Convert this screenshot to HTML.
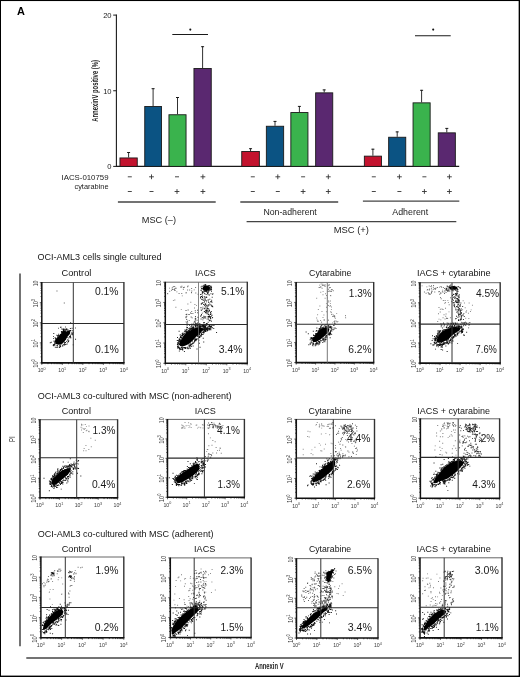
<!DOCTYPE html>
<html><head><meta charset="utf-8"><style>
html,body{margin:0;padding:0;background:#fff;}
#fig{position:relative;width:520px;height:677px;overflow:hidden;background:#fff;will-change:transform;}
#fig svg{position:absolute;left:0;top:0;}
text{font-family:"Liberation Sans", sans-serif;}
</style></head><body>
<div id="fig">
<svg width="520" height="677" viewBox="0 0 520 677" font-family='"Liberation Sans", sans-serif'>
<rect x="0" y="0" width="520" height="677" fill="#fff"/>
<text x="17.1" y="15.4" font-size="10.6" textLength="7.9" lengthAdjust="spacingAndGlyphs" font-weight="bold" fill="#000">A</text>
<line x1="116.4" y1="14.6" x2="116.4" y2="166.9" stroke="#1a1a1a" stroke-width="1.1"/>
<line x1="113.2" y1="15.1" x2="116.4" y2="15.1" stroke="#1a1a1a" stroke-width="1"/>
<text x="111.6" y="17.9" font-size="7.6" text-anchor="end" fill="#222">20</text>
<line x1="113.2" y1="90.75" x2="116.4" y2="90.75" stroke="#1a1a1a" stroke-width="1"/>
<text x="111.6" y="93.55" font-size="7.6" text-anchor="end" fill="#222">10</text>
<line x1="113.2" y1="166.4" x2="116.4" y2="166.4" stroke="#1a1a1a" stroke-width="1"/>
<text x="111.6" y="169.2" font-size="7.6" text-anchor="end" fill="#222">0</text>
<line x1="116.4" y1="166.4" x2="459.2" y2="166.4" stroke="#1a1a1a" stroke-width="1.1"/>
<text transform="translate(98.1,90.9) rotate(-90)" font-size="9.4" font-weight="bold" text-anchor="middle" textLength="61.6" lengthAdjust="spacingAndGlyphs" fill="#1a1a1a">AnnexinV positive (%)</text>
<line x1="128.6" y1="152.1" x2="128.6" y2="157.5" stroke="#1a1a1a" stroke-width="0.9"/>
<line x1="127.1" y1="152.5" x2="130.1" y2="152.5" stroke="#1a1a1a" stroke-width="1"/>
<rect x="119.95" y="157.95" width="17.3" height="8.45" fill="#c3132e" stroke="#1a1a1a" stroke-width="0.9"/>
<line x1="153.1" y1="88.3" x2="153.1" y2="106" stroke="#1a1a1a" stroke-width="0.9"/>
<line x1="151.6" y1="88.7" x2="154.6" y2="88.7" stroke="#1a1a1a" stroke-width="1"/>
<rect x="144.75" y="106.45" width="16.7" height="59.95" fill="#0b5383" stroke="#1a1a1a" stroke-width="0.9"/>
<line x1="177.5" y1="97.1" x2="177.5" y2="114.3" stroke="#1a1a1a" stroke-width="0.9"/>
<line x1="176" y1="97.5" x2="179" y2="97.5" stroke="#1a1a1a" stroke-width="1"/>
<rect x="168.95" y="114.75" width="17.1" height="51.65" fill="#3ab34d" stroke="#1a1a1a" stroke-width="0.9"/>
<line x1="202.6" y1="46.3" x2="202.6" y2="68" stroke="#1a1a1a" stroke-width="0.9"/>
<line x1="201.1" y1="46.7" x2="204.1" y2="46.7" stroke="#1a1a1a" stroke-width="1"/>
<rect x="193.95" y="68.45" width="17.3" height="97.95" fill="#5a2870" stroke="#1a1a1a" stroke-width="0.9"/>
<line x1="250.55" y1="148.3" x2="250.55" y2="151" stroke="#1a1a1a" stroke-width="0.9"/>
<line x1="249.05" y1="148.7" x2="252.05" y2="148.7" stroke="#1a1a1a" stroke-width="1"/>
<rect x="241.75" y="151.45" width="17.6" height="14.95" fill="#c3132e" stroke="#1a1a1a" stroke-width="0.9"/>
<line x1="275" y1="121" x2="275" y2="125.8" stroke="#1a1a1a" stroke-width="0.9"/>
<line x1="273.5" y1="121.4" x2="276.5" y2="121.4" stroke="#1a1a1a" stroke-width="1"/>
<rect x="266.35" y="126.25" width="17.3" height="40.15" fill="#0b5383" stroke="#1a1a1a" stroke-width="0.9"/>
<line x1="299.4" y1="106" x2="299.4" y2="112.1" stroke="#1a1a1a" stroke-width="0.9"/>
<line x1="297.9" y1="106.4" x2="300.9" y2="106.4" stroke="#1a1a1a" stroke-width="1"/>
<rect x="290.85" y="112.55" width="17.1" height="53.85" fill="#3ab34d" stroke="#1a1a1a" stroke-width="0.9"/>
<line x1="324.2" y1="89.5" x2="324.2" y2="92.4" stroke="#1a1a1a" stroke-width="0.9"/>
<line x1="322.7" y1="89.9" x2="325.7" y2="89.9" stroke="#1a1a1a" stroke-width="1"/>
<rect x="315.65" y="92.85" width="17.1" height="73.55" fill="#5a2870" stroke="#1a1a1a" stroke-width="0.9"/>
<line x1="372.9" y1="148.8" x2="372.9" y2="155.7" stroke="#1a1a1a" stroke-width="0.9"/>
<line x1="371.4" y1="149.2" x2="374.4" y2="149.2" stroke="#1a1a1a" stroke-width="1"/>
<rect x="364.35" y="156.15" width="17.1" height="10.25" fill="#c3132e" stroke="#1a1a1a" stroke-width="0.9"/>
<line x1="397.2" y1="131.5" x2="397.2" y2="136.8" stroke="#1a1a1a" stroke-width="0.9"/>
<line x1="395.7" y1="131.9" x2="398.7" y2="131.9" stroke="#1a1a1a" stroke-width="1"/>
<rect x="388.65" y="137.25" width="17.1" height="29.15" fill="#0b5383" stroke="#1a1a1a" stroke-width="0.9"/>
<line x1="421.6" y1="89.9" x2="421.6" y2="102.4" stroke="#1a1a1a" stroke-width="0.9"/>
<line x1="420.1" y1="90.3" x2="423.1" y2="90.3" stroke="#1a1a1a" stroke-width="1"/>
<rect x="413.05" y="102.85" width="17.1" height="63.55" fill="#3ab34d" stroke="#1a1a1a" stroke-width="0.9"/>
<line x1="446.8" y1="128" x2="446.8" y2="132.4" stroke="#1a1a1a" stroke-width="0.9"/>
<line x1="445.3" y1="128.4" x2="448.3" y2="128.4" stroke="#1a1a1a" stroke-width="1"/>
<rect x="438.25" y="132.85" width="17.1" height="33.55" fill="#5a2870" stroke="#1a1a1a" stroke-width="0.9"/>
<line x1="172.3" y1="34.45" x2="208" y2="34.45" stroke="#1a1a1a" stroke-width="1.1"/>
<circle cx="190.3" cy="29.6" r="1.05" fill="#111"/>
<line x1="415" y1="35.75" x2="450.7" y2="35.75" stroke="#1a1a1a" stroke-width="1.1"/>
<circle cx="433.2" cy="29.6" r="1.05" fill="#111"/>
<line x1="127.8" y1="176.8" x2="131.8" y2="176.8" stroke="#333" stroke-width="0.9"/>
<line x1="127.8" y1="191.5" x2="131.8" y2="191.5" stroke="#333" stroke-width="0.9"/>
<line x1="149.1" y1="176.8" x2="153.9" y2="176.8" stroke="#333" stroke-width="0.9"/>
<line x1="151.5" y1="174.4" x2="151.5" y2="179.2" stroke="#333" stroke-width="0.9"/>
<line x1="149.5" y1="191.5" x2="153.5" y2="191.5" stroke="#333" stroke-width="0.9"/>
<line x1="175" y1="176.8" x2="179" y2="176.8" stroke="#333" stroke-width="0.9"/>
<line x1="174.6" y1="191.5" x2="179.4" y2="191.5" stroke="#333" stroke-width="0.9"/>
<line x1="177" y1="189.1" x2="177" y2="193.9" stroke="#333" stroke-width="0.9"/>
<line x1="200.5" y1="176.8" x2="205.3" y2="176.8" stroke="#333" stroke-width="0.9"/>
<line x1="202.9" y1="174.4" x2="202.9" y2="179.2" stroke="#333" stroke-width="0.9"/>
<line x1="200.5" y1="191.5" x2="205.3" y2="191.5" stroke="#333" stroke-width="0.9"/>
<line x1="202.9" y1="189.1" x2="202.9" y2="193.9" stroke="#333" stroke-width="0.9"/>
<line x1="250.8" y1="176.8" x2="254.8" y2="176.8" stroke="#333" stroke-width="0.9"/>
<line x1="250.8" y1="191.5" x2="254.8" y2="191.5" stroke="#333" stroke-width="0.9"/>
<line x1="275.4" y1="176.8" x2="280.2" y2="176.8" stroke="#333" stroke-width="0.9"/>
<line x1="277.8" y1="174.4" x2="277.8" y2="179.2" stroke="#333" stroke-width="0.9"/>
<line x1="275.8" y1="191.5" x2="279.8" y2="191.5" stroke="#333" stroke-width="0.9"/>
<line x1="301.1" y1="176.8" x2="305.1" y2="176.8" stroke="#333" stroke-width="0.9"/>
<line x1="300.7" y1="191.5" x2="305.5" y2="191.5" stroke="#333" stroke-width="0.9"/>
<line x1="303.1" y1="189.1" x2="303.1" y2="193.9" stroke="#333" stroke-width="0.9"/>
<line x1="325.9" y1="176.8" x2="330.7" y2="176.8" stroke="#333" stroke-width="0.9"/>
<line x1="328.3" y1="174.4" x2="328.3" y2="179.2" stroke="#333" stroke-width="0.9"/>
<line x1="325.9" y1="191.5" x2="330.7" y2="191.5" stroke="#333" stroke-width="0.9"/>
<line x1="328.3" y1="189.1" x2="328.3" y2="193.9" stroke="#333" stroke-width="0.9"/>
<line x1="371.8" y1="176.8" x2="375.8" y2="176.8" stroke="#333" stroke-width="0.9"/>
<line x1="371.8" y1="191.5" x2="375.8" y2="191.5" stroke="#333" stroke-width="0.9"/>
<line x1="397" y1="176.8" x2="401.8" y2="176.8" stroke="#333" stroke-width="0.9"/>
<line x1="399.4" y1="174.4" x2="399.4" y2="179.2" stroke="#333" stroke-width="0.9"/>
<line x1="397.4" y1="191.5" x2="401.4" y2="191.5" stroke="#333" stroke-width="0.9"/>
<line x1="422.4" y1="176.8" x2="426.4" y2="176.8" stroke="#333" stroke-width="0.9"/>
<line x1="422" y1="191.5" x2="426.8" y2="191.5" stroke="#333" stroke-width="0.9"/>
<line x1="424.4" y1="189.1" x2="424.4" y2="193.9" stroke="#333" stroke-width="0.9"/>
<line x1="447" y1="176.8" x2="451.8" y2="176.8" stroke="#333" stroke-width="0.9"/>
<line x1="449.4" y1="174.4" x2="449.4" y2="179.2" stroke="#333" stroke-width="0.9"/>
<line x1="447" y1="191.5" x2="451.8" y2="191.5" stroke="#333" stroke-width="0.9"/>
<line x1="449.4" y1="189.1" x2="449.4" y2="193.9" stroke="#333" stroke-width="0.9"/>
<text x="108.5" y="179.6" font-size="8" text-anchor="end" textLength="47" lengthAdjust="spacingAndGlyphs" fill="#222">IACS-010759</text>
<text x="108.5" y="189.3" font-size="8" text-anchor="end" textLength="34" lengthAdjust="spacingAndGlyphs" fill="#222">cytarabine</text>
<line x1="117.9" y1="202" x2="215.7" y2="202" stroke="#444" stroke-width="1.3"/>
<line x1="240.3" y1="202" x2="338.2" y2="202" stroke="#444" stroke-width="1.3"/>
<line x1="362.9" y1="201.2" x2="459.3" y2="201.2" stroke="#444" stroke-width="1.3"/>
<line x1="246.6" y1="221.6" x2="456.3" y2="221.6" stroke="#444" stroke-width="1.3"/>
<text x="141.8" y="222.6" font-size="8.5" textLength="34.2" lengthAdjust="spacingAndGlyphs" fill="#222">MSC (–)</text>
<text x="263.4" y="215" font-size="8.5" textLength="53.4" lengthAdjust="spacingAndGlyphs" fill="#222">Non-adherent</text>
<text x="392.3" y="214.6" font-size="8.5" textLength="35.9" lengthAdjust="spacingAndGlyphs" fill="#222">Adherent</text>
<text x="333.7" y="233.4" font-size="8.5" textLength="35.3" lengthAdjust="spacingAndGlyphs" fill="#222">MSC (+)</text>
<line x1="20" y1="273.5" x2="20" y2="646.2" stroke="#444" stroke-width="1.5"/>
<line x1="26.3" y1="658" x2="511.9" y2="658" stroke="#444" stroke-width="1.5"/>
<text transform="translate(14.8,439.1) rotate(-90)" font-size="9" text-anchor="middle" fill="#333" textLength="5.8" lengthAdjust="spacingAndGlyphs">PI</text>
<text x="255" y="668.9" font-size="8.6" textLength="28.6" lengthAdjust="spacingAndGlyphs" font-weight="bold" fill="#222">Annexin V</text>
<text x="37.4" y="259.6" font-size="9" textLength="124.2" lengthAdjust="spacingAndGlyphs" fill="#151515">OCI-AML3 cells single cultured</text>
<text x="37.7" y="398.7" font-size="9" textLength="193.8" lengthAdjust="spacingAndGlyphs" fill="#151515">OCI-AML3 co-cultured with MSC (non-adherent)</text>
<text x="37.7" y="536.5" font-size="9" textLength="175.8" lengthAdjust="spacingAndGlyphs" fill="#151515">OCI-AML3 co-cultured with MSC (adherent)</text>
<path d="M56.5,290.5h0.95v0.95h-0.95zM63.8,302.5h0.95v0.95h-0.95zM65,326.5h0.95v0.95h-0.95zM75,327.5h0.95v0.95h-0.95zM58,327.8h0.95v0.95h-0.95zM61,328.5h0.95v0.95h-0.95z" fill="#555"/>
<path d="M68.31,340.26h0.95v0.95h-0.95zM54.08,344.58h0.95v0.95h-0.95zM54.14,342.14h0.95v0.95h-0.95zM57.31,336.72h0.95v0.95h-0.95zM62.68,329.06h0.95v0.95h-0.95zM60.9,331.29h0.95v0.95h-0.95zM56.37,334.86h0.95v0.95h-0.95zM68.07,341.06h0.95v0.95h-0.95zM53.16,344.28h0.95v0.95h-0.95zM58.58,335.43h0.95v0.95h-0.95zM60.43,333.84h0.95v0.95h-0.95zM67.35,341.85h0.95v0.95h-0.95zM57.23,334.92h0.95v0.95h-0.95zM69.4,336.48h0.95v0.95h-0.95zM61.18,332.3h0.95v0.95h-0.95zM63.95,342.62h0.95v0.95h-0.95zM63.41,329.07h0.95v0.95h-0.95zM63.31,343.96h0.95v0.95h-0.95zM65.28,328.86h0.95v0.95h-0.95zM67.44,339.42h0.95v0.95h-0.95zM53.31,332.93h0.95v0.95h-0.95zM64.26,342.77h0.95v0.95h-0.95zM64.75,328.88h0.95v0.95h-0.95zM66.16,341.16h0.95v0.95h-0.95zM71.88,334.21h0.95v0.95h-0.95zM59.4,346.37h0.95v0.95h-0.95zM66.38,329.04h0.95v0.95h-0.95zM53.6,340.49h0.95v0.95h-0.95zM71.65,333.12h0.95v0.95h-0.95zM53.07,344.71h0.95v0.95h-0.95zM64.1,344.15h0.95v0.95h-0.95zM55.45,337.79h0.95v0.95h-0.95zM72.73,344.4h0.95v0.95h-0.95zM70.1,330.04h0.95v0.95h-0.95zM52.99,337.88h0.95v0.95h-0.95zM64.33,344.34h0.95v0.95h-0.95zM70.48,337.4h0.95v0.95h-0.95zM60.03,334h0.95v0.95h-0.95zM57.25,346.49h0.95v0.95h-0.95zM53.7,340.98h0.95v0.95h-0.95zM61.14,331h0.95v0.95h-0.95zM66.21,329.04h0.95v0.95h-0.95zM60.71,326.65h0.95v0.95h-0.95zM53.16,343.92h0.95v0.95h-0.95zM54.61,337.37h0.95v0.95h-0.95zM62.37,328.46h0.95v0.95h-0.95zM50.84,341.77h0.95v0.95h-0.95zM57.35,335.98h0.95v0.95h-0.95zM58.18,333.87h0.95v0.95h-0.95zM58.93,347.01h0.95v0.95h-0.95zM70.64,333.8h0.95v0.95h-0.95zM64.22,342.28h0.95v0.95h-0.95zM63.3,328.59h0.95v0.95h-0.95zM59.98,345.39h0.95v0.95h-0.95zM69.46,329.97h0.95v0.95h-0.95zM67.6,329.51h0.95v0.95h-0.95zM65.35,343.96h0.95v0.95h-0.95zM71.72,330.33h0.95v0.95h-0.95zM66.3,328.2h0.95v0.95h-0.95zM62.79,329.2h0.95v0.95h-0.95zM72.74,331.91h0.95v0.95h-0.95zM60.1,334.01h0.95v0.95h-0.95zM67.66,339.38h0.95v0.95h-0.95zM57.21,336.77h0.95v0.95h-0.95zM69.3,335.94h0.95v0.95h-0.95zM70.21,322.13h0.95v0.95h-0.95zM52.73,344.85h0.95v0.95h-0.95zM62.53,345.24h0.95v0.95h-0.95zM69.71,335.73h0.95v0.95h-0.95zM62.97,329.96h0.95v0.95h-0.95zM71.4,332.24h0.95v0.95h-0.95zM54.78,343.17h0.95v0.95h-0.95zM60.08,346.31h0.95v0.95h-0.95zM68.36,337.5h0.95v0.95h-0.95zM65,342h0.95v0.95h-0.95zM58.34,335.33h0.95v0.95h-0.95zM71.62,327.77h0.95v0.95h-0.95zM64.1,344.51h0.95v0.95h-0.95zM60.05,326.69h0.95v0.95h-0.95zM53.29,345.23h0.95v0.95h-0.95zM69.87,328.1h0.95v0.95h-0.95zM63.54,343.94h0.95v0.95h-0.95zM54.97,338.44h0.95v0.95h-0.95zM59.75,334.45h0.95v0.95h-0.95zM67.02,329.64h0.95v0.95h-0.95zM70.02,337.2h0.95v0.95h-0.95zM72.47,333.57h0.95v0.95h-0.95zM56.36,347.03h0.95v0.95h-0.95zM54.32,343.39h0.95v0.95h-0.95zM49.79,342.28h0.95v0.95h-0.95zM54.46,342.98h0.95v0.95h-0.95zM58.82,335.27h0.95v0.95h-0.95zM54.45,344.57h0.95v0.95h-0.95zM64.45,328.73h0.95v0.95h-0.95zM63.04,329.25h0.95v0.95h-0.95zM66.62,343.53h0.95v0.95h-0.95zM66.97,339.51h0.95v0.95h-0.95zM61.81,345.63h0.95v0.95h-0.95zM62.53,329.05h0.95v0.95h-0.95zM53.06,336.14h0.95v0.95h-0.95zM57.73,334.95h0.95v0.95h-0.95zM70.02,336.17h0.95v0.95h-0.95zM75.1,338.85h0.95v0.95h-0.95zM70,335.18h0.95v0.95h-0.95zM54.22,343.64h0.95v0.95h-0.95zM59.36,345.18h0.95v0.95h-0.95zM66.83,339.63h0.95v0.95h-0.95zM62.09,345.25h0.95v0.95h-0.95zM56.26,345.39h0.95v0.95h-0.95zM66.41,329.65h0.95v0.95h-0.95zM69.04,336.21h0.95v0.95h-0.95zM54.83,346.83h0.95v0.95h-0.95z" fill="#111"/>
<path d="M62.21,336.47h0.95v0.95h-0.95zM67.53,332.83h0.95v0.95h-0.95zM56.87,344.94h0.95v0.95h-0.95zM56.14,342.57h0.95v0.95h-0.95zM69.42,330.58h0.95v0.95h-0.95zM56.42,338.42h0.95v0.95h-0.95zM54.94,340.78h0.95v0.95h-0.95zM63.23,336.29h0.95v0.95h-0.95zM67.21,330.81h0.95v0.95h-0.95zM59.38,344.49h0.95v0.95h-0.95zM68.49,333.13h0.95v0.95h-0.95zM63.19,338.06h0.95v0.95h-0.95zM65.28,330.1h0.95v0.95h-0.95zM57.58,343.53h0.95v0.95h-0.95zM65.24,330.51h0.95v0.95h-0.95zM60.56,337.19h0.95v0.95h-0.95zM60.42,335.62h0.95v0.95h-0.95zM68.58,330.29h0.95v0.95h-0.95zM62.68,332.45h0.95v0.95h-0.95zM67.24,332.34h0.95v0.95h-0.95zM62.16,333.49h0.95v0.95h-0.95zM69.33,330.97h0.95v0.95h-0.95zM64.84,339.08h0.95v0.95h-0.95zM64.37,335.93h0.95v0.95h-0.95zM66.3,332.18h0.95v0.95h-0.95zM61.9,340.73h0.95v0.95h-0.95zM57.52,339.77h0.95v0.95h-0.95zM63.17,336.78h0.95v0.95h-0.95zM59.57,340.95h0.95v0.95h-0.95zM61.4,343.54h0.95v0.95h-0.95zM63.78,341.49h0.95v0.95h-0.95zM60.72,341.65h0.95v0.95h-0.95zM59.52,342.22h0.95v0.95h-0.95zM55.78,340.63h0.95v0.95h-0.95zM57.61,337.97h0.95v0.95h-0.95zM61.84,334.44h0.95v0.95h-0.95zM66.76,336.89h0.95v0.95h-0.95zM64.98,333.22h0.95v0.95h-0.95zM64.87,335.76h0.95v0.95h-0.95zM60.65,336.72h0.95v0.95h-0.95zM64.53,335.08h0.95v0.95h-0.95zM59.96,344.65h0.95v0.95h-0.95zM55.04,341.29h0.95v0.95h-0.95zM59.33,340.89h0.95v0.95h-0.95zM68.26,330.94h0.95v0.95h-0.95z" fill="#111"/>
<polygon points="55.11,340.09 56.83,338.03 58.89,335.96 60.96,333.88 62.41,331.09 64.11,330.01 66.18,331.46 68.61,330.74 70.33,331.81 69.69,334.16 67.62,336.58 66.18,339.01 64.83,341.08 62.77,343.16 60.7,344.59 57.91,344.59 55.84,343.88 55.11,342.16" fill="#000"/>
<path d="M47.98,362.9v1.3M51.59,362.9v1.3M54.16,362.9v1.3M56.15,362.9v1.3M57.77,362.9v1.3M59.15,362.9v1.3M60.34,362.9v1.3M61.39,362.9v1.3M41.8,356.85h-1.3M41.8,353.31h-1.3M41.8,350.8h-1.3M41.8,348.85h-1.3M41.8,347.26h-1.3M41.8,345.91h-1.3M41.8,344.75h-1.3M41.8,343.72h-1.3M68.5,362.9v1.3M72.12,362.9v1.3M74.68,362.9v1.3M76.67,362.9v1.3M78.3,362.9v1.3M79.67,362.9v1.3M80.86,362.9v1.3M81.91,362.9v1.3M41.8,336.75h-1.3M41.8,333.21h-1.3M41.8,330.7h-1.3M41.8,328.75h-1.3M41.8,327.16h-1.3M41.8,325.81h-1.3M41.8,324.65h-1.3M41.8,323.62h-1.3M89.03,362.9v1.3M92.64,362.9v1.3M95.21,362.9v1.3M97.2,362.9v1.3M98.82,362.9v1.3M100.2,362.9v1.3M101.39,362.9v1.3M102.44,362.9v1.3M41.8,316.65h-1.3M41.8,313.11h-1.3M41.8,310.6h-1.3M41.8,308.65h-1.3M41.8,307.06h-1.3M41.8,305.71h-1.3M41.8,304.55h-1.3M41.8,303.52h-1.3M109.55,362.9v1.3M113.17,362.9v1.3M115.73,362.9v1.3M117.72,362.9v1.3M119.35,362.9v1.3M120.72,362.9v1.3M121.91,362.9v1.3M122.96,362.9v1.3M41.8,296.55h-1.3M41.8,293.01h-1.3M41.8,290.5h-1.3M41.8,288.55h-1.3M41.8,286.96h-1.3M41.8,285.61h-1.3M41.8,284.45h-1.3M41.8,283.42h-1.3M41.8,362.9v2M41.8,362.9h-2M62.33,362.9v2M41.8,342.8h-2M82.85,362.9v2M41.8,322.7h-2M103.38,362.9v2M41.8,302.6h-2M123.9,362.9v2M41.8,282.5h-2" stroke="#222" stroke-width="0.7" fill="none"/>
<line x1="41.8" y1="282.5" x2="123.9" y2="282.5" stroke="#555" stroke-width="0.9"/>
<line x1="123.9" y1="282.05" x2="123.9" y2="362.9" stroke="#333" stroke-width="1.4"/>
<line x1="41.8" y1="282.1" x2="41.8" y2="363.5" stroke="#111" stroke-width="1.5"/>
<line x1="41.4" y1="362.9" x2="124.5" y2="362.9" stroke="#111" stroke-width="1.6"/>
<line x1="73.3" y1="282.5" x2="73.3" y2="362.9" stroke="#333" stroke-width="1"/>
<line x1="41.8" y1="323.5" x2="123.9" y2="323.5" stroke="#2a2a2a" stroke-width="1.1"/>
<text x="37.7" y="372.2" font-size="6.2" fill="#3a3a3a" textLength="7.9" lengthAdjust="spacingAndGlyphs">10<tspan dy="-2.4" font-size="4.4">0</tspan></text>
<text x="58.23" y="372.2" font-size="6.2" fill="#3a3a3a" textLength="7.9" lengthAdjust="spacingAndGlyphs">10<tspan dy="-2.4" font-size="4.4">1</tspan></text>
<text x="78.75" y="372.2" font-size="6.2" fill="#3a3a3a" textLength="7.9" lengthAdjust="spacingAndGlyphs">10<tspan dy="-2.4" font-size="4.4">2</tspan></text>
<text x="99.28" y="372.2" font-size="6.2" fill="#3a3a3a" textLength="7.9" lengthAdjust="spacingAndGlyphs">10<tspan dy="-2.4" font-size="4.4">3</tspan></text>
<text x="119.8" y="372.2" font-size="6.2" fill="#3a3a3a" textLength="7.9" lengthAdjust="spacingAndGlyphs">10<tspan dy="-2.4" font-size="4.4">4</tspan></text>
<text transform="translate(37.9,367.8) rotate(-90)" font-size="6.8" fill="#3a3a3a" textLength="8.6" lengthAdjust="spacingAndGlyphs">10<tspan dy="-2.6" font-size="4.8">0</tspan></text>
<text transform="translate(37.9,347.7) rotate(-90)" font-size="6.8" fill="#3a3a3a" textLength="8.6" lengthAdjust="spacingAndGlyphs">10<tspan dy="-2.6" font-size="4.8">1</tspan></text>
<text transform="translate(37.9,327.6) rotate(-90)" font-size="6.8" fill="#3a3a3a" textLength="8.6" lengthAdjust="spacingAndGlyphs">10<tspan dy="-2.6" font-size="4.8">2</tspan></text>
<text transform="translate(37.9,307.5) rotate(-90)" font-size="6.8" fill="#3a3a3a" textLength="8.6" lengthAdjust="spacingAndGlyphs">10<tspan dy="-2.6" font-size="4.8">3</tspan></text>
<text transform="translate(37.9,286.3) rotate(-90)" font-size="6.8" fill="#3a3a3a" textLength="5.8" lengthAdjust="spacingAndGlyphs">10</text>
<text x="61.5" y="276" font-size="9" textLength="29.9" lengthAdjust="spacingAndGlyphs" fill="#151515">Control</text>
<text x="94.9" y="295.2" font-size="10.4" textLength="23.6" lengthAdjust="spacingAndGlyphs" fill="#1a1a1a">0.1%</text>
<text x="95" y="353.3" font-size="10.4" textLength="23.9" lengthAdjust="spacingAndGlyphs" fill="#1a1a1a">0.1%</text>
<path d="M189.18,289.46h0.95v0.95h-0.95zM191.07,292.21h0.95v0.95h-0.95zM195.32,292.43h0.95v0.95h-0.95zM171.11,289.72h0.95v0.95h-0.95zM167.27,293.41h0.95v0.95h-0.95zM176.4,291.38h0.95v0.95h-0.95zM171.69,287.51h0.95v0.95h-0.95zM193.7,289.42h0.95v0.95h-0.95zM191.3,290.56h0.95v0.95h-0.95zM182.87,288.83h0.95v0.95h-0.95zM171.96,288.97h0.95v0.95h-0.95zM187.14,289.59h0.95v0.95h-0.95zM183.88,286.87h0.95v0.95h-0.95zM180.22,286.39h0.95v0.95h-0.95zM169.24,290.81h0.95v0.95h-0.95zM173.46,289.08h0.95v0.95h-0.95zM197.64,293.76h0.95v0.95h-0.95zM172.37,286.63h0.95v0.95h-0.95zM181.29,293.08h0.95v0.95h-0.95zM174.28,290.08h0.95v0.95h-0.95zM190.99,291.96h0.95v0.95h-0.95zM191.17,288h0.95v0.95h-0.95zM175.66,287.78h0.95v0.95h-0.95zM174.88,287.71h0.95v0.95h-0.95zM180.62,287.08h0.95v0.95h-0.95zM174.3,287.89h0.95v0.95h-0.95zM195.13,287.1h0.95v0.95h-0.95zM169.01,287.64h0.95v0.95h-0.95zM174.62,289.97h0.95v0.95h-0.95zM187.14,286.35h0.95v0.95h-0.95zM181.38,285.81h0.95v0.95h-0.95zM167.14,293h0.95v0.95h-0.95zM174.16,289.31h0.95v0.95h-0.95zM178.59,292.95h0.95v0.95h-0.95zM174.22,285.93h0.95v0.95h-0.95zM185.62,292.54h0.95v0.95h-0.95zM173.02,286.14h0.95v0.95h-0.95zM182.89,287.01h0.95v0.95h-0.95zM185.69,292.09h0.95v0.95h-0.95zM187.61,285.55h0.95v0.95h-0.95z" fill="#666"/>
<path d="M207.97,314h0.95v0.95h-0.95zM204.37,293.16h0.95v0.95h-0.95zM204.25,293.37h0.95v0.95h-0.95zM212.5,293.19h0.95v0.95h-0.95zM209.15,320.33h0.95v0.95h-0.95zM210.18,317.38h0.95v0.95h-0.95zM205.11,303.53h0.95v0.95h-0.95zM207.76,294.42h0.95v0.95h-0.95zM200.39,307.36h0.95v0.95h-0.95zM206.04,304.65h0.95v0.95h-0.95zM209.95,312.58h0.95v0.95h-0.95zM201.93,308.55h0.95v0.95h-0.95zM208.16,304.33h0.95v0.95h-0.95zM203.39,322.64h0.95v0.95h-0.95zM208.35,304.95h0.95v0.95h-0.95zM200.64,315.11h0.95v0.95h-0.95zM211.05,304.84h0.95v0.95h-0.95zM200.23,315.77h0.95v0.95h-0.95zM210.03,311.98h0.95v0.95h-0.95zM204.88,304.55h0.95v0.95h-0.95zM211.77,305.46h0.95v0.95h-0.95zM201.96,295.52h0.95v0.95h-0.95zM201.13,309.91h0.95v0.95h-0.95zM204.56,315.96h0.95v0.95h-0.95zM201.62,293.6h0.95v0.95h-0.95zM201.78,317h0.95v0.95h-0.95zM204.96,309.76h0.95v0.95h-0.95zM211.59,314.85h0.95v0.95h-0.95zM202.15,302.79h0.95v0.95h-0.95zM202.02,297.33h0.95v0.95h-0.95zM200.84,303.9h0.95v0.95h-0.95zM209.42,316.56h0.95v0.95h-0.95zM210.06,301.35h0.95v0.95h-0.95zM210.47,293.35h0.95v0.95h-0.95zM211.41,301.75h0.95v0.95h-0.95zM207.6,311.73h0.95v0.95h-0.95zM201.08,314.08h0.95v0.95h-0.95zM208.6,319.63h0.95v0.95h-0.95zM208,318.55h0.95v0.95h-0.95zM207.76,311.06h0.95v0.95h-0.95zM202.45,306.66h0.95v0.95h-0.95zM207.07,293.29h0.95v0.95h-0.95zM211.73,296.85h0.95v0.95h-0.95zM204.49,296.63h0.95v0.95h-0.95zM212.13,317.29h0.95v0.95h-0.95zM202.41,319.4h0.95v0.95h-0.95zM210.53,312.84h0.95v0.95h-0.95zM208.35,302.05h0.95v0.95h-0.95zM204.87,306.13h0.95v0.95h-0.95zM210.61,316.12h0.95v0.95h-0.95zM208.11,301.55h0.95v0.95h-0.95zM203.12,304.07h0.95v0.95h-0.95zM204.59,307.61h0.95v0.95h-0.95zM202.23,292.11h0.95v0.95h-0.95zM212.33,306.42h0.95v0.95h-0.95zM205.59,311.18h0.95v0.95h-0.95zM210.24,317.93h0.95v0.95h-0.95zM210.13,304.41h0.95v0.95h-0.95zM200.84,303.12h0.95v0.95h-0.95zM204.57,316.87h0.95v0.95h-0.95zM206.3,312.37h0.95v0.95h-0.95zM200.51,296.04h0.95v0.95h-0.95zM211.53,301.73h0.95v0.95h-0.95zM209,294.48h0.95v0.95h-0.95zM209.4,319.74h0.95v0.95h-0.95zM208.16,316.31h0.95v0.95h-0.95zM200.32,294.06h0.95v0.95h-0.95zM207.68,313.47h0.95v0.95h-0.95zM201.37,296.08h0.95v0.95h-0.95zM211.07,300.92h0.95v0.95h-0.95zM210.14,316.64h0.95v0.95h-0.95zM208.58,314.35h0.95v0.95h-0.95zM202.76,317.82h0.95v0.95h-0.95zM207.63,299.82h0.95v0.95h-0.95zM204.05,311.02h0.95v0.95h-0.95zM211.31,306.15h0.95v0.95h-0.95zM203.18,321.89h0.95v0.95h-0.95zM206,310.35h0.95v0.95h-0.95zM207.7,299.36h0.95v0.95h-0.95zM204.65,298.17h0.95v0.95h-0.95zM205.04,311.73h0.95v0.95h-0.95zM203.48,302.16h0.95v0.95h-0.95zM204.71,316.56h0.95v0.95h-0.95zM203.3,315.82h0.95v0.95h-0.95zM200.61,318.61h0.95v0.95h-0.95zM212.08,306.04h0.95v0.95h-0.95zM206.52,313.35h0.95v0.95h-0.95zM211.2,299.81h0.95v0.95h-0.95zM206.7,318.55h0.95v0.95h-0.95zM209.22,303.52h0.95v0.95h-0.95zM204.7,303.44h0.95v0.95h-0.95zM201.83,302.26h0.95v0.95h-0.95zM201.02,299.13h0.95v0.95h-0.95zM207.69,321.7h0.95v0.95h-0.95zM203.7,308h0.95v0.95h-0.95zM203.88,321.94h0.95v0.95h-0.95zM210.88,320.78h0.95v0.95h-0.95zM211.2,314.72h0.95v0.95h-0.95zM209.34,298.87h0.95v0.95h-0.95zM203.64,311.39h0.95v0.95h-0.95zM205.22,303.29h0.95v0.95h-0.95zM200.6,307.14h0.95v0.95h-0.95zM207.66,293.41h0.95v0.95h-0.95zM200.68,309.58h0.95v0.95h-0.95zM203.8,308.22h0.95v0.95h-0.95zM206.68,304.81h0.95v0.95h-0.95zM203.76,296.15h0.95v0.95h-0.95zM204.58,317.68h0.95v0.95h-0.95zM201.98,292.44h0.95v0.95h-0.95zM210.02,313.93h0.95v0.95h-0.95zM205.64,293.97h0.95v0.95h-0.95zM201.81,312.63h0.95v0.95h-0.95zM203.37,317.16h0.95v0.95h-0.95zM212.09,293.74h0.95v0.95h-0.95zM210.26,319.67h0.95v0.95h-0.95zM207.43,309.93h0.95v0.95h-0.95zM207.52,308.05h0.95v0.95h-0.95zM206.16,297.12h0.95v0.95h-0.95zM200,293.91h0.95v0.95h-0.95zM200.32,297.76h0.95v0.95h-0.95zM197.82,327.52h0.95v0.95h-0.95zM196.41,325.12h0.95v0.95h-0.95zM197.99,326.81h0.95v0.95h-0.95zM190.79,329.88h0.95v0.95h-0.95zM203.66,329.61h0.95v0.95h-0.95zM189.55,327.16h0.95v0.95h-0.95zM205.3,327.24h0.95v0.95h-0.95zM186.95,327.07h0.95v0.95h-0.95zM200.61,329.08h0.95v0.95h-0.95zM198.61,326.88h0.95v0.95h-0.95zM195.05,326.24h0.95v0.95h-0.95zM205.29,324.8h0.95v0.95h-0.95zM192.47,325.34h0.95v0.95h-0.95zM204,327.88h0.95v0.95h-0.95zM200.22,324.87h0.95v0.95h-0.95zM207.13,328.79h0.95v0.95h-0.95zM203.29,328.06h0.95v0.95h-0.95zM213.29,328.06h0.95v0.95h-0.95zM202.88,325.44h0.95v0.95h-0.95zM192.61,329.69h0.95v0.95h-0.95zM193.24,329.68h0.95v0.95h-0.95zM213.86,324.15h0.95v0.95h-0.95zM204.42,324.37h0.95v0.95h-0.95zM190.23,324.04h0.95v0.95h-0.95zM194.46,325.08h0.95v0.95h-0.95zM193.67,323.76h0.95v0.95h-0.95zM211.52,324.97h0.95v0.95h-0.95zM210.79,326.25h0.95v0.95h-0.95zM186.35,328.98h0.95v0.95h-0.95zM198.22,324.56h0.95v0.95h-0.95zM213.46,325.07h0.95v0.95h-0.95zM186.62,324.8h0.95v0.95h-0.95zM206.67,323.04h0.95v0.95h-0.95zM192.78,328.97h0.95v0.95h-0.95zM205.63,327.11h0.95v0.95h-0.95zM204.12,328.92h0.95v0.95h-0.95zM204.7,327.57h0.95v0.95h-0.95zM210.57,327.49h0.95v0.95h-0.95zM202.35,324.6h0.95v0.95h-0.95zM191.08,323.87h0.95v0.95h-0.95zM198.11,324.82h0.95v0.95h-0.95zM205.62,329.26h0.95v0.95h-0.95zM192.79,325.8h0.95v0.95h-0.95zM205.95,324.1h0.95v0.95h-0.95zM209.78,326.38h0.95v0.95h-0.95zM186.55,329.01h0.95v0.95h-0.95zM200.51,327.63h0.95v0.95h-0.95zM210.44,329.26h0.95v0.95h-0.95zM195.19,323.07h0.95v0.95h-0.95zM209.29,329.36h0.95v0.95h-0.95zM188.98,324.76h0.95v0.95h-0.95zM192.1,328.01h0.95v0.95h-0.95zM212.64,324.4h0.95v0.95h-0.95zM195.75,328.93h0.95v0.95h-0.95zM198.79,324.43h0.95v0.95h-0.95zM199.32,323.11h0.95v0.95h-0.95zM208.19,325.59h0.95v0.95h-0.95zM195.6,328.19h0.95v0.95h-0.95zM198.79,329.93h0.95v0.95h-0.95zM191.15,326.6h0.95v0.95h-0.95zM209.09,285.23h0.95v0.95h-0.95zM202.56,287.72h0.95v0.95h-0.95zM207.91,287.04h0.95v0.95h-0.95zM209.34,289h0.95v0.95h-0.95zM210.95,286.51h0.95v0.95h-0.95zM204.1,286.21h0.95v0.95h-0.95zM200.63,286.56h0.95v0.95h-0.95zM204.26,288.44h0.95v0.95h-0.95zM210.48,287.07h0.95v0.95h-0.95zM202.44,288.43h0.95v0.95h-0.95zM201.42,285.67h0.95v0.95h-0.95zM208.56,285.07h0.95v0.95h-0.95zM206.65,287.64h0.95v0.95h-0.95zM206.89,287.57h0.95v0.95h-0.95zM209.86,288.27h0.95v0.95h-0.95zM206.01,288.9h0.95v0.95h-0.95zM204.51,285.25h0.95v0.95h-0.95zM208.08,290.24h0.95v0.95h-0.95zM200.47,289.73h0.95v0.95h-0.95zM207.5,285.5h0.95v0.95h-0.95zM207.96,291.9h0.95v0.95h-0.95zM205.06,284.83h0.95v0.95h-0.95zM203.71,290.43h0.95v0.95h-0.95zM210.35,285.6h0.95v0.95h-0.95zM206.8,289.22h0.95v0.95h-0.95zM210.97,288.48h0.95v0.95h-0.95zM206.27,291.49h0.95v0.95h-0.95zM209.29,287.77h0.95v0.95h-0.95zM208.35,287.62h0.95v0.95h-0.95zM200.81,290.16h0.95v0.95h-0.95zM207.91,285.33h0.95v0.95h-0.95zM209.24,288.95h0.95v0.95h-0.95zM201,288.24h0.95v0.95h-0.95zM210.75,289.67h0.95v0.95h-0.95zM205.12,283.99h0.95v0.95h-0.95zM210.3,285.91h0.95v0.95h-0.95zM201.46,288.25h0.95v0.95h-0.95zM203.31,289.13h0.95v0.95h-0.95zM205.41,290.75h0.95v0.95h-0.95zM211.07,287.27h0.95v0.95h-0.95zM208.97,290.29h0.95v0.95h-0.95zM201.74,290.89h0.95v0.95h-0.95zM203.52,289.03h0.95v0.95h-0.95zM205.98,290.06h0.95v0.95h-0.95zM208.24,289.59h0.95v0.95h-0.95zM204.67,286.77h0.95v0.95h-0.95zM207.2,292.71h0.95v0.95h-0.95zM210.02,289.5h0.95v0.95h-0.95zM203.8,292.63h0.95v0.95h-0.95zM208.73,288.22h0.95v0.95h-0.95zM201.97,291.28h0.95v0.95h-0.95zM205.72,291.06h0.95v0.95h-0.95zM205.43,286.4h0.95v0.95h-0.95zM209.06,286.97h0.95v0.95h-0.95zM203.36,289.62h0.95v0.95h-0.95zM207.81,291.28h0.95v0.95h-0.95zM207.2,291.9h0.95v0.95h-0.95zM201.81,291.56h0.95v0.95h-0.95zM207.02,292.88h0.95v0.95h-0.95zM202.95,287.46h0.95v0.95h-0.95zM204.51,291h0.95v0.95h-0.95zM202.81,288.05h0.95v0.95h-0.95zM208.26,286.86h0.95v0.95h-0.95zM203.22,285.35h0.95v0.95h-0.95zM211.05,290.92h0.95v0.95h-0.95zM209.4,286.55h0.95v0.95h-0.95zM206.57,291.05h0.95v0.95h-0.95zM206,288.82h0.95v0.95h-0.95zM206.48,288.36h0.95v0.95h-0.95zM204.58,291.15h0.95v0.95h-0.95zM203.71,284.43h0.95v0.95h-0.95zM204.75,290.42h0.95v0.95h-0.95zM211.11,289.29h0.95v0.95h-0.95zM206.49,288.83h0.95v0.95h-0.95zM204.26,284.48h0.95v0.95h-0.95zM204.78,288.69h0.95v0.95h-0.95zM203.11,291.57h0.95v0.95h-0.95zM203.85,288.56h0.95v0.95h-0.95zM202.42,285.86h0.95v0.95h-0.95zM203.48,289.22h0.95v0.95h-0.95zM204.31,291.07h0.95v0.95h-0.95zM210.28,286.17h0.95v0.95h-0.95zM211.07,288.44h0.95v0.95h-0.95zM210.4,287.32h0.95v0.95h-0.95zM205.56,284.65h0.95v0.95h-0.95zM203.37,289.49h0.95v0.95h-0.95zM210.45,289.1h0.95v0.95h-0.95zM207.04,285.86h0.95v0.95h-0.95zM211.11,286.47h0.95v0.95h-0.95zM201.17,288.01h0.95v0.95h-0.95z" fill="#222"/>
<path d="M204.75,299.3h0.95v0.95h-0.95zM208.09,316.47h0.95v0.95h-0.95zM206.59,310.77h0.95v0.95h-0.95zM205.61,299.95h0.95v0.95h-0.95zM206.75,310.38h0.95v0.95h-0.95zM208.95,309.8h0.95v0.95h-0.95zM205.73,307.45h0.95v0.95h-0.95zM206.13,296.55h0.95v0.95h-0.95zM210.78,311.07h0.95v0.95h-0.95zM207.47,306.16h0.95v0.95h-0.95zM206.33,305.52h0.95v0.95h-0.95zM207.86,316.55h0.95v0.95h-0.95zM203.39,300.13h0.95v0.95h-0.95zM210.1,317.89h0.95v0.95h-0.95zM202.16,299.26h0.95v0.95h-0.95zM206.7,316.42h0.95v0.95h-0.95zM206.13,301.38h0.95v0.95h-0.95zM204.55,296.78h0.95v0.95h-0.95zM209.15,310.66h0.95v0.95h-0.95zM208.44,316.49h0.95v0.95h-0.95zM209.68,316.37h0.95v0.95h-0.95zM208.04,316.06h0.95v0.95h-0.95zM203.46,299.97h0.95v0.95h-0.95zM208.9,316.04h0.95v0.95h-0.95zM204.79,299.29h0.95v0.95h-0.95zM208.98,316.26h0.95v0.95h-0.95zM206.1,309.58h0.95v0.95h-0.95zM204.05,304.86h0.95v0.95h-0.95zM212.03,316.91h0.95v0.95h-0.95zM210.2,314.1h0.95v0.95h-0.95zM207.02,307.58h0.95v0.95h-0.95zM200.11,297.07h0.95v0.95h-0.95zM204.14,301.3h0.95v0.95h-0.95zM208.9,315.56h0.95v0.95h-0.95zM208.25,308.51h0.95v0.95h-0.95zM206.81,308.48h0.95v0.95h-0.95zM203.51,298.55h0.95v0.95h-0.95zM205.63,310.23h0.95v0.95h-0.95zM205.12,312.3h0.95v0.95h-0.95zM202.11,297.03h0.95v0.95h-0.95zM208.64,328.36h0.95v0.95h-0.95zM205.02,326.85h0.95v0.95h-0.95zM203.12,325.04h0.95v0.95h-0.95zM209.25,328.02h0.95v0.95h-0.95zM203.59,326.39h0.95v0.95h-0.95zM206.5,330.23h0.95v0.95h-0.95zM212.11,327.33h0.95v0.95h-0.95zM204.15,330.08h0.95v0.95h-0.95zM203.19,329.31h0.95v0.95h-0.95zM204.43,328.39h0.95v0.95h-0.95zM203.96,328.53h0.95v0.95h-0.95zM206.63,330.48h0.95v0.95h-0.95zM210.1,328.43h0.95v0.95h-0.95zM210.3,327.37h0.95v0.95h-0.95zM210.34,325.96h0.95v0.95h-0.95zM209.54,328.66h0.95v0.95h-0.95zM207.32,329.35h0.95v0.95h-0.95zM210.49,326.71h0.95v0.95h-0.95zM209.04,326.49h0.95v0.95h-0.95zM207.35,328.28h0.95v0.95h-0.95zM203.35,329.89h0.95v0.95h-0.95zM204.03,326.39h0.95v0.95h-0.95zM206.35,325.1h0.95v0.95h-0.95zM208.15,326.52h0.95v0.95h-0.95zM205.95,328.04h0.95v0.95h-0.95zM209.07,325.84h0.95v0.95h-0.95zM203.22,326.33h0.95v0.95h-0.95zM208.58,328.01h0.95v0.95h-0.95zM211.04,325.7h0.95v0.95h-0.95zM207.02,329.23h0.95v0.95h-0.95zM204.59,326.97h0.95v0.95h-0.95zM207.85,328.2h0.95v0.95h-0.95zM203.4,329.92h0.95v0.95h-0.95zM207.99,328.36h0.95v0.95h-0.95zM205.47,327.52h0.95v0.95h-0.95zM204.63,325.06h0.95v0.95h-0.95zM203.67,325.3h0.95v0.95h-0.95zM206.69,329.48h0.95v0.95h-0.95zM207.23,327.89h0.95v0.95h-0.95zM207.34,329.94h0.95v0.95h-0.95zM209.5,326.05h0.95v0.95h-0.95zM204.15,328.14h0.95v0.95h-0.95zM209.85,325.55h0.95v0.95h-0.95zM205.71,328.71h0.95v0.95h-0.95zM207.48,326.35h0.95v0.95h-0.95zM207.16,327.11h0.95v0.95h-0.95zM204.31,326.73h0.95v0.95h-0.95zM208.97,324.72h0.95v0.95h-0.95zM202.96,328.95h0.95v0.95h-0.95zM203.44,327.46h0.95v0.95h-0.95zM195.03,324.84h0.95v0.95h-0.95zM188.15,329.63h0.95v0.95h-0.95zM199.46,326.43h0.95v0.95h-0.95zM199.58,346.81h0.95v0.95h-0.95zM178.22,341.35h0.95v0.95h-0.95zM182.84,333.93h0.95v0.95h-0.95zM204.96,331.16h0.95v0.95h-0.95zM192.92,328.08h0.95v0.95h-0.95zM184.73,346.97h0.95v0.95h-0.95zM202.87,332.6h0.95v0.95h-0.95zM198.24,337.12h0.95v0.95h-0.95zM185.17,331.4h0.95v0.95h-0.95zM177.46,344.09h0.95v0.95h-0.95zM204.36,326.1h0.95v0.95h-0.95zM191.68,328.46h0.95v0.95h-0.95zM202.75,337.78h0.95v0.95h-0.95zM187.38,330.39h0.95v0.95h-0.95zM194.88,339.58h0.95v0.95h-0.95zM195.29,340.2h0.95v0.95h-0.95zM188.86,330h0.95v0.95h-0.95zM180.09,334.59h0.95v0.95h-0.95zM179.33,349.25h0.95v0.95h-0.95zM194.32,339.54h0.95v0.95h-0.95zM182.32,349.33h0.95v0.95h-0.95zM197.42,326.41h0.95v0.95h-0.95zM177.27,346.65h0.95v0.95h-0.95zM183.56,333.85h0.95v0.95h-0.95zM177.09,345.95h0.95v0.95h-0.95zM199.27,335.76h0.95v0.95h-0.95zM180.83,337.74h0.95v0.95h-0.95zM184.36,333.01h0.95v0.95h-0.95zM198.28,335.46h0.95v0.95h-0.95zM177.89,340.04h0.95v0.95h-0.95zM182.6,334.82h0.95v0.95h-0.95zM189.36,344.67h0.95v0.95h-0.95zM182.98,347.3h0.95v0.95h-0.95zM206.19,329.16h0.95v0.95h-0.95zM189.91,347.84h0.95v0.95h-0.95zM195.69,339.43h0.95v0.95h-0.95zM177.29,343.35h0.95v0.95h-0.95zM186.37,332.18h0.95v0.95h-0.95zM177.07,337.06h0.95v0.95h-0.95zM199.21,324.36h0.95v0.95h-0.95zM181.7,333.29h0.95v0.95h-0.95zM184.68,347.72h0.95v0.95h-0.95zM196.6,325.08h0.95v0.95h-0.95zM200.75,332.43h0.95v0.95h-0.95zM202.38,324.87h0.95v0.95h-0.95zM177.27,346.8h0.95v0.95h-0.95zM176.98,343.75h0.95v0.95h-0.95zM205.69,328.12h0.95v0.95h-0.95zM191.42,329.32h0.95v0.95h-0.95zM198.98,335.71h0.95v0.95h-0.95zM182.46,332.62h0.95v0.95h-0.95zM180.42,349h0.95v0.95h-0.95zM198.87,342.75h0.95v0.95h-0.95zM182.22,347.65h0.95v0.95h-0.95zM192.35,342.99h0.95v0.95h-0.95zM185.64,347.22h0.95v0.95h-0.95zM205.73,328.34h0.95v0.95h-0.95zM197.35,338.15h0.95v0.95h-0.95zM202.57,334.07h0.95v0.95h-0.95zM195.21,325.35h0.95v0.95h-0.95zM176.93,344.32h0.95v0.95h-0.95zM183.96,346.99h0.95v0.95h-0.95zM203.3,330.97h0.95v0.95h-0.95zM193.52,328.08h0.95v0.95h-0.95zM190.67,344.61h0.95v0.95h-0.95zM190.77,345.94h0.95v0.95h-0.95zM203.87,326.74h0.95v0.95h-0.95zM205.9,322.98h0.95v0.95h-0.95zM202.49,326.27h0.95v0.95h-0.95zM179.79,339.41h0.95v0.95h-0.95zM178.74,338.13h0.95v0.95h-0.95zM202.8,331.62h0.95v0.95h-0.95zM196.42,339.07h0.95v0.95h-0.95zM191.98,329.28h0.95v0.95h-0.95zM181.77,334.49h0.95v0.95h-0.95zM178.71,339.02h0.95v0.95h-0.95zM197.58,326.5h0.95v0.95h-0.95zM190.31,343.7h0.95v0.95h-0.95zM179.56,340.84h0.95v0.95h-0.95zM186.96,327.29h0.95v0.95h-0.95zM196.04,339.26h0.95v0.95h-0.95zM190.03,344.66h0.95v0.95h-0.95zM188.16,330.11h0.95v0.95h-0.95zM203.65,331.37h0.95v0.95h-0.95zM182.53,333.2h0.95v0.95h-0.95zM205.53,328.14h0.95v0.95h-0.95zM185.69,332.26h0.95v0.95h-0.95zM197.65,335.67h0.95v0.95h-0.95zM203.69,332.19h0.95v0.95h-0.95zM190.96,328.06h0.95v0.95h-0.95zM188.41,347.56h0.95v0.95h-0.95zM186.15,330.16h0.95v0.95h-0.95zM204.96,330.32h0.95v0.95h-0.95zM178.04,347.11h0.95v0.95h-0.95zM192.64,345.45h0.95v0.95h-0.95zM179.79,336.93h0.95v0.95h-0.95zM202.77,332.48h0.95v0.95h-0.95zM185.92,328.81h0.95v0.95h-0.95zM179.75,348.28h0.95v0.95h-0.95zM184.46,347.21h0.95v0.95h-0.95zM205.37,331.15h0.95v0.95h-0.95zM203.28,332.19h0.95v0.95h-0.95zM195.56,338.4h0.95v0.95h-0.95zM204.05,329.97h0.95v0.95h-0.95zM189.32,345.85h0.95v0.95h-0.95zM204.57,324.5h0.95v0.95h-0.95zM202.06,331.81h0.95v0.95h-0.95zM202.2,333.94h0.95v0.95h-0.95zM195.42,339.03h0.95v0.95h-0.95zM186.62,331.74h0.95v0.95h-0.95zM193.21,342.59h0.95v0.95h-0.95zM179.4,341.44h0.95v0.95h-0.95zM183.92,331.18h0.95v0.95h-0.95zM193.91,341.47h0.95v0.95h-0.95zM189.58,345.25h0.95v0.95h-0.95zM188.43,327.93h0.95v0.95h-0.95zM178.23,346.86h0.95v0.95h-0.95zM198.14,325.85h0.95v0.95h-0.95zM189.94,344.99h0.95v0.95h-0.95zM203.28,341.58h0.95v0.95h-0.95zM195.08,338.71h0.95v0.95h-0.95zM202,324.51h0.95v0.95h-0.95zM186.12,331.01h0.95v0.95h-0.95zM208.72,329.34h0.95v0.95h-0.95zM202.6,325.78h0.95v0.95h-0.95zM191.34,343.77h0.95v0.95h-0.95zM181.79,348.8h0.95v0.95h-0.95zM200.9,333.17h0.95v0.95h-0.95zM180.56,337.1h0.95v0.95h-0.95zM199.83,336.23h0.95v0.95h-0.95zM185.18,348.09h0.95v0.95h-0.95zM194.28,340.55h0.95v0.95h-0.95zM190.32,329.12h0.95v0.95h-0.95zM191.41,328.42h0.95v0.95h-0.95zM196.49,348.49h0.95v0.95h-0.95zM179.31,338.94h0.95v0.95h-0.95zM179.31,348.4h0.95v0.95h-0.95zM178.18,342.51h0.95v0.95h-0.95zM191.89,343.19h0.95v0.95h-0.95zM204.15,330.62h0.95v0.95h-0.95zM198.29,325.38h0.95v0.95h-0.95zM195,326.49h0.95v0.95h-0.95zM179.6,334.6h0.95v0.95h-0.95zM193.87,341.08h0.95v0.95h-0.95zM182.56,333.58h0.95v0.95h-0.95zM195.73,338.16h0.95v0.95h-0.95zM192.67,327.01h0.95v0.95h-0.95zM184.8,330.89h0.95v0.95h-0.95zM205.48,328.3h0.95v0.95h-0.95zM196.72,324.37h0.95v0.95h-0.95zM196.94,336.17h0.95v0.95h-0.95zM182.13,335.59h0.95v0.95h-0.95zM178.61,342.7h0.95v0.95h-0.95zM186.26,326.7h0.95v0.95h-0.95zM188.57,346.17h0.95v0.95h-0.95zM200.5,334.73h0.95v0.95h-0.95zM176.85,340h0.95v0.95h-0.95zM189.04,329.61h0.95v0.95h-0.95zM195.88,339.23h0.95v0.95h-0.95zM189.48,328.37h0.95v0.95h-0.95zM202.92,326.4h0.95v0.95h-0.95zM199.12,337.1h0.95v0.95h-0.95zM204.14,329.41h0.95v0.95h-0.95zM178.51,346.77h0.95v0.95h-0.95zM201.1,334.11h0.95v0.95h-0.95zM186.06,331.14h0.95v0.95h-0.95zM205.17,329.48h0.95v0.95h-0.95zM198.42,339.86h0.95v0.95h-0.95zM189.92,328.03h0.95v0.95h-0.95zM202.91,326.7h0.95v0.95h-0.95zM198.63,325.96h0.95v0.95h-0.95zM181.16,336.86h0.95v0.95h-0.95zM177.66,346.37h0.95v0.95h-0.95zM198.95,326.42h0.95v0.95h-0.95zM179.02,340.13h0.95v0.95h-0.95zM184.19,347.58h0.95v0.95h-0.95zM189.62,344.5h0.95v0.95h-0.95zM177.81,343.22h0.95v0.95h-0.95zM183.9,351.02h0.95v0.95h-0.95zM176.74,339.9h0.95v0.95h-0.95zM198.56,336.14h0.95v0.95h-0.95zM177.26,346.14h0.95v0.95h-0.95zM185.53,331.48h0.95v0.95h-0.95zM179.39,347.99h0.95v0.95h-0.95zM199.34,324.99h0.95v0.95h-0.95zM182.17,349.02h0.95v0.95h-0.95zM196.88,325.21h0.95v0.95h-0.95zM183.37,347.37h0.95v0.95h-0.95zM179.92,339.89h0.95v0.95h-0.95zM187.07,346.76h0.95v0.95h-0.95zM176.95,343.55h0.95v0.95h-0.95zM205.07,330.09h0.95v0.95h-0.95zM177.58,344.3h0.95v0.95h-0.95zM207.4,328.93h0.95v0.95h-0.95zM193.39,327.24h0.95v0.95h-0.95zM206.63,329.73h0.95v0.95h-0.95zM193.34,326.61h0.95v0.95h-0.95zM186.86,331.06h0.95v0.95h-0.95zM179.63,348.37h0.95v0.95h-0.95zM206.33,328h0.95v0.95h-0.95zM201.91,326.52h0.95v0.95h-0.95zM200.1,326.53h0.95v0.95h-0.95zM180.1,336.07h0.95v0.95h-0.95zM179.48,339.68h0.95v0.95h-0.95zM185.99,332.57h0.95v0.95h-0.95zM203.82,326.27h0.95v0.95h-0.95zM194.11,339.91h0.95v0.95h-0.95zM178.64,330.68h0.95v0.95h-0.95zM195.4,326.04h0.95v0.95h-0.95zM181.23,335h0.95v0.95h-0.95zM204.81,325.38h0.95v0.95h-0.95zM177.86,346.77h0.95v0.95h-0.95zM185.72,331.88h0.95v0.95h-0.95zM186.95,348.17h0.95v0.95h-0.95zM190.89,325.36h0.95v0.95h-0.95zM177.9,347.18h0.95v0.95h-0.95zM204.41,325.39h0.95v0.95h-0.95zM190.27,343.15h0.95v0.95h-0.95zM204.02,330.6h0.95v0.95h-0.95zM180.6,336.29h0.95v0.95h-0.95zM196.69,323.03h0.95v0.95h-0.95zM190.28,344.51h0.95v0.95h-0.95zM205.23,327.85h0.95v0.95h-0.95zM182.15,349.57h0.95v0.95h-0.95zM204.82,329.51h0.95v0.95h-0.95zM182.29,334.12h0.95v0.95h-0.95zM197.2,324.34h0.95v0.95h-0.95zM189.25,329.28h0.95v0.95h-0.95zM205.21,328.84h0.95v0.95h-0.95zM196.74,326.57h0.95v0.95h-0.95zM203.91,325.69h0.95v0.95h-0.95zM184.77,330.58h0.95v0.95h-0.95zM199.02,334.02h0.95v0.95h-0.95zM200.85,333.86h0.95v0.95h-0.95zM187.65,348.25h0.95v0.95h-0.95zM205.19,325.89h0.95v0.95h-0.95zM182.03,348.57h0.95v0.95h-0.95zM198.57,336.17h0.95v0.95h-0.95zM184.89,330.22h0.95v0.95h-0.95zM179.58,338.65h0.95v0.95h-0.95zM200.99,335.46h0.95v0.95h-0.95zM191.87,327.98h0.95v0.95h-0.95zM194.84,338.61h0.95v0.95h-0.95zM179.65,339h0.95v0.95h-0.95zM177.52,343.85h0.95v0.95h-0.95zM201.46,325.61h0.95v0.95h-0.95zM200.77,325.21h0.95v0.95h-0.95zM191.52,328.28h0.95v0.95h-0.95zM190.04,344.52h0.95v0.95h-0.95zM180.86,348.48h0.95v0.95h-0.95zM197.3,326.56h0.95v0.95h-0.95zM188.44,344.7h0.95v0.95h-0.95zM184.49,347.23h0.95v0.95h-0.95zM198.39,337.35h0.95v0.95h-0.95zM178.84,350.64h0.95v0.95h-0.95zM177.5,347.79h0.95v0.95h-0.95zM179.01,347.96h0.95v0.95h-0.95zM177.36,347.56h0.95v0.95h-0.95zM189.33,347.39h0.95v0.95h-0.95zM190.72,343.65h0.95v0.95h-0.95zM203.81,329.6h0.95v0.95h-0.95zM191.3,327.64h0.95v0.95h-0.95zM216.1,332.03h0.95v0.95h-0.95zM200.64,326.36h0.95v0.95h-0.95zM199.1,326.09h0.95v0.95h-0.95zM184.55,329.55h0.95v0.95h-0.95zM199.86,325.87h0.95v0.95h-0.95zM178.5,341.05h0.95v0.95h-0.95zM205.97,328.4h0.95v0.95h-0.95zM184.29,333.37h0.95v0.95h-0.95zM190.34,343.58h0.95v0.95h-0.95zM205.25,329.29h0.95v0.95h-0.95zM177.35,341.93h0.95v0.95h-0.95zM193.61,327.45h0.95v0.95h-0.95zM199.78,335.17h0.95v0.95h-0.95zM192.54,342.36h0.95v0.95h-0.95zM194.8,339.65h0.95v0.95h-0.95zM191.82,326.77h0.95v0.95h-0.95zM199.54,325.94h0.95v0.95h-0.95zM179.42,347.34h0.95v0.95h-0.95zM177.77,345.53h0.95v0.95h-0.95zM190.49,325.89h0.95v0.95h-0.95z" fill="#111"/>
<path d="M185.55,309.98h0.95v0.95h-0.95zM185.61,321.42h0.95v0.95h-0.95zM194.9,311.89h0.95v0.95h-0.95zM197.41,316.74h0.95v0.95h-0.95zM193.63,321.76h0.95v0.95h-0.95zM194.83,319.31h0.95v0.95h-0.95zM189.99,312.58h0.95v0.95h-0.95zM187.64,309.49h0.95v0.95h-0.95zM197.34,322.21h0.95v0.95h-0.95zM194.8,310.27h0.95v0.95h-0.95zM194.77,318.17h0.95v0.95h-0.95zM191.2,310.92h0.95v0.95h-0.95zM195.3,318.37h0.95v0.95h-0.95zM188.83,313.88h0.95v0.95h-0.95zM188.4,314.09h0.95v0.95h-0.95zM197.09,309.7h0.95v0.95h-0.95zM194.88,322.2h0.95v0.95h-0.95zM195,317.73h0.95v0.95h-0.95zM191.19,313.17h0.95v0.95h-0.95zM194.69,320.44h0.95v0.95h-0.95zM185.41,316.52h0.95v0.95h-0.95zM186.28,315.8h0.95v0.95h-0.95zM185.63,317.21h0.95v0.95h-0.95zM194.29,321h0.95v0.95h-0.95zM192.47,313.16h0.95v0.95h-0.95zM190.67,316.59h0.95v0.95h-0.95zM188.75,319.88h0.95v0.95h-0.95zM185.7,314.04h0.95v0.95h-0.95zM186.24,319.08h0.95v0.95h-0.95zM195.73,323.02h0.95v0.95h-0.95zM192.7,322.88h0.95v0.95h-0.95zM191.7,317.38h0.95v0.95h-0.95zM187.07,320.82h0.95v0.95h-0.95zM197.2,312.36h0.95v0.95h-0.95zM187.16,322.61h0.95v0.95h-0.95zM194.97,316.11h0.95v0.95h-0.95zM197.88,317.14h0.95v0.95h-0.95zM186.36,313.74h0.95v0.95h-0.95zM186.24,322.46h0.95v0.95h-0.95zM196.59,319.81h0.95v0.95h-0.95z" fill="#444"/>
<path d="M187.42,303.52h0.95v0.95h-0.95zM175.4,306.81h0.95v0.95h-0.95zM180.81,308.92h0.95v0.95h-0.95zM181.83,295.39h0.95v0.95h-0.95zM172.91,300.17h0.95v0.95h-0.95zM190.34,301.82h0.95v0.95h-0.95zM193.99,307.53h0.95v0.95h-0.95zM194.44,303.96h0.95v0.95h-0.95zM195.98,304.89h0.95v0.95h-0.95zM174.34,299.46h0.95v0.95h-0.95z" fill="#777"/>
<path d="M189.02,335.07h0.95v0.95h-0.95zM195.15,330.67h0.95v0.95h-0.95zM199.25,328.42h0.95v0.95h-0.95zM197.36,333.85h0.95v0.95h-0.95zM182.2,346.89h0.95v0.95h-0.95zM181.45,343.99h0.95v0.95h-0.95zM180.93,346.95h0.95v0.95h-0.95zM199.27,331.79h0.95v0.95h-0.95zM200.66,331.37h0.95v0.95h-0.95zM183.18,336.15h0.95v0.95h-0.95zM184.23,336.88h0.95v0.95h-0.95zM197.17,334.75h0.95v0.95h-0.95zM180.15,340.26h0.95v0.95h-0.95zM199.42,326.56h0.95v0.95h-0.95zM180.79,343.65h0.95v0.95h-0.95zM189.2,339.25h0.95v0.95h-0.95zM190.26,333.56h0.95v0.95h-0.95zM185.17,341.29h0.95v0.95h-0.95zM189.84,340.44h0.95v0.95h-0.95zM199.81,329.02h0.95v0.95h-0.95zM196.42,327.34h0.95v0.95h-0.95zM200.24,330.36h0.95v0.95h-0.95zM187.66,331.2h0.95v0.95h-0.95zM182.94,344.03h0.95v0.95h-0.95zM182.2,337.61h0.95v0.95h-0.95zM199.87,331.77h0.95v0.95h-0.95zM191.8,334.43h0.95v0.95h-0.95zM195.96,328.07h0.95v0.95h-0.95zM194.81,335.86h0.95v0.95h-0.95zM188.03,337.51h0.95v0.95h-0.95zM191.37,334.16h0.95v0.95h-0.95zM204.43,327.67h0.95v0.95h-0.95zM192.99,335.93h0.95v0.95h-0.95zM181.51,346.62h0.95v0.95h-0.95zM202.11,329.52h0.95v0.95h-0.95zM193.81,338.66h0.95v0.95h-0.95zM185.44,342.59h0.95v0.95h-0.95zM185.72,337.98h0.95v0.95h-0.95zM196.24,334.51h0.95v0.95h-0.95zM196.63,332.33h0.95v0.95h-0.95zM182.19,338.63h0.95v0.95h-0.95zM182.2,342.08h0.95v0.95h-0.95zM184.87,334.8h0.95v0.95h-0.95zM199.03,333.12h0.95v0.95h-0.95zM181.92,342.48h0.95v0.95h-0.95zM190.61,338.28h0.95v0.95h-0.95zM185.29,334.13h0.95v0.95h-0.95zM185.64,339.79h0.95v0.95h-0.95zM184.86,342.78h0.95v0.95h-0.95zM178.9,343.95h0.95v0.95h-0.95zM193.24,333.94h0.95v0.95h-0.95zM196.29,335.19h0.95v0.95h-0.95zM199.83,328.82h0.95v0.95h-0.95zM186.15,340.1h0.95v0.95h-0.95zM198.04,333.69h0.95v0.95h-0.95zM188.49,343.51h0.95v0.95h-0.95zM192,340.62h0.95v0.95h-0.95zM202.39,329.29h0.95v0.95h-0.95zM189.05,337.08h0.95v0.95h-0.95zM193.55,335h0.95v0.95h-0.95zM193.44,332.25h0.95v0.95h-0.95zM200.66,329.66h0.95v0.95h-0.95zM201.76,329.24h0.95v0.95h-0.95zM194.49,332.28h0.95v0.95h-0.95zM200.28,332.24h0.95v0.95h-0.95zM180.33,340.76h0.95v0.95h-0.95zM187.59,341.26h0.95v0.95h-0.95zM179.74,344.2h0.95v0.95h-0.95zM194.95,329.4h0.95v0.95h-0.95zM189.94,338.2h0.95v0.95h-0.95zM199.82,327.3h0.95v0.95h-0.95zM200.36,328.8h0.95v0.95h-0.95zM183.9,339.78h0.95v0.95h-0.95zM187.06,333.46h0.95v0.95h-0.95zM193.29,331.07h0.95v0.95h-0.95zM199.44,330.88h0.95v0.95h-0.95zM199.02,327.06h0.95v0.95h-0.95zM191.55,335.43h0.95v0.95h-0.95zM188.7,337.29h0.95v0.95h-0.95zM193.85,331.25h0.95v0.95h-0.95z" fill="#111"/>
<polygon points="179.1,344.05 180.14,341.28 181.87,338.51 183.6,335.74 185.68,333.32 187.75,331.59 190.52,330.2 193.29,328.82 196.06,327.78 198.83,327.43 201.6,327.78 203.68,328.47 202.98,330.2 200.91,331.93 198.83,334.01 196.75,336.09 194.68,338.51 192.6,340.59 190.52,342.66 187.75,344.39 184.98,345.78 182.21,346.47 180.14,346.12" fill="#000"/>
<ellipse cx="206.2" cy="288.2" rx="3.4" ry="2.7" fill="#000"/>
<path d="M171.47,363.3v1.3M175.08,363.3v1.3M177.64,363.3v1.3M179.63,363.3v1.3M181.25,363.3v1.3M182.62,363.3v1.3M183.81,363.3v1.3M184.86,363.3v1.3M165.3,357.2h-1.3M165.3,353.63h-1.3M165.3,351.09h-1.3M165.3,349.13h-1.3M165.3,347.52h-1.3M165.3,346.17h-1.3M165.3,344.99h-1.3M165.3,343.95h-1.3M191.97,363.3v1.3M195.58,363.3v1.3M198.14,363.3v1.3M200.13,363.3v1.3M201.75,363.3v1.3M203.12,363.3v1.3M204.31,363.3v1.3M205.36,363.3v1.3M165.3,336.92h-1.3M165.3,333.35h-1.3M165.3,330.82h-1.3M165.3,328.85h-1.3M165.3,327.25h-1.3M165.3,325.89h-1.3M165.3,324.71h-1.3M165.3,323.68h-1.3M212.47,363.3v1.3M216.08,363.3v1.3M218.64,363.3v1.3M220.63,363.3v1.3M222.25,363.3v1.3M223.62,363.3v1.3M224.81,363.3v1.3M225.86,363.3v1.3M165.3,316.65h-1.3M165.3,313.08h-1.3M165.3,310.54h-1.3M165.3,308.58h-1.3M165.3,306.97h-1.3M165.3,305.62h-1.3M165.3,304.44h-1.3M165.3,303.4h-1.3M232.97,363.3v1.3M236.58,363.3v1.3M239.14,363.3v1.3M241.13,363.3v1.3M242.75,363.3v1.3M244.12,363.3v1.3M245.31,363.3v1.3M246.36,363.3v1.3M165.3,296.37h-1.3M165.3,292.8h-1.3M165.3,290.27h-1.3M165.3,288.3h-1.3M165.3,286.7h-1.3M165.3,285.34h-1.3M165.3,284.16h-1.3M165.3,283.13h-1.3M165.3,363.3v2M165.3,363.3h-2M185.8,363.3v2M165.3,343.02h-2M206.3,363.3v2M165.3,322.75h-2M226.8,363.3v2M165.3,302.48h-2M247.3,363.3v2M165.3,282.2h-2" stroke="#222" stroke-width="0.7" fill="none"/>
<line x1="165.3" y1="282.2" x2="247.3" y2="282.2" stroke="#555" stroke-width="0.9"/>
<line x1="247.3" y1="281.75" x2="247.3" y2="363.3" stroke="#333" stroke-width="1.4"/>
<line x1="165.3" y1="281.8" x2="165.3" y2="363.9" stroke="#111" stroke-width="1.5"/>
<line x1="164.9" y1="363.3" x2="247.9" y2="363.3" stroke="#111" stroke-width="1.6"/>
<line x1="198.5" y1="282.2" x2="198.5" y2="363.3" stroke="#666" stroke-width="0.8"/>
<line x1="165.3" y1="324.5" x2="247.3" y2="324.5" stroke="#2a2a2a" stroke-width="1.1"/>
<text x="161.2" y="372.6" font-size="6.2" fill="#3a3a3a" textLength="7.9" lengthAdjust="spacingAndGlyphs">10<tspan dy="-2.4" font-size="4.4">0</tspan></text>
<text x="181.7" y="372.6" font-size="6.2" fill="#3a3a3a" textLength="7.9" lengthAdjust="spacingAndGlyphs">10<tspan dy="-2.4" font-size="4.4">1</tspan></text>
<text x="202.2" y="372.6" font-size="6.2" fill="#3a3a3a" textLength="7.9" lengthAdjust="spacingAndGlyphs">10<tspan dy="-2.4" font-size="4.4">2</tspan></text>
<text x="222.7" y="372.6" font-size="6.2" fill="#3a3a3a" textLength="7.9" lengthAdjust="spacingAndGlyphs">10<tspan dy="-2.4" font-size="4.4">3</tspan></text>
<text x="243.2" y="372.6" font-size="6.2" fill="#3a3a3a" textLength="7.9" lengthAdjust="spacingAndGlyphs">10<tspan dy="-2.4" font-size="4.4">4</tspan></text>
<text transform="translate(161.4,368.2) rotate(-90)" font-size="6.8" fill="#3a3a3a" textLength="8.6" lengthAdjust="spacingAndGlyphs">10<tspan dy="-2.6" font-size="4.8">0</tspan></text>
<text transform="translate(161.4,347.92) rotate(-90)" font-size="6.8" fill="#3a3a3a" textLength="8.6" lengthAdjust="spacingAndGlyphs">10<tspan dy="-2.6" font-size="4.8">1</tspan></text>
<text transform="translate(161.4,327.65) rotate(-90)" font-size="6.8" fill="#3a3a3a" textLength="8.6" lengthAdjust="spacingAndGlyphs">10<tspan dy="-2.6" font-size="4.8">2</tspan></text>
<text transform="translate(161.4,307.38) rotate(-90)" font-size="6.8" fill="#3a3a3a" textLength="8.6" lengthAdjust="spacingAndGlyphs">10<tspan dy="-2.6" font-size="4.8">3</tspan></text>
<text transform="translate(161.4,286) rotate(-90)" font-size="6.8" fill="#3a3a3a" textLength="5.8" lengthAdjust="spacingAndGlyphs">10</text>
<text x="195.1" y="276" font-size="9" textLength="20.6" lengthAdjust="spacingAndGlyphs" fill="#151515">IACS</text>
<text x="221" y="295.2" font-size="10.4" textLength="23.4" lengthAdjust="spacingAndGlyphs" fill="#1a1a1a">5.1%</text>
<text x="218.8" y="353.2" font-size="10.4" textLength="23.7" lengthAdjust="spacingAndGlyphs" fill="#1a1a1a">3.4%</text>
<path d="M330.95,290.97h0.95v0.95h-0.95zM329.96,290.71h0.95v0.95h-0.95zM322.61,290.9h0.95v0.95h-0.95zM318.61,287.08h0.95v0.95h-0.95zM319.57,286.9h0.95v0.95h-0.95zM328.08,288.81h0.95v0.95h-0.95zM324.55,286.06h0.95v0.95h-0.95zM320.44,286.52h0.95v0.95h-0.95zM321.88,284.96h0.95v0.95h-0.95zM328.91,287.37h0.95v0.95h-0.95zM324.3,284.98h0.95v0.95h-0.95zM328.41,284.98h0.95v0.95h-0.95zM321.62,287.7h0.95v0.95h-0.95zM328.37,290.8h0.95v0.95h-0.95zM329.09,290.61h0.95v0.95h-0.95zM331.76,288.92h0.95v0.95h-0.95zM328.65,283.97h0.95v0.95h-0.95zM320.69,283.6h0.95v0.95h-0.95zM330.89,288.91h0.95v0.95h-0.95zM327.27,285.48h0.95v0.95h-0.95zM323.01,284.73h0.95v0.95h-0.95zM327.3,290.94h0.95v0.95h-0.95zM322.24,283.83h0.95v0.95h-0.95zM320.22,286.16h0.95v0.95h-0.95zM331.43,289.53h0.95v0.95h-0.95zM324.55,284.27h0.95v0.95h-0.95zM319.15,284.65h0.95v0.95h-0.95zM329.55,287.03h0.95v0.95h-0.95zM332.85,290.34h0.95v0.95h-0.95zM329.82,287.07h0.95v0.95h-0.95zM329.86,300.62h0.95v0.95h-0.95zM333.8,314.91h0.95v0.95h-0.95zM334.29,315.75h0.95v0.95h-0.95zM332.22,316.05h0.95v0.95h-0.95zM330.33,311.16h0.95v0.95h-0.95zM331.03,314.15h0.95v0.95h-0.95zM328.27,301.5h0.95v0.95h-0.95zM325.98,306.7h0.95v0.95h-0.95zM330.92,308.88h0.95v0.95h-0.95zM336.22,312.92h0.95v0.95h-0.95zM334.08,316.56h0.95v0.95h-0.95zM336.64,321.54h0.95v0.95h-0.95zM334.8,317.83h0.95v0.95h-0.95zM330.06,305.33h0.95v0.95h-0.95zM335.98,320.64h0.95v0.95h-0.95zM334.34,321.3h0.95v0.95h-0.95zM332.8,314.44h0.95v0.95h-0.95zM329.91,303.16h0.95v0.95h-0.95zM328.13,300.41h0.95v0.95h-0.95zM337.41,321.14h0.95v0.95h-0.95zM333.42,316.02h0.95v0.95h-0.95zM327.14,304.53h0.95v0.95h-0.95zM330.69,312.05h0.95v0.95h-0.95zM334.5,320.19h0.95v0.95h-0.95zM333.54,321.27h0.95v0.95h-0.95z" fill="#777"/>
<path d="M329.97,295.11h0.95v0.95h-0.95zM317.85,309.03h0.95v0.95h-0.95zM324.63,297.7h0.95v0.95h-0.95zM320.28,291.68h0.95v0.95h-0.95zM331.45,313.73h0.95v0.95h-0.95zM332.07,322.38h0.95v0.95h-0.95zM323.42,314.44h0.95v0.95h-0.95zM322.53,316.98h0.95v0.95h-0.95zM330.3,295.28h0.95v0.95h-0.95zM316.22,297.85h0.95v0.95h-0.95zM325.95,303.13h0.95v0.95h-0.95zM316.16,317.57h0.95v0.95h-0.95zM329.36,305.84h0.95v0.95h-0.95zM316.74,319.45h0.95v0.95h-0.95zM325.08,293.27h0.95v0.95h-0.95zM321.5,310.99h0.95v0.95h-0.95zM331.05,306.5h0.95v0.95h-0.95zM326.87,297.58h0.95v0.95h-0.95zM320.14,319.99h0.95v0.95h-0.95zM322.5,294.33h0.95v0.95h-0.95zM326.05,295.04h0.95v0.95h-0.95zM319.4,305.61h0.95v0.95h-0.95zM325.95,311.36h0.95v0.95h-0.95zM328.02,305.07h0.95v0.95h-0.95zM317.15,314.18h0.95v0.95h-0.95zM345,315h0.95v0.95h-0.95zM345.21,317.39h0.95v0.95h-0.95zM345,315.35h0.95v0.95h-0.95zM344.96,317.2h0.95v0.95h-0.95zM344.98,314.91h0.95v0.95h-0.95z" fill="#888"/>
<path d="M325.36,324.57h0.95v0.95h-0.95zM321.11,327.7h0.95v0.95h-0.95zM321.36,328.47h0.95v0.95h-0.95zM333.17,325.12h0.95v0.95h-0.95zM322.83,326.85h0.95v0.95h-0.95zM324.11,324.86h0.95v0.95h-0.95zM322.66,329.79h0.95v0.95h-0.95zM329.19,324.17h0.95v0.95h-0.95zM322.41,327.57h0.95v0.95h-0.95zM333.75,328.63h0.95v0.95h-0.95zM322.52,324.31h0.95v0.95h-0.95zM325.54,327.86h0.95v0.95h-0.95zM323.22,326.46h0.95v0.95h-0.95zM335.68,327.92h0.95v0.95h-0.95zM321.1,321.67h0.95v0.95h-0.95zM322.71,327.23h0.95v0.95h-0.95zM329.98,325.68h0.95v0.95h-0.95zM327.83,324.67h0.95v0.95h-0.95zM330.17,326.84h0.95v0.95h-0.95zM334.75,327.59h0.95v0.95h-0.95zM332.95,329.22h0.95v0.95h-0.95zM333.56,327.45h0.95v0.95h-0.95zM321.46,327.13h0.95v0.95h-0.95zM333.75,324.88h0.95v0.95h-0.95zM334.17,322.62h0.95v0.95h-0.95z" fill="#444"/>
<path d="M330.52,330.22h0.95v0.95h-0.95zM330.32,333.19h0.95v0.95h-0.95zM329.65,332.92h0.95v0.95h-0.95zM327.78,326.75h0.95v0.95h-0.95zM328.78,334.27h0.95v0.95h-0.95zM329.05,332.68h0.95v0.95h-0.95zM313.69,336.72h0.95v0.95h-0.95zM313.2,343.12h0.95v0.95h-0.95zM310.74,337.94h0.95v0.95h-0.95zM321.01,325.31h0.95v0.95h-0.95zM309.68,339.33h0.95v0.95h-0.95zM318.82,328.45h0.95v0.95h-0.95zM315.38,333.52h0.95v0.95h-0.95zM313.17,343.12h0.95v0.95h-0.95zM316.29,333.26h0.95v0.95h-0.95zM319.59,340.68h0.95v0.95h-0.95zM325.59,326.26h0.95v0.95h-0.95zM313.12,334.61h0.95v0.95h-0.95zM318.95,329.75h0.95v0.95h-0.95zM326.68,326.79h0.95v0.95h-0.95zM326.71,334.55h0.95v0.95h-0.95zM329.69,337.2h0.95v0.95h-0.95zM323.29,338.92h0.95v0.95h-0.95zM328.43,324.63h0.95v0.95h-0.95zM323.94,338.75h0.95v0.95h-0.95zM317.88,342.42h0.95v0.95h-0.95zM327.79,326.19h0.95v0.95h-0.95zM328.62,333.5h0.95v0.95h-0.95zM325.8,337.25h0.95v0.95h-0.95zM329.97,331.72h0.95v0.95h-0.95zM315.73,333.76h0.95v0.95h-0.95zM313.92,335.09h0.95v0.95h-0.95zM312.61,345.42h0.95v0.95h-0.95zM315.95,342.82h0.95v0.95h-0.95zM328.7,333.78h0.95v0.95h-0.95zM326.28,326.5h0.95v0.95h-0.95zM319.48,328.79h0.95v0.95h-0.95zM315.19,334.99h0.95v0.95h-0.95zM317.77,344.3h0.95v0.95h-0.95zM324.37,326.38h0.95v0.95h-0.95zM331.19,333.91h0.95v0.95h-0.95zM325.59,335.73h0.95v0.95h-0.95zM316.07,342.47h0.95v0.95h-0.95zM322.31,338.73h0.95v0.95h-0.95zM311.55,337.01h0.95v0.95h-0.95zM328.4,326.54h0.95v0.95h-0.95zM307.83,333.21h0.95v0.95h-0.95zM322.38,327.19h0.95v0.95h-0.95zM313.43,343.9h0.95v0.95h-0.95zM312.98,343.92h0.95v0.95h-0.95zM325.02,336.89h0.95v0.95h-0.95zM314.73,345.24h0.95v0.95h-0.95zM325.08,326.84h0.95v0.95h-0.95zM320.35,326.18h0.95v0.95h-0.95zM308.35,344.31h0.95v0.95h-0.95zM326.86,336.71h0.95v0.95h-0.95zM325.58,324.14h0.95v0.95h-0.95zM316.6,343.52h0.95v0.95h-0.95zM323.83,340.25h0.95v0.95h-0.95zM325.72,338.88h0.95v0.95h-0.95zM327.87,326.41h0.95v0.95h-0.95zM329.31,326.66h0.95v0.95h-0.95zM311.28,336.9h0.95v0.95h-0.95zM311.76,338.84h0.95v0.95h-0.95zM317.49,320.74h0.95v0.95h-0.95zM315.86,333.02h0.95v0.95h-0.95zM315.95,343.39h0.95v0.95h-0.95zM330.61,325.92h0.95v0.95h-0.95zM330.13,332.9h0.95v0.95h-0.95zM319.91,329.11h0.95v0.95h-0.95zM329.79,330.86h0.95v0.95h-0.95zM319.19,341.92h0.95v0.95h-0.95zM322.59,338.54h0.95v0.95h-0.95zM329.99,327.36h0.95v0.95h-0.95zM328.69,326.28h0.95v0.95h-0.95zM320.27,327.09h0.95v0.95h-0.95zM320.57,327.76h0.95v0.95h-0.95zM331.38,330.54h0.95v0.95h-0.95zM329.83,332.74h0.95v0.95h-0.95zM320.93,340.35h0.95v0.95h-0.95zM325.94,335.06h0.95v0.95h-0.95zM322.29,339.8h0.95v0.95h-0.95zM328.3,333.91h0.95v0.95h-0.95zM329.35,334h0.95v0.95h-0.95zM311.72,342.42h0.95v0.95h-0.95zM315.03,333.36h0.95v0.95h-0.95zM317.86,331.26h0.95v0.95h-0.95zM315.03,343.47h0.95v0.95h-0.95zM320.33,325.66h0.95v0.95h-0.95zM319.07,343.43h0.95v0.95h-0.95zM325.13,338.48h0.95v0.95h-0.95zM326.2,326.26h0.95v0.95h-0.95zM328.09,334.22h0.95v0.95h-0.95zM319.78,327.74h0.95v0.95h-0.95zM325.3,325.75h0.95v0.95h-0.95zM334.47,323.33h0.95v0.95h-0.95zM331.4,326.87h0.95v0.95h-0.95zM331.04,328.62h0.95v0.95h-0.95zM327.97,326.89h0.95v0.95h-0.95zM319.52,328.64h0.95v0.95h-0.95zM331.76,328.8h0.95v0.95h-0.95zM329.26,334.59h0.95v0.95h-0.95zM310.48,341.65h0.95v0.95h-0.95zM318.92,341.48h0.95v0.95h-0.95zM312.81,330.74h0.95v0.95h-0.95zM315.33,334.39h0.95v0.95h-0.95zM330.05,330.64h0.95v0.95h-0.95zM317.01,342.39h0.95v0.95h-0.95zM315.56,344.67h0.95v0.95h-0.95zM327.88,324.81h0.95v0.95h-0.95zM312.95,337.08h0.95v0.95h-0.95zM313.09,335.05h0.95v0.95h-0.95zM305.62,331.5h0.95v0.95h-0.95zM315.58,333.66h0.95v0.95h-0.95zM322.17,327.78h0.95v0.95h-0.95zM322.65,338.53h0.95v0.95h-0.95zM317.41,330.6h0.95v0.95h-0.95zM309.93,337.38h0.95v0.95h-0.95zM319.09,342.32h0.95v0.95h-0.95zM330.62,327.51h0.95v0.95h-0.95zM312.18,337.66h0.95v0.95h-0.95zM329.35,327.19h0.95v0.95h-0.95zM316.14,329.94h0.95v0.95h-0.95zM315.43,343.95h0.95v0.95h-0.95zM310.93,341.6h0.95v0.95h-0.95zM311.5,342.5h0.95v0.95h-0.95zM322.63,339.04h0.95v0.95h-0.95zM328.97,332.25h0.95v0.95h-0.95zM317.01,342.87h0.95v0.95h-0.95zM327.8,319.67h0.95v0.95h-0.95zM324.4,341.31h0.95v0.95h-0.95zM309.82,343.75h0.95v0.95h-0.95zM323.38,337.92h0.95v0.95h-0.95zM310.55,338.36h0.95v0.95h-0.95zM329.19,333.35h0.95v0.95h-0.95zM325.07,338.77h0.95v0.95h-0.95zM316.74,342.25h0.95v0.95h-0.95zM309.7,342.75h0.95v0.95h-0.95zM323.64,337.3h0.95v0.95h-0.95zM311.61,342.31h0.95v0.95h-0.95zM325.51,336.07h0.95v0.95h-0.95zM318.53,330.42h0.95v0.95h-0.95zM317.74,330.6h0.95v0.95h-0.95zM318.47,329.81h0.95v0.95h-0.95zM322.27,328h0.95v0.95h-0.95zM311.26,339.71h0.95v0.95h-0.95zM323.69,319.6h0.95v0.95h-0.95zM323.09,340.59h0.95v0.95h-0.95zM312.03,338.46h0.95v0.95h-0.95zM326.14,335.49h0.95v0.95h-0.95zM319.08,340.89h0.95v0.95h-0.95zM328.31,333.29h0.95v0.95h-0.95zM317.97,342.9h0.95v0.95h-0.95zM312.42,343.4h0.95v0.95h-0.95zM324.98,339.67h0.95v0.95h-0.95zM328.21,334.05h0.95v0.95h-0.95zM311.63,337.91h0.95v0.95h-0.95zM330.08,333.51h0.95v0.95h-0.95zM314.99,334.83h0.95v0.95h-0.95zM322.35,342h0.95v0.95h-0.95zM315.65,330.81h0.95v0.95h-0.95zM329.54,326.48h0.95v0.95h-0.95zM330.38,329.77h0.95v0.95h-0.95zM312.08,344.48h0.95v0.95h-0.95zM329.25,333.73h0.95v0.95h-0.95zM318.69,327.91h0.95v0.95h-0.95zM316.39,327.48h0.95v0.95h-0.95zM319.53,342.19h0.95v0.95h-0.95zM315.33,343.35h0.95v0.95h-0.95zM321.72,324.41h0.95v0.95h-0.95zM330,326.71h0.95v0.95h-0.95zM311.07,337.26h0.95v0.95h-0.95z" fill="#111"/>
<path d="M323.28,335.15h0.95v0.95h-0.95zM313.04,341.3h0.95v0.95h-0.95zM325.48,330.29h0.95v0.95h-0.95zM320.06,339.83h0.95v0.95h-0.95zM314.24,337.59h0.95v0.95h-0.95zM321.81,333.08h0.95v0.95h-0.95zM320.2,334.5h0.95v0.95h-0.95zM322.49,329.16h0.95v0.95h-0.95zM328.19,332.48h0.95v0.95h-0.95zM321.68,331.61h0.95v0.95h-0.95zM323.26,335.63h0.95v0.95h-0.95zM323.35,335.31h0.95v0.95h-0.95zM318.08,336.31h0.95v0.95h-0.95zM315.85,342.25h0.95v0.95h-0.95zM321.79,329.86h0.95v0.95h-0.95zM314.6,339.98h0.95v0.95h-0.95zM313.11,341.6h0.95v0.95h-0.95zM316.3,340.76h0.95v0.95h-0.95zM321.07,331.76h0.95v0.95h-0.95zM324.57,327.63h0.95v0.95h-0.95zM313.28,338.59h0.95v0.95h-0.95zM318.16,337.23h0.95v0.95h-0.95zM323.72,329.14h0.95v0.95h-0.95zM325.12,335.44h0.95v0.95h-0.95zM318.06,341.08h0.95v0.95h-0.95zM322.2,335.59h0.95v0.95h-0.95zM319.09,335.32h0.95v0.95h-0.95zM319.28,330.36h0.95v0.95h-0.95zM325.71,330.45h0.95v0.95h-0.95zM327,330.44h0.95v0.95h-0.95zM318.61,331.96h0.95v0.95h-0.95zM325.87,330.13h0.95v0.95h-0.95zM319.86,334.67h0.95v0.95h-0.95zM319.3,331.52h0.95v0.95h-0.95zM314.17,336.64h0.95v0.95h-0.95zM320.97,329.25h0.95v0.95h-0.95zM324.03,333.54h0.95v0.95h-0.95zM323.87,328.02h0.95v0.95h-0.95zM324.05,330.13h0.95v0.95h-0.95zM318.86,337.66h0.95v0.95h-0.95zM320.55,329.67h0.95v0.95h-0.95zM324.04,334.54h0.95v0.95h-0.95zM326.71,331.25h0.95v0.95h-0.95zM326.56,328.36h0.95v0.95h-0.95zM322.37,338.22h0.95v0.95h-0.95zM317.85,337.77h0.95v0.95h-0.95z" fill="#111"/>
<polygon points="312.1,340.16 313.14,338.08 314.87,336 316.6,333.58 318.34,331.16 320.41,329.43 323.18,328.04 325.95,327.35 328.03,327.7 329.41,329.08 328.72,331.85 326.64,333.93 324.57,335.66 322.49,337.74 320.41,339.47 318.34,340.85 315.57,341.89 313.14,341.89" fill="#000"/>
<path d="M302.03,362.6v1.3M305.44,362.6v1.3M307.86,362.6v1.3M309.74,362.6v1.3M311.28,362.6v1.3M312.57,362.6v1.3M313.7,362.6v1.3M314.69,362.6v1.3M296.2,356.56h-1.3M296.2,353.03h-1.3M296.2,350.53h-1.3M296.2,348.59h-1.3M296.2,347h-1.3M296.2,345.66h-1.3M296.2,344.49h-1.3M296.2,343.47h-1.3M321.41,362.6v1.3M324.82,362.6v1.3M327.24,362.6v1.3M329.12,362.6v1.3M330.65,362.6v1.3M331.95,362.6v1.3M333.07,362.6v1.3M334.06,362.6v1.3M296.2,336.51h-1.3M296.2,332.98h-1.3M296.2,330.48h-1.3M296.2,328.54h-1.3M296.2,326.95h-1.3M296.2,325.61h-1.3M296.2,324.44h-1.3M296.2,323.42h-1.3M340.78,362.6v1.3M344.19,362.6v1.3M346.61,362.6v1.3M348.49,362.6v1.3M350.03,362.6v1.3M351.32,362.6v1.3M352.45,362.6v1.3M353.44,362.6v1.3M296.2,316.46h-1.3M296.2,312.93h-1.3M296.2,310.43h-1.3M296.2,308.49h-1.3M296.2,306.9h-1.3M296.2,305.56h-1.3M296.2,304.39h-1.3M296.2,303.37h-1.3M360.16,362.6v1.3M363.57,362.6v1.3M365.99,362.6v1.3M367.87,362.6v1.3M369.4,362.6v1.3M370.7,362.6v1.3M371.82,362.6v1.3M372.81,362.6v1.3M296.2,296.41h-1.3M296.2,292.88h-1.3M296.2,290.38h-1.3M296.2,288.44h-1.3M296.2,286.85h-1.3M296.2,285.51h-1.3M296.2,284.34h-1.3M296.2,283.32h-1.3M296.2,362.6v2M296.2,362.6h-2M315.57,362.6v2M296.2,342.55h-2M334.95,362.6v2M296.2,322.5h-2M354.32,362.6v2M296.2,302.45h-2M373.7,362.6v2M296.2,282.4h-2" stroke="#222" stroke-width="0.7" fill="none"/>
<line x1="296.2" y1="282.4" x2="373.7" y2="282.4" stroke="#555" stroke-width="0.9"/>
<line x1="373.7" y1="281.95" x2="373.7" y2="362.6" stroke="#333" stroke-width="1.4"/>
<line x1="296.2" y1="282" x2="296.2" y2="363.2" stroke="#111" stroke-width="1.5"/>
<line x1="295.8" y1="362.6" x2="374.3" y2="362.6" stroke="#111" stroke-width="1.6"/>
<line x1="327.3" y1="282.4" x2="327.3" y2="362.6" stroke="#777" stroke-width="1"/>
<line x1="296.2" y1="324.3" x2="373.7" y2="324.3" stroke="#2a2a2a" stroke-width="1.1"/>
<text x="292.1" y="371.9" font-size="6.2" fill="#3a3a3a" textLength="7.9" lengthAdjust="spacingAndGlyphs">10<tspan dy="-2.4" font-size="4.4">0</tspan></text>
<text x="311.47" y="371.9" font-size="6.2" fill="#3a3a3a" textLength="7.9" lengthAdjust="spacingAndGlyphs">10<tspan dy="-2.4" font-size="4.4">1</tspan></text>
<text x="330.85" y="371.9" font-size="6.2" fill="#3a3a3a" textLength="7.9" lengthAdjust="spacingAndGlyphs">10<tspan dy="-2.4" font-size="4.4">2</tspan></text>
<text x="350.22" y="371.9" font-size="6.2" fill="#3a3a3a" textLength="7.9" lengthAdjust="spacingAndGlyphs">10<tspan dy="-2.4" font-size="4.4">3</tspan></text>
<text x="369.6" y="371.9" font-size="6.2" fill="#3a3a3a" textLength="7.9" lengthAdjust="spacingAndGlyphs">10<tspan dy="-2.4" font-size="4.4">4</tspan></text>
<text transform="translate(292.3,367.5) rotate(-90)" font-size="6.8" fill="#3a3a3a" textLength="8.6" lengthAdjust="spacingAndGlyphs">10<tspan dy="-2.6" font-size="4.8">0</tspan></text>
<text transform="translate(292.3,347.45) rotate(-90)" font-size="6.8" fill="#3a3a3a" textLength="8.6" lengthAdjust="spacingAndGlyphs">10<tspan dy="-2.6" font-size="4.8">1</tspan></text>
<text transform="translate(292.3,327.4) rotate(-90)" font-size="6.8" fill="#3a3a3a" textLength="8.6" lengthAdjust="spacingAndGlyphs">10<tspan dy="-2.6" font-size="4.8">2</tspan></text>
<text transform="translate(292.3,307.35) rotate(-90)" font-size="6.8" fill="#3a3a3a" textLength="8.6" lengthAdjust="spacingAndGlyphs">10<tspan dy="-2.6" font-size="4.8">3</tspan></text>
<text transform="translate(292.3,286.2) rotate(-90)" font-size="6.8" fill="#3a3a3a" textLength="5.8" lengthAdjust="spacingAndGlyphs">10</text>
<text x="309.1" y="276" font-size="9" textLength="42.4" lengthAdjust="spacingAndGlyphs" fill="#151515">Cytarabine</text>
<text x="348.8" y="296.7" font-size="10.4" textLength="22.9" lengthAdjust="spacingAndGlyphs" fill="#1a1a1a">1.3%</text>
<text x="348.3" y="353.1" font-size="10.4" textLength="23.4" lengthAdjust="spacingAndGlyphs" fill="#1a1a1a">6.2%</text>
<path d="M431.22,291.41h0.95v0.95h-0.95zM428.84,293.8h0.95v0.95h-0.95zM433.11,285.03h0.95v0.95h-0.95zM423.92,291.53h0.95v0.95h-0.95zM444.42,290.73h0.95v0.95h-0.95zM425.62,292.85h0.95v0.95h-0.95zM440.5,286.04h0.95v0.95h-0.95zM431.59,291.04h0.95v0.95h-0.95zM421.6,285.38h0.95v0.95h-0.95zM430.87,292.87h0.95v0.95h-0.95zM447.9,287.86h0.95v0.95h-0.95zM445.59,292.07h0.95v0.95h-0.95zM444.43,290.29h0.95v0.95h-0.95zM447.19,290.8h0.95v0.95h-0.95zM446.62,290.09h0.95v0.95h-0.95zM426.71,289.67h0.95v0.95h-0.95zM434.3,288.04h0.95v0.95h-0.95zM431.4,289.59h0.95v0.95h-0.95zM437.08,287h0.95v0.95h-0.95zM428.85,289.53h0.95v0.95h-0.95zM434.85,288.77h0.95v0.95h-0.95zM439.1,286.67h0.95v0.95h-0.95zM435.59,287.48h0.95v0.95h-0.95zM441.91,291.33h0.95v0.95h-0.95zM442.2,289.66h0.95v0.95h-0.95zM428.1,293.33h0.95v0.95h-0.95zM435.04,288.38h0.95v0.95h-0.95zM429.2,288.62h0.95v0.95h-0.95zM440.28,292.37h0.95v0.95h-0.95zM434.29,291.58h0.95v0.95h-0.95zM427.14,289.07h0.95v0.95h-0.95zM430.99,287.76h0.95v0.95h-0.95zM431.03,291.79h0.95v0.95h-0.95zM440.93,286.87h0.95v0.95h-0.95zM427.7,292.06h0.95v0.95h-0.95zM438.85,291.09h0.95v0.95h-0.95zM438.33,291.24h0.95v0.95h-0.95zM428.73,285.55h0.95v0.95h-0.95zM431.06,285.29h0.95v0.95h-0.95zM446.99,289.72h0.95v0.95h-0.95zM439.26,293.7h0.95v0.95h-0.95zM442.82,287.06h0.95v0.95h-0.95zM430.43,285.98h0.95v0.95h-0.95zM442.58,291.63h0.95v0.95h-0.95zM434.42,288.32h0.95v0.95h-0.95zM428.65,289.38h0.95v0.95h-0.95zM440.37,293.06h0.95v0.95h-0.95zM443.99,292.81h0.95v0.95h-0.95zM433.14,288.79h0.95v0.95h-0.95zM429.82,293.77h0.95v0.95h-0.95zM426.36,286.42h0.95v0.95h-0.95zM428.94,293.3h0.95v0.95h-0.95zM444.1,287.98h0.95v0.95h-0.95zM444.07,293.02h0.95v0.95h-0.95zM432.82,286.73h0.95v0.95h-0.95z" fill="#666"/>
<path d="M459.94,313.28h0.95v0.95h-0.95zM453.57,302.53h0.95v0.95h-0.95zM454.16,304.36h0.95v0.95h-0.95zM458.59,302.26h0.95v0.95h-0.95zM456.07,291.41h0.95v0.95h-0.95zM457.38,302.27h0.95v0.95h-0.95zM456.82,301.82h0.95v0.95h-0.95zM460.85,312.76h0.95v0.95h-0.95zM455.54,309.66h0.95v0.95h-0.95zM452.75,297.09h0.95v0.95h-0.95zM457.94,308.8h0.95v0.95h-0.95zM455.28,299.77h0.95v0.95h-0.95zM455.87,318.15h0.95v0.95h-0.95zM458.76,297.3h0.95v0.95h-0.95zM458.26,300.06h0.95v0.95h-0.95zM456.65,291.78h0.95v0.95h-0.95zM455.48,308.99h0.95v0.95h-0.95zM456.71,306h0.95v0.95h-0.95zM455.65,300.23h0.95v0.95h-0.95zM460.4,302.49h0.95v0.95h-0.95zM452.03,295.05h0.95v0.95h-0.95zM460.16,319.66h0.95v0.95h-0.95zM451.99,298.89h0.95v0.95h-0.95zM458.67,307.95h0.95v0.95h-0.95zM458.95,314.18h0.95v0.95h-0.95zM459.92,314.42h0.95v0.95h-0.95zM453.84,305.62h0.95v0.95h-0.95zM458.39,320.01h0.95v0.95h-0.95zM455.53,297.74h0.95v0.95h-0.95zM457.7,309.26h0.95v0.95h-0.95zM462.2,306.11h0.95v0.95h-0.95zM456.81,302.29h0.95v0.95h-0.95zM457.42,298.35h0.95v0.95h-0.95zM465.62,311.6h0.95v0.95h-0.95zM452.95,294.12h0.95v0.95h-0.95zM457.51,304.4h0.95v0.95h-0.95zM455.37,293.74h0.95v0.95h-0.95zM457.1,293.34h0.95v0.95h-0.95zM456.07,306.05h0.95v0.95h-0.95zM457.38,299.24h0.95v0.95h-0.95zM462.94,318.99h0.95v0.95h-0.95zM458.5,295.42h0.95v0.95h-0.95zM457.22,301.75h0.95v0.95h-0.95zM458.6,316.19h0.95v0.95h-0.95zM452.58,302.21h0.95v0.95h-0.95zM458.98,300.32h0.95v0.95h-0.95zM458.44,298.88h0.95v0.95h-0.95zM453.43,293.84h0.95v0.95h-0.95zM456.22,294.21h0.95v0.95h-0.95zM460.54,309.67h0.95v0.95h-0.95zM457.2,300.45h0.95v0.95h-0.95zM460.86,315.28h0.95v0.95h-0.95zM458.31,319.12h0.95v0.95h-0.95zM458.06,301.26h0.95v0.95h-0.95zM457.88,310.36h0.95v0.95h-0.95zM460.79,309.88h0.95v0.95h-0.95zM455.53,297.89h0.95v0.95h-0.95zM463.37,313.15h0.95v0.95h-0.95zM455.95,302.08h0.95v0.95h-0.95zM457.5,312.56h0.95v0.95h-0.95zM460,318.91h0.95v0.95h-0.95zM459.92,310.57h0.95v0.95h-0.95zM459.91,304.26h0.95v0.95h-0.95zM454.61,297.01h0.95v0.95h-0.95zM456,311.66h0.95v0.95h-0.95zM457.16,298.36h0.95v0.95h-0.95zM459.31,308.6h0.95v0.95h-0.95zM457.86,295.61h0.95v0.95h-0.95zM458.14,306.95h0.95v0.95h-0.95zM458.78,294.31h0.95v0.95h-0.95zM455.42,294.97h0.95v0.95h-0.95zM457.9,299.72h0.95v0.95h-0.95zM460.9,308.41h0.95v0.95h-0.95zM460.7,313.35h0.95v0.95h-0.95zM458.11,303.7h0.95v0.95h-0.95zM462.94,314.43h0.95v0.95h-0.95zM458.51,301.27h0.95v0.95h-0.95zM453.43,304.77h0.95v0.95h-0.95zM459.37,309.78h0.95v0.95h-0.95zM456.02,294.01h0.95v0.95h-0.95zM460.51,318.01h0.95v0.95h-0.95zM460.59,319.14h0.95v0.95h-0.95zM461.38,315.2h0.95v0.95h-0.95zM454.71,296.38h0.95v0.95h-0.95zM457.45,291.01h0.95v0.95h-0.95zM463.77,316.08h0.95v0.95h-0.95zM457.25,311.26h0.95v0.95h-0.95zM456.96,306.63h0.95v0.95h-0.95zM461.07,316.84h0.95v0.95h-0.95zM454.89,301.2h0.95v0.95h-0.95zM455.04,292.98h0.95v0.95h-0.95zM456.19,292.94h0.95v0.95h-0.95zM456.67,295.48h0.95v0.95h-0.95zM457.5,299.32h0.95v0.95h-0.95zM455.09,318.18h0.95v0.95h-0.95zM457.41,316.68h0.95v0.95h-0.95zM459.53,314.05h0.95v0.95h-0.95zM452.93,299.83h0.95v0.95h-0.95zM460.82,311.89h0.95v0.95h-0.95zM452.03,298.4h0.95v0.95h-0.95zM455.3,307.53h0.95v0.95h-0.95zM457.57,308.91h0.95v0.95h-0.95zM459.78,311.1h0.95v0.95h-0.95zM457,304.56h0.95v0.95h-0.95zM458.46,296.25h0.95v0.95h-0.95zM460.97,318.6h0.95v0.95h-0.95zM455.99,315.79h0.95v0.95h-0.95zM457.11,298.04h0.95v0.95h-0.95zM458.32,297.1h0.95v0.95h-0.95zM454.16,297.69h0.95v0.95h-0.95zM458.41,305.67h0.95v0.95h-0.95zM454.11,306.23h0.95v0.95h-0.95zM458.48,312.73h0.95v0.95h-0.95zM460.76,316.22h0.95v0.95h-0.95zM455.72,301.3h0.95v0.95h-0.95zM460.26,312h0.95v0.95h-0.95zM459.78,305.86h0.95v0.95h-0.95zM453.67,295.88h0.95v0.95h-0.95zM459.01,305.47h0.95v0.95h-0.95zM458.19,314.04h0.95v0.95h-0.95zM453.59,301.88h0.95v0.95h-0.95zM458,314.84h0.95v0.95h-0.95zM457.5,309.62h0.95v0.95h-0.95zM459.73,304.6h0.95v0.95h-0.95zM454.17,297.7h0.95v0.95h-0.95zM453.45,304.43h0.95v0.95h-0.95zM456.35,298.37h0.95v0.95h-0.95zM462.41,314.55h0.95v0.95h-0.95zM459.41,308.97h0.95v0.95h-0.95zM455.38,294.7h0.95v0.95h-0.95zM453.37,286.59h0.95v0.95h-0.95zM448.4,289h0.95v0.95h-0.95zM451.93,286.1h0.95v0.95h-0.95zM445.84,288.06h0.95v0.95h-0.95zM452.06,289.54h0.95v0.95h-0.95zM449.98,287.39h0.95v0.95h-0.95zM458.28,286.42h0.95v0.95h-0.95zM448.11,290.2h0.95v0.95h-0.95zM453.79,285.93h0.95v0.95h-0.95zM456.96,288.41h0.95v0.95h-0.95zM446.81,286.31h0.95v0.95h-0.95zM453.86,285.86h0.95v0.95h-0.95zM451.4,289.5h0.95v0.95h-0.95zM445.54,289.12h0.95v0.95h-0.95zM445.67,287.83h0.95v0.95h-0.95zM454.39,289.31h0.95v0.95h-0.95zM459.36,287.24h0.95v0.95h-0.95zM450.8,287.12h0.95v0.95h-0.95zM455.14,289.68h0.95v0.95h-0.95zM454.4,287.32h0.95v0.95h-0.95zM453.11,288.11h0.95v0.95h-0.95zM459.88,287.76h0.95v0.95h-0.95zM457.43,286.18h0.95v0.95h-0.95zM455.88,289.5h0.95v0.95h-0.95zM458.07,286.37h0.95v0.95h-0.95zM456.6,287.83h0.95v0.95h-0.95zM449,287.08h0.95v0.95h-0.95zM456.78,290.4h0.95v0.95h-0.95zM457.51,289.19h0.95v0.95h-0.95zM446.72,285.59h0.95v0.95h-0.95zM453.09,285.98h0.95v0.95h-0.95zM449.39,285.22h0.95v0.95h-0.95zM446.48,289.52h0.95v0.95h-0.95zM447.58,290.44h0.95v0.95h-0.95zM449.27,290.44h0.95v0.95h-0.95zM448.84,286.37h0.95v0.95h-0.95zM450.32,284.58h0.95v0.95h-0.95zM450.97,287.16h0.95v0.95h-0.95zM445.59,289.47h0.95v0.95h-0.95zM453.31,288.03h0.95v0.95h-0.95zM447.94,286.51h0.95v0.95h-0.95zM459.52,287.11h0.95v0.95h-0.95zM456.95,289.37h0.95v0.95h-0.95zM452.8,290.19h0.95v0.95h-0.95zM446.47,288.28h0.95v0.95h-0.95z" fill="#222"/>
<path d="M449.94,317.23h0.95v0.95h-0.95zM447.17,318.01h0.95v0.95h-0.95zM443.55,314.18h0.95v0.95h-0.95zM451.29,301.11h0.95v0.95h-0.95zM438.51,307.12h0.95v0.95h-0.95zM444.64,300.03h0.95v0.95h-0.95zM440.32,319.4h0.95v0.95h-0.95zM442.82,300.02h0.95v0.95h-0.95zM439.74,311.59h0.95v0.95h-0.95zM439.85,308.83h0.95v0.95h-0.95zM445.07,307.87h0.95v0.95h-0.95zM444.56,318.59h0.95v0.95h-0.95zM437.25,321.11h0.95v0.95h-0.95zM439.99,297.03h0.95v0.95h-0.95zM448.51,311.39h0.95v0.95h-0.95zM445.07,301.88h0.95v0.95h-0.95zM448.72,304.27h0.95v0.95h-0.95zM447.9,302.16h0.95v0.95h-0.95zM445.59,313.5h0.95v0.95h-0.95zM442.57,308.96h0.95v0.95h-0.95zM437.98,313.37h0.95v0.95h-0.95zM447.37,300.14h0.95v0.95h-0.95zM445.26,315.79h0.95v0.95h-0.95zM438.52,318.65h0.95v0.95h-0.95zM450.06,297.36h0.95v0.95h-0.95zM440.73,298.27h0.95v0.95h-0.95zM440.79,298.33h0.95v0.95h-0.95zM444.34,302.76h0.95v0.95h-0.95zM441.5,308.46h0.95v0.95h-0.95zM442.57,317.29h0.95v0.95h-0.95z" fill="#777"/>
<path d="M468.67,302.62h0.95v0.95h-0.95zM462.68,300.19h0.95v0.95h-0.95zM463.95,302.49h0.95v0.95h-0.95zM468.37,317.95h0.95v0.95h-0.95zM471.95,304.81h0.95v0.95h-0.95zM460.44,317.41h0.95v0.95h-0.95zM464.94,321.41h0.95v0.95h-0.95zM464.71,307.19h0.95v0.95h-0.95zM460.87,321.8h0.95v0.95h-0.95zM466.15,310.14h0.95v0.95h-0.95zM465.25,317.68h0.95v0.95h-0.95zM469.97,310.95h0.95v0.95h-0.95zM462.14,309.35h0.95v0.95h-0.95zM470.7,309.38h0.95v0.95h-0.95zM467.93,312.87h0.95v0.95h-0.95z" fill="#888"/>
<path d="M453.84,325.45h0.95v0.95h-0.95zM447.35,325.34h0.95v0.95h-0.95zM465.94,322.48h0.95v0.95h-0.95zM451.07,327.28h0.95v0.95h-0.95zM469.35,322.08h0.95v0.95h-0.95zM458.81,325.79h0.95v0.95h-0.95zM465.29,324.82h0.95v0.95h-0.95zM443.93,323.8h0.95v0.95h-0.95zM461.38,326.37h0.95v0.95h-0.95zM446.14,325.86h0.95v0.95h-0.95zM459.7,325.95h0.95v0.95h-0.95zM440.66,324.65h0.95v0.95h-0.95zM449.75,325.58h0.95v0.95h-0.95zM450.1,322.77h0.95v0.95h-0.95zM460.11,323.72h0.95v0.95h-0.95zM463.72,323.83h0.95v0.95h-0.95zM456.38,326.85h0.95v0.95h-0.95zM443.47,326.39h0.95v0.95h-0.95zM442.04,327.62h0.95v0.95h-0.95zM440.75,326.34h0.95v0.95h-0.95zM451.06,323.08h0.95v0.95h-0.95zM451.85,325.01h0.95v0.95h-0.95zM452.45,322.73h0.95v0.95h-0.95zM455.68,323.8h0.95v0.95h-0.95zM469.02,324.3h0.95v0.95h-0.95zM453.06,323.37h0.95v0.95h-0.95zM469.06,323.93h0.95v0.95h-0.95zM459.39,327h0.95v0.95h-0.95zM451.8,326.53h0.95v0.95h-0.95zM448.36,322.66h0.95v0.95h-0.95zM441.27,324.69h0.95v0.95h-0.95zM466.22,323.22h0.95v0.95h-0.95zM453.21,326.58h0.95v0.95h-0.95zM448.29,322.92h0.95v0.95h-0.95zM455.58,324.55h0.95v0.95h-0.95zM468.15,327.38h0.95v0.95h-0.95zM447.14,325.37h0.95v0.95h-0.95zM452.49,322.2h0.95v0.95h-0.95zM453.33,327.49h0.95v0.95h-0.95zM449.08,325.52h0.95v0.95h-0.95zM461.31,322.38h0.95v0.95h-0.95zM467.72,322.66h0.95v0.95h-0.95zM449.05,326.3h0.95v0.95h-0.95zM440.58,324.25h0.95v0.95h-0.95zM443.8,324.84h0.95v0.95h-0.95zM440.47,322.91h0.95v0.95h-0.95zM446.67,322.49h0.95v0.95h-0.95zM442.72,323.17h0.95v0.95h-0.95zM455.53,322.82h0.95v0.95h-0.95zM464.63,324.5h0.95v0.95h-0.95zM447.56,323.45h0.95v0.95h-0.95zM465.19,322.28h0.95v0.95h-0.95zM462.27,322.59h0.95v0.95h-0.95zM468.34,324.45h0.95v0.95h-0.95zM457.93,327.18h0.95v0.95h-0.95zM443.01,322.38h0.95v0.95h-0.95zM460.81,325.53h0.95v0.95h-0.95zM461.63,323.67h0.95v0.95h-0.95zM454.91,323.12h0.95v0.95h-0.95zM453.11,323.69h0.95v0.95h-0.95z" fill="#333"/>
<path d="M458.3,325.74h0.95v0.95h-0.95zM435.82,342.67h0.95v0.95h-0.95zM446.46,341.58h0.95v0.95h-0.95zM434.92,342.86h0.95v0.95h-0.95zM440.21,343.53h0.95v0.95h-0.95zM454.96,323.83h0.95v0.95h-0.95zM461.82,328.64h0.95v0.95h-0.95zM435.82,338.01h0.95v0.95h-0.95zM448.85,340.42h0.95v0.95h-0.95zM454.52,334.17h0.95v0.95h-0.95zM433.75,341.77h0.95v0.95h-0.95zM431.69,339.97h0.95v0.95h-0.95zM448.68,341.62h0.95v0.95h-0.95zM456.92,332.65h0.95v0.95h-0.95zM446.81,341.21h0.95v0.95h-0.95zM437.65,345.13h0.95v0.95h-0.95zM460.55,324.36h0.95v0.95h-0.95zM449.29,341.91h0.95v0.95h-0.95zM461.42,327.29h0.95v0.95h-0.95zM440.55,346.6h0.95v0.95h-0.95zM443.55,343.61h0.95v0.95h-0.95zM437.82,336.59h0.95v0.95h-0.95zM435.65,335.57h0.95v0.95h-0.95zM457.56,325.5h0.95v0.95h-0.95zM461.77,328.45h0.95v0.95h-0.95zM439.42,332.32h0.95v0.95h-0.95zM441.7,344.19h0.95v0.95h-0.95zM449.88,338.74h0.95v0.95h-0.95zM436.4,334.94h0.95v0.95h-0.95zM443.49,344.08h0.95v0.95h-0.95zM437.27,330.43h0.95v0.95h-0.95zM456.85,322.65h0.95v0.95h-0.95zM462.24,330.93h0.95v0.95h-0.95zM457.25,334.49h0.95v0.95h-0.95zM444.75,343.38h0.95v0.95h-0.95zM435.07,339.37h0.95v0.95h-0.95zM463.79,324.14h0.95v0.95h-0.95zM437.83,335.4h0.95v0.95h-0.95zM438.59,333.44h0.95v0.95h-0.95zM437.28,336.16h0.95v0.95h-0.95zM454.33,336.25h0.95v0.95h-0.95zM458.52,332.21h0.95v0.95h-0.95zM454.7,334.7h0.95v0.95h-0.95zM438.47,333.24h0.95v0.95h-0.95zM458.54,325.84h0.95v0.95h-0.95zM451.46,325.88h0.95v0.95h-0.95zM462.31,329.49h0.95v0.95h-0.95zM461.04,326.74h0.95v0.95h-0.95zM463.78,322.75h0.95v0.95h-0.95zM441.98,330.49h0.95v0.95h-0.95zM458.99,325.53h0.95v0.95h-0.95zM435.26,340.28h0.95v0.95h-0.95zM437.16,335.8h0.95v0.95h-0.95zM439.39,345.02h0.95v0.95h-0.95zM452.3,325.67h0.95v0.95h-0.95zM459.79,330.83h0.95v0.95h-0.95zM455.44,334.92h0.95v0.95h-0.95zM437.67,336.23h0.95v0.95h-0.95zM438.35,332.93h0.95v0.95h-0.95zM443.21,342.58h0.95v0.95h-0.95zM444.16,329.34h0.95v0.95h-0.95zM435.5,342.71h0.95v0.95h-0.95zM457.02,333.4h0.95v0.95h-0.95zM452.56,340.49h0.95v0.95h-0.95zM456.74,334.34h0.95v0.95h-0.95zM458.11,326.25h0.95v0.95h-0.95zM462.96,328.43h0.95v0.95h-0.95zM454.53,325.71h0.95v0.95h-0.95zM442.07,343.57h0.95v0.95h-0.95zM434.67,339.01h0.95v0.95h-0.95zM434.56,342.76h0.95v0.95h-0.95zM450.1,327.14h0.95v0.95h-0.95zM457.31,325.91h0.95v0.95h-0.95zM436.19,345.44h0.95v0.95h-0.95zM451.94,325.77h0.95v0.95h-0.95zM441.85,330.58h0.95v0.95h-0.95zM438.97,331.69h0.95v0.95h-0.95zM463.88,322.36h0.95v0.95h-0.95zM434.34,339.6h0.95v0.95h-0.95zM459.44,326.56h0.95v0.95h-0.95zM456.52,325.71h0.95v0.95h-0.95zM447.47,341.44h0.95v0.95h-0.95zM434.18,335.9h0.95v0.95h-0.95zM461.26,330.13h0.95v0.95h-0.95zM455.79,325.82h0.95v0.95h-0.95zM442.61,343.94h0.95v0.95h-0.95zM454.06,325.84h0.95v0.95h-0.95zM456.9,325.84h0.95v0.95h-0.95zM432.31,344.62h0.95v0.95h-0.95zM461.65,329.51h0.95v0.95h-0.95zM461.22,329.36h0.95v0.95h-0.95zM451.96,339.64h0.95v0.95h-0.95zM438.3,331.53h0.95v0.95h-0.95zM438.51,334.81h0.95v0.95h-0.95zM451.72,337.43h0.95v0.95h-0.95zM450.46,339.55h0.95v0.95h-0.95zM437.55,332.19h0.95v0.95h-0.95zM437.78,346.27h0.95v0.95h-0.95zM434.77,339.85h0.95v0.95h-0.95zM450.77,339.2h0.95v0.95h-0.95zM441.39,344.63h0.95v0.95h-0.95zM445.49,342.31h0.95v0.95h-0.95zM436.51,337.68h0.95v0.95h-0.95zM442.48,329.82h0.95v0.95h-0.95zM435.82,342.34h0.95v0.95h-0.95zM448.07,327.02h0.95v0.95h-0.95zM454.55,334.32h0.95v0.95h-0.95zM451.14,326.36h0.95v0.95h-0.95zM450.19,338.62h0.95v0.95h-0.95zM440.26,330.52h0.95v0.95h-0.95zM446.41,342.18h0.95v0.95h-0.95zM458.03,326.46h0.95v0.95h-0.95zM455.34,334.19h0.95v0.95h-0.95zM442.61,330.46h0.95v0.95h-0.95zM457.1,332.64h0.95v0.95h-0.95zM442.14,349.52h0.95v0.95h-0.95zM461.19,329.43h0.95v0.95h-0.95zM449.99,339.93h0.95v0.95h-0.95zM460.8,332.53h0.95v0.95h-0.95zM436.61,337.22h0.95v0.95h-0.95zM440.68,349.07h0.95v0.95h-0.95zM441.73,345.59h0.95v0.95h-0.95zM451.37,336.91h0.95v0.95h-0.95zM446.65,327.31h0.95v0.95h-0.95zM434.29,340.23h0.95v0.95h-0.95zM461.46,329.69h0.95v0.95h-0.95zM443.82,329.13h0.95v0.95h-0.95zM457.88,325.33h0.95v0.95h-0.95zM438.15,344.08h0.95v0.95h-0.95zM460.96,326.35h0.95v0.95h-0.95zM436.65,337.27h0.95v0.95h-0.95zM449.81,325.66h0.95v0.95h-0.95zM452.44,338.29h0.95v0.95h-0.95zM445.38,345.53h0.95v0.95h-0.95zM436.46,334.88h0.95v0.95h-0.95zM462.93,325.2h0.95v0.95h-0.95zM439.66,344.27h0.95v0.95h-0.95zM434.42,343.32h0.95v0.95h-0.95zM462.71,328.94h0.95v0.95h-0.95zM456.68,333.5h0.95v0.95h-0.95zM436.98,344.19h0.95v0.95h-0.95zM435.48,338.11h0.95v0.95h-0.95zM461.88,329.72h0.95v0.95h-0.95zM445.91,327.37h0.95v0.95h-0.95zM446.23,340.6h0.95v0.95h-0.95zM453.23,337.09h0.95v0.95h-0.95zM437,337.12h0.95v0.95h-0.95zM439.22,331.07h0.95v0.95h-0.95zM444.91,329.19h0.95v0.95h-0.95zM458.37,331.87h0.95v0.95h-0.95zM435.08,348.67h0.95v0.95h-0.95zM434.38,342.64h0.95v0.95h-0.95zM462.18,328.41h0.95v0.95h-0.95zM457.6,323.8h0.95v0.95h-0.95zM462.99,334.46h0.95v0.95h-0.95zM435,337.13h0.95v0.95h-0.95zM447.6,343.33h0.95v0.95h-0.95zM457.01,325.45h0.95v0.95h-0.95zM450.22,324.51h0.95v0.95h-0.95zM445.84,326.96h0.95v0.95h-0.95zM439.53,330.56h0.95v0.95h-0.95zM435.32,338.7h0.95v0.95h-0.95zM442.55,343.3h0.95v0.95h-0.95zM441.13,344.13h0.95v0.95h-0.95zM463.26,322.6h0.95v0.95h-0.95zM443.03,329.58h0.95v0.95h-0.95zM448.3,343.06h0.95v0.95h-0.95zM442.83,344.13h0.95v0.95h-0.95zM435.03,339.35h0.95v0.95h-0.95zM440.06,344.11h0.95v0.95h-0.95zM441.6,343.64h0.95v0.95h-0.95zM449.54,342.24h0.95v0.95h-0.95zM439.64,330.84h0.95v0.95h-0.95zM452.2,326.47h0.95v0.95h-0.95zM447.95,343.48h0.95v0.95h-0.95zM439.89,344.73h0.95v0.95h-0.95zM435.65,337.87h0.95v0.95h-0.95zM434.44,338.77h0.95v0.95h-0.95zM436.34,344.2h0.95v0.95h-0.95zM463.98,334.79h0.95v0.95h-0.95zM461.04,329.57h0.95v0.95h-0.95zM457.12,342.89h0.95v0.95h-0.95zM460.39,330.38h0.95v0.95h-0.95zM444.56,342.35h0.95v0.95h-0.95zM439.37,344.3h0.95v0.95h-0.95zM435.65,340.36h0.95v0.95h-0.95zM442.56,343.22h0.95v0.95h-0.95zM458.44,326.49h0.95v0.95h-0.95zM452.29,337.67h0.95v0.95h-0.95zM461.95,331.12h0.95v0.95h-0.95zM442.68,343.27h0.95v0.95h-0.95zM441.77,346.87h0.95v0.95h-0.95zM440.52,343.95h0.95v0.95h-0.95zM444.01,342.9h0.95v0.95h-0.95zM435.84,338.44h0.95v0.95h-0.95zM434.01,336.29h0.95v0.95h-0.95zM451.86,326.31h0.95v0.95h-0.95zM466.18,331.69h0.95v0.95h-0.95zM446.04,328.9h0.95v0.95h-0.95zM451.69,337.86h0.95v0.95h-0.95zM436.91,333.32h0.95v0.95h-0.95zM436.64,343.63h0.95v0.95h-0.95zM440,330.3h0.95v0.95h-0.95zM433.83,342.35h0.95v0.95h-0.95zM451.41,342.54h0.95v0.95h-0.95zM462.5,328.44h0.95v0.95h-0.95zM433.83,341.8h0.95v0.95h-0.95zM447.01,342.57h0.95v0.95h-0.95zM455.55,335.69h0.95v0.95h-0.95zM458,320.12h0.95v0.95h-0.95zM447.33,339.71h0.95v0.95h-0.95zM434.82,338.06h0.95v0.95h-0.95zM434.05,338.21h0.95v0.95h-0.95zM435.63,341.79h0.95v0.95h-0.95zM452.54,336.55h0.95v0.95h-0.95zM432.61,338.27h0.95v0.95h-0.95zM438.8,333.82h0.95v0.95h-0.95zM442.75,343.51h0.95v0.95h-0.95zM434.99,338.53h0.95v0.95h-0.95zM440.83,346.36h0.95v0.95h-0.95zM437.31,334.23h0.95v0.95h-0.95zM461.03,331.46h0.95v0.95h-0.95zM461.16,326.55h0.95v0.95h-0.95zM452.94,323.43h0.95v0.95h-0.95zM440.72,344.05h0.95v0.95h-0.95zM438.45,333.77h0.95v0.95h-0.95zM436.5,344.71h0.95v0.95h-0.95zM430.41,343.28h0.95v0.95h-0.95zM446.69,341.52h0.95v0.95h-0.95zM439.71,344.22h0.95v0.95h-0.95zM433.14,344.53h0.95v0.95h-0.95zM454.84,322.45h0.95v0.95h-0.95zM443.85,342.25h0.95v0.95h-0.95zM462.69,328.56h0.95v0.95h-0.95zM445.97,342.87h0.95v0.95h-0.95zM449.03,340.3h0.95v0.95h-0.95zM442.14,344.54h0.95v0.95h-0.95zM450.56,326.13h0.95v0.95h-0.95zM438.92,343.7h0.95v0.95h-0.95zM462.03,332h0.95v0.95h-0.95zM449.31,327.29h0.95v0.95h-0.95zM457.52,332.93h0.95v0.95h-0.95zM433.56,344.19h0.95v0.95h-0.95zM445.13,329.37h0.95v0.95h-0.95zM461.92,328.99h0.95v0.95h-0.95zM438.47,330.21h0.95v0.95h-0.95zM440.54,344.47h0.95v0.95h-0.95zM446.67,350.94h0.95v0.95h-0.95zM434.04,341.89h0.95v0.95h-0.95zM447.23,328.53h0.95v0.95h-0.95zM449.29,341.5h0.95v0.95h-0.95zM453.01,336.05h0.95v0.95h-0.95zM459.73,330.92h0.95v0.95h-0.95zM449.57,340.24h0.95v0.95h-0.95zM460.55,330.69h0.95v0.95h-0.95zM438.67,333.47h0.95v0.95h-0.95zM454.01,334.68h0.95v0.95h-0.95zM461.17,330.43h0.95v0.95h-0.95zM436.67,336.46h0.95v0.95h-0.95zM435.99,336.31h0.95v0.95h-0.95zM454,335.19h0.95v0.95h-0.95zM458.23,325.55h0.95v0.95h-0.95zM446.27,317.77h0.95v0.95h-0.95zM459.43,326.14h0.95v0.95h-0.95zM453.98,325.1h0.95v0.95h-0.95zM451.42,340.89h0.95v0.95h-0.95zM438.05,344.18h0.95v0.95h-0.95zM454.53,322.55h0.95v0.95h-0.95zM432.01,335.32h0.95v0.95h-0.95zM438.96,345h0.95v0.95h-0.95z" fill="#111"/>
<path d="M456.57,332.18h0.95v0.95h-0.95zM443.07,342.54h0.95v0.95h-0.95zM447.87,330.15h0.95v0.95h-0.95zM458.81,329.03h0.95v0.95h-0.95zM443.84,331.81h0.95v0.95h-0.95zM445.58,329.29h0.95v0.95h-0.95zM439.51,342.96h0.95v0.95h-0.95zM446.24,339.74h0.95v0.95h-0.95zM439.7,339.18h0.95v0.95h-0.95zM444.09,337.62h0.95v0.95h-0.95zM449.41,327.81h0.95v0.95h-0.95zM438.75,335.07h0.95v0.95h-0.95zM448.14,339.28h0.95v0.95h-0.95zM457.9,327.74h0.95v0.95h-0.95zM446.16,332.05h0.95v0.95h-0.95zM441.72,336.6h0.95v0.95h-0.95zM444.34,332.33h0.95v0.95h-0.95zM441.94,334.73h0.95v0.95h-0.95zM441.16,338.33h0.95v0.95h-0.95zM461.18,327.44h0.95v0.95h-0.95zM440.11,336.23h0.95v0.95h-0.95zM441.02,342.3h0.95v0.95h-0.95zM457.7,329.29h0.95v0.95h-0.95zM440.65,333.53h0.95v0.95h-0.95zM436.72,339.18h0.95v0.95h-0.95zM443.16,339.03h0.95v0.95h-0.95zM445.58,333.14h0.95v0.95h-0.95zM459.9,327.31h0.95v0.95h-0.95zM453.65,334.28h0.95v0.95h-0.95zM445.64,336.74h0.95v0.95h-0.95zM458.79,330.7h0.95v0.95h-0.95zM449.75,334.9h0.95v0.95h-0.95zM457.28,330.32h0.95v0.95h-0.95zM443.49,338.1h0.95v0.95h-0.95zM445.38,331.55h0.95v0.95h-0.95zM436.09,341.71h0.95v0.95h-0.95zM443.46,336.99h0.95v0.95h-0.95zM442.47,331.35h0.95v0.95h-0.95zM445.56,330.14h0.95v0.95h-0.95zM456.55,328.15h0.95v0.95h-0.95zM443.53,337.51h0.95v0.95h-0.95zM448.55,334.65h0.95v0.95h-0.95zM454.27,333.53h0.95v0.95h-0.95zM450.12,332.4h0.95v0.95h-0.95zM445.92,332.68h0.95v0.95h-0.95zM452.09,326.84h0.95v0.95h-0.95zM445.7,335.29h0.95v0.95h-0.95zM444.67,338.08h0.95v0.95h-0.95zM437.78,339.8h0.95v0.95h-0.95zM440.57,340.94h0.95v0.95h-0.95zM446.48,338.01h0.95v0.95h-0.95zM440.3,336.34h0.95v0.95h-0.95zM444.21,339.4h0.95v0.95h-0.95zM458.26,329.9h0.95v0.95h-0.95zM445.58,332.45h0.95v0.95h-0.95zM439.24,335.64h0.95v0.95h-0.95zM442.27,331.37h0.95v0.95h-0.95zM441.36,336.05h0.95v0.95h-0.95zM449.9,328.91h0.95v0.95h-0.95zM443.36,332.51h0.95v0.95h-0.95zM445.59,339.57h0.95v0.95h-0.95zM456.95,329.76h0.95v0.95h-0.95zM451.11,327.38h0.95v0.95h-0.95zM448.06,337.81h0.95v0.95h-0.95zM447.91,328.35h0.95v0.95h-0.95zM453.58,332.85h0.95v0.95h-0.95zM442.29,335.08h0.95v0.95h-0.95zM448.55,330.36h0.95v0.95h-0.95zM439.65,343.49h0.95v0.95h-0.95zM452.99,331.29h0.95v0.95h-0.95z" fill="#111"/>
<polygon points="436.6,340.42 437.3,338.35 438.68,335.92 440.07,333.5 442.14,331.42 444.91,330.04 448.37,328.66 451.84,327.27 455.3,326.92 458.76,327.27 460.84,328.31 459.45,330.04 457.37,331.77 454.6,333.5 451.84,335.58 449.76,338 447.68,339.73 444.91,341.12 442.14,342.5 439.37,342.85 437.3,342.5" fill="#000"/>
<ellipse cx="453.2" cy="287.9" rx="4" ry="1.9" fill="#000"/>
<path d="M426.04,363.1v1.3M429.57,363.1v1.3M432.07,363.1v1.3M434.01,363.1v1.3M435.6,363.1v1.3M436.94,363.1v1.3M438.11,363.1v1.3M439.13,363.1v1.3M420,357.05h-1.3M420,353.51h-1.3M420,351h-1.3M420,349.05h-1.3M420,347.46h-1.3M420,346.11h-1.3M420,344.95h-1.3M420,343.92h-1.3M446.09,363.1v1.3M449.62,363.1v1.3M452.12,363.1v1.3M454.06,363.1v1.3M455.65,363.1v1.3M456.99,363.1v1.3M458.16,363.1v1.3M459.18,363.1v1.3M420,336.95h-1.3M420,333.41h-1.3M420,330.9h-1.3M420,328.95h-1.3M420,327.36h-1.3M420,326.01h-1.3M420,324.85h-1.3M420,323.82h-1.3M466.14,363.1v1.3M469.67,363.1v1.3M472.17,363.1v1.3M474.11,363.1v1.3M475.7,363.1v1.3M477.04,363.1v1.3M478.21,363.1v1.3M479.23,363.1v1.3M420,316.85h-1.3M420,313.31h-1.3M420,310.8h-1.3M420,308.85h-1.3M420,307.26h-1.3M420,305.91h-1.3M420,304.75h-1.3M420,303.72h-1.3M486.19,363.1v1.3M489.72,363.1v1.3M492.22,363.1v1.3M494.16,363.1v1.3M495.75,363.1v1.3M497.09,363.1v1.3M498.26,363.1v1.3M499.28,363.1v1.3M420,296.75h-1.3M420,293.21h-1.3M420,290.7h-1.3M420,288.75h-1.3M420,287.16h-1.3M420,285.81h-1.3M420,284.65h-1.3M420,283.62h-1.3M420,363.1v2M420,363.1h-2M440.05,363.1v2M420,343h-2M460.1,363.1v2M420,322.9h-2M480.15,363.1v2M420,302.8h-2M500.2,363.1v2M420,282.7h-2" stroke="#222" stroke-width="0.7" fill="none"/>
<line x1="420" y1="282.7" x2="500.2" y2="282.7" stroke="#555" stroke-width="0.9"/>
<line x1="500.2" y1="282.25" x2="500.2" y2="363.1" stroke="#333" stroke-width="1.4"/>
<line x1="420" y1="282.3" x2="420" y2="363.7" stroke="#111" stroke-width="1.5"/>
<line x1="419.6" y1="363.1" x2="500.8" y2="363.1" stroke="#111" stroke-width="1.6"/>
<line x1="452" y1="282.7" x2="452" y2="363.1" stroke="#333" stroke-width="1"/>
<line x1="420" y1="324.1" x2="500.2" y2="324.1" stroke="#2a2a2a" stroke-width="1.1"/>
<text x="415.9" y="372.4" font-size="6.2" fill="#3a3a3a" textLength="7.9" lengthAdjust="spacingAndGlyphs">10<tspan dy="-2.4" font-size="4.4">0</tspan></text>
<text x="435.95" y="372.4" font-size="6.2" fill="#3a3a3a" textLength="7.9" lengthAdjust="spacingAndGlyphs">10<tspan dy="-2.4" font-size="4.4">1</tspan></text>
<text x="456" y="372.4" font-size="6.2" fill="#3a3a3a" textLength="7.9" lengthAdjust="spacingAndGlyphs">10<tspan dy="-2.4" font-size="4.4">2</tspan></text>
<text x="476.05" y="372.4" font-size="6.2" fill="#3a3a3a" textLength="7.9" lengthAdjust="spacingAndGlyphs">10<tspan dy="-2.4" font-size="4.4">3</tspan></text>
<text x="496.1" y="372.4" font-size="6.2" fill="#3a3a3a" textLength="7.9" lengthAdjust="spacingAndGlyphs">10<tspan dy="-2.4" font-size="4.4">4</tspan></text>
<text transform="translate(416.1,368) rotate(-90)" font-size="6.8" fill="#3a3a3a" textLength="8.6" lengthAdjust="spacingAndGlyphs">10<tspan dy="-2.6" font-size="4.8">0</tspan></text>
<text transform="translate(416.1,347.9) rotate(-90)" font-size="6.8" fill="#3a3a3a" textLength="8.6" lengthAdjust="spacingAndGlyphs">10<tspan dy="-2.6" font-size="4.8">1</tspan></text>
<text transform="translate(416.1,327.8) rotate(-90)" font-size="6.8" fill="#3a3a3a" textLength="8.6" lengthAdjust="spacingAndGlyphs">10<tspan dy="-2.6" font-size="4.8">2</tspan></text>
<text transform="translate(416.1,307.7) rotate(-90)" font-size="6.8" fill="#3a3a3a" textLength="8.6" lengthAdjust="spacingAndGlyphs">10<tspan dy="-2.6" font-size="4.8">3</tspan></text>
<text transform="translate(416.1,286.5) rotate(-90)" font-size="6.8" fill="#3a3a3a" textLength="5.8" lengthAdjust="spacingAndGlyphs">10</text>
<text x="417" y="276" font-size="9" textLength="73.7" lengthAdjust="spacingAndGlyphs" fill="#151515">IACS + cytarabine</text>
<text x="475.9" y="296.7" font-size="10.4" textLength="23.3" lengthAdjust="spacingAndGlyphs" fill="#1a1a1a">4.5%</text>
<text x="475.6" y="353.1" font-size="10.4" textLength="21.3" lengthAdjust="spacingAndGlyphs" fill="#1a1a1a">7.6%</text>
<path d="M88.22,431.01h0.95v0.95h-0.95zM88.53,425.51h0.95v0.95h-0.95zM80.61,426.82h0.95v0.95h-0.95zM85.77,430.37h0.95v0.95h-0.95zM85.93,425.9h0.95v0.95h-0.95zM84.64,428.09h0.95v0.95h-0.95zM84.77,423.98h0.95v0.95h-0.95zM81.19,424.82h0.95v0.95h-0.95zM81.09,429.54h0.95v0.95h-0.95zM88.49,430.73h0.95v0.95h-0.95zM81.08,423.7h0.95v0.95h-0.95zM86.43,429.78h0.95v0.95h-0.95zM83.73,428.93h0.95v0.95h-0.95zM82.43,424.39h0.95v0.95h-0.95zM83.26,428.36h0.95v0.95h-0.95zM81.66,427.67h0.95v0.95h-0.95zM82.81,432.09h0.95v0.95h-0.95zM88.62,431.29h0.95v0.95h-0.95zM90.8,446.22h0.95v0.95h-0.95zM83.67,448h0.95v0.95h-0.95zM90.39,437.69h0.95v0.95h-0.95zM94.8,439.83h0.95v0.95h-0.95zM85.55,450.32h0.95v0.95h-0.95zM85.47,445h0.95v0.95h-0.95zM83.17,450.31h0.95v0.95h-0.95zM88.35,449.03h0.95v0.95h-0.95z" fill="#888"/>
<path d="M73.4,462.82h0.95v0.95h-0.95zM75.22,462.71h0.95v0.95h-0.95zM73.11,464.18h0.95v0.95h-0.95zM73.77,463.54h0.95v0.95h-0.95zM69.75,465.22h0.95v0.95h-0.95zM73.89,465.06h0.95v0.95h-0.95zM69.72,466.9h0.95v0.95h-0.95zM76.81,460.67h0.95v0.95h-0.95zM69.1,465.77h0.95v0.95h-0.95zM73,464.75h0.95v0.95h-0.95zM77.84,463.63h0.95v0.95h-0.95zM73.35,463.28h0.95v0.95h-0.95zM77.34,462.91h0.95v0.95h-0.95zM75.74,463.06h0.95v0.95h-0.95zM69.21,464.48h0.95v0.95h-0.95zM68.62,466.84h0.95v0.95h-0.95zM72.52,464.03h0.95v0.95h-0.95zM68.91,464.55h0.95v0.95h-0.95zM77.76,460.78h0.95v0.95h-0.95zM70.29,466.04h0.95v0.95h-0.95zM75.74,459.78h0.95v0.95h-0.95zM73.18,463.1h0.95v0.95h-0.95zM73.6,461.52h0.95v0.95h-0.95zM67.68,461.8h0.95v0.95h-0.95zM73.86,464.76h0.95v0.95h-0.95z" fill="#555"/>
<path d="M52.23,478.29h0.95v0.95h-0.95zM54.78,486.09h0.95v0.95h-0.95zM65.65,477.96h0.95v0.95h-0.95zM60.79,469.32h0.95v0.95h-0.95zM77.02,472.71h0.95v0.95h-0.95zM57.11,472.48h0.95v0.95h-0.95zM63.06,479.44h0.95v0.95h-0.95zM68.16,476.15h0.95v0.95h-0.95zM77.38,467.77h0.95v0.95h-0.95zM50.76,486.06h0.95v0.95h-0.95zM49.88,481.7h0.95v0.95h-0.95zM58.11,471.57h0.95v0.95h-0.95zM80.35,475.56h0.95v0.95h-0.95zM54.07,473.36h0.95v0.95h-0.95zM69.61,476.81h0.95v0.95h-0.95zM50.02,483.75h0.95v0.95h-0.95zM63.67,466.24h0.95v0.95h-0.95zM51.39,486.02h0.95v0.95h-0.95zM59.85,469.01h0.95v0.95h-0.95zM65.26,467.1h0.95v0.95h-0.95zM65.87,465.51h0.95v0.95h-0.95zM62.34,483.52h0.95v0.95h-0.95zM55.99,487h0.95v0.95h-0.95zM62.41,465.81h0.95v0.95h-0.95zM66.35,466.23h0.95v0.95h-0.95zM59.51,483.16h0.95v0.95h-0.95zM67.98,478.21h0.95v0.95h-0.95zM52.9,478.31h0.95v0.95h-0.95zM51.1,485.41h0.95v0.95h-0.95zM65.75,478.44h0.95v0.95h-0.95zM57.15,487.16h0.95v0.95h-0.95zM58.12,471.51h0.95v0.95h-0.95zM62.54,481.71h0.95v0.95h-0.95zM49.48,482.52h0.95v0.95h-0.95zM54,475.51h0.95v0.95h-0.95zM66.6,478.38h0.95v0.95h-0.95zM62.65,468.17h0.95v0.95h-0.95zM54.29,473.49h0.95v0.95h-0.95zM53.48,488.04h0.95v0.95h-0.95zM65.33,467.09h0.95v0.95h-0.95zM68.19,465.19h0.95v0.95h-0.95zM61.03,481.55h0.95v0.95h-0.95zM50.5,481.26h0.95v0.95h-0.95zM53.72,474.02h0.95v0.95h-0.95zM53.07,476.32h0.95v0.95h-0.95zM63.32,479.43h0.95v0.95h-0.95zM50.43,484h0.95v0.95h-0.95zM49.52,483.38h0.95v0.95h-0.95zM59.43,471.53h0.95v0.95h-0.95zM50.72,478.67h0.95v0.95h-0.95zM61.27,481.01h0.95v0.95h-0.95zM43.53,477.71h0.95v0.95h-0.95zM53.22,475.87h0.95v0.95h-0.95zM70.26,465.24h0.95v0.95h-0.95zM62.66,481.75h0.95v0.95h-0.95zM60,483.98h0.95v0.95h-0.95zM74.85,466.83h0.95v0.95h-0.95zM72.29,471.34h0.95v0.95h-0.95zM69.25,464.11h0.95v0.95h-0.95zM68.12,465.9h0.95v0.95h-0.95zM54.07,474.87h0.95v0.95h-0.95zM55.58,472.79h0.95v0.95h-0.95zM62.54,479.91h0.95v0.95h-0.95zM69.83,458.19h0.95v0.95h-0.95zM55.44,485.21h0.95v0.95h-0.95zM63.22,467.25h0.95v0.95h-0.95zM49.64,481.35h0.95v0.95h-0.95zM66.35,482.62h0.95v0.95h-0.95zM62.9,466.92h0.95v0.95h-0.95zM67.26,466.81h0.95v0.95h-0.95zM71.55,464.09h0.95v0.95h-0.95zM67.63,476.08h0.95v0.95h-0.95zM57.23,469.22h0.95v0.95h-0.95zM67.5,477.23h0.95v0.95h-0.95zM51.79,479.47h0.95v0.95h-0.95zM52.69,486.41h0.95v0.95h-0.95zM56.17,485.49h0.95v0.95h-0.95zM76.86,467.67h0.95v0.95h-0.95zM54.81,475.3h0.95v0.95h-0.95zM57.42,468.23h0.95v0.95h-0.95zM52.86,476.14h0.95v0.95h-0.95zM78.11,460.08h0.95v0.95h-0.95zM54.93,471.76h0.95v0.95h-0.95zM57.08,473.15h0.95v0.95h-0.95zM71.43,464.79h0.95v0.95h-0.95zM65.02,479.71h0.95v0.95h-0.95zM51.25,478.72h0.95v0.95h-0.95zM74.44,463.99h0.95v0.95h-0.95zM50.17,478.55h0.95v0.95h-0.95zM58.01,484.44h0.95v0.95h-0.95zM52.15,476.17h0.95v0.95h-0.95zM57.2,470.4h0.95v0.95h-0.95zM52.06,475.14h0.95v0.95h-0.95zM74.18,465.5h0.95v0.95h-0.95zM48.95,483.67h0.95v0.95h-0.95zM65.61,466.91h0.95v0.95h-0.95zM64.87,465.56h0.95v0.95h-0.95zM58.58,469.92h0.95v0.95h-0.95zM62.5,479.96h0.95v0.95h-0.95zM58.61,472.38h0.95v0.95h-0.95zM69.23,464.77h0.95v0.95h-0.95zM62.92,467.98h0.95v0.95h-0.95zM59.83,469.38h0.95v0.95h-0.95zM67.28,479.84h0.95v0.95h-0.95zM50.27,480.87h0.95v0.95h-0.95zM62.08,482.06h0.95v0.95h-0.95zM74.35,466.62h0.95v0.95h-0.95zM70.6,463.39h0.95v0.95h-0.95zM55.22,475.49h0.95v0.95h-0.95zM51.17,484.84h0.95v0.95h-0.95zM61.4,468.05h0.95v0.95h-0.95zM61.56,469.11h0.95v0.95h-0.95zM58.93,470.91h0.95v0.95h-0.95zM74.09,465.91h0.95v0.95h-0.95zM59.97,470.31h0.95v0.95h-0.95zM56.87,473.54h0.95v0.95h-0.95zM53.91,486.61h0.95v0.95h-0.95zM67.47,481.29h0.95v0.95h-0.95zM66.02,478.35h0.95v0.95h-0.95zM52.76,478.36h0.95v0.95h-0.95zM66.86,466.19h0.95v0.95h-0.95zM58.41,484.85h0.95v0.95h-0.95zM60.62,483.12h0.95v0.95h-0.95zM69.37,475.18h0.95v0.95h-0.95zM60.04,469.87h0.95v0.95h-0.95zM49.99,484.08h0.95v0.95h-0.95zM51.09,477.8h0.95v0.95h-0.95zM55.61,473.84h0.95v0.95h-0.95zM56.69,471.29h0.95v0.95h-0.95zM61.04,467.66h0.95v0.95h-0.95zM65.58,477.43h0.95v0.95h-0.95zM61.3,468.85h0.95v0.95h-0.95zM51.38,479.58h0.95v0.95h-0.95zM52.67,476.41h0.95v0.95h-0.95zM50.89,479.3h0.95v0.95h-0.95zM49.85,483.21h0.95v0.95h-0.95zM71.24,472.69h0.95v0.95h-0.95zM57.05,485.1h0.95v0.95h-0.95zM69.03,465.44h0.95v0.95h-0.95zM72.34,473.56h0.95v0.95h-0.95zM49.58,481.4h0.95v0.95h-0.95zM48.92,480.51h0.95v0.95h-0.95zM53.7,475.74h0.95v0.95h-0.95zM62.79,461.58h0.95v0.95h-0.95zM65.1,477.59h0.95v0.95h-0.95zM61.5,483.16h0.95v0.95h-0.95zM64.42,479.97h0.95v0.95h-0.95zM52.65,477.05h0.95v0.95h-0.95zM60.74,488.64h0.95v0.95h-0.95zM66.85,465.57h0.95v0.95h-0.95zM74.69,468.67h0.95v0.95h-0.95zM69.59,475.26h0.95v0.95h-0.95zM48.86,490.24h0.95v0.95h-0.95zM51.89,486.65h0.95v0.95h-0.95zM61.01,482.3h0.95v0.95h-0.95zM75.43,467.92h0.95v0.95h-0.95zM69.46,465.06h0.95v0.95h-0.95zM69.37,473.98h0.95v0.95h-0.95zM52.4,477.05h0.95v0.95h-0.95zM71.9,464.47h0.95v0.95h-0.95zM78.1,467.99h0.95v0.95h-0.95zM53.83,476.87h0.95v0.95h-0.95zM66.28,478.25h0.95v0.95h-0.95zM61.93,481.42h0.95v0.95h-0.95zM64.24,465.62h0.95v0.95h-0.95zM50.7,481.75h0.95v0.95h-0.95zM68.16,475.84h0.95v0.95h-0.95zM74.23,467.65h0.95v0.95h-0.95zM52.43,475.38h0.95v0.95h-0.95zM67.96,466.24h0.95v0.95h-0.95zM65.31,479.84h0.95v0.95h-0.95zM66.99,476.38h0.95v0.95h-0.95z" fill="#111"/>
<path d="M59.75,481.36h0.95v0.95h-0.95zM66.41,469.28h0.95v0.95h-0.95zM52.06,480.09h0.95v0.95h-0.95zM53.66,485.85h0.95v0.95h-0.95zM52.99,481.17h0.95v0.95h-0.95zM52.78,483.89h0.95v0.95h-0.95zM62.11,475.36h0.95v0.95h-0.95zM60.05,476.8h0.95v0.95h-0.95zM53.98,481.8h0.95v0.95h-0.95zM65.57,471.83h0.95v0.95h-0.95zM67.28,471.76h0.95v0.95h-0.95zM57.68,479.67h0.95v0.95h-0.95zM65.68,473.12h0.95v0.95h-0.95zM59.92,478.15h0.95v0.95h-0.95zM61.73,472.3h0.95v0.95h-0.95zM54.17,485.04h0.95v0.95h-0.95zM56.9,478.56h0.95v0.95h-0.95zM69.93,471.19h0.95v0.95h-0.95zM55.44,483.72h0.95v0.95h-0.95zM53.81,484.57h0.95v0.95h-0.95zM66.43,473.89h0.95v0.95h-0.95zM57.93,473.21h0.95v0.95h-0.95zM62.21,478.08h0.95v0.95h-0.95zM61.53,469.54h0.95v0.95h-0.95zM59.83,478.21h0.95v0.95h-0.95zM59.23,473.05h0.95v0.95h-0.95zM64.41,476.25h0.95v0.95h-0.95zM56.06,474.86h0.95v0.95h-0.95zM52.26,479.9h0.95v0.95h-0.95zM51.57,483.4h0.95v0.95h-0.95zM68.09,471.28h0.95v0.95h-0.95zM67.17,471.29h0.95v0.95h-0.95zM64.48,469.73h0.95v0.95h-0.95zM69.72,473.37h0.95v0.95h-0.95zM69.3,469.23h0.95v0.95h-0.95zM54.14,482.89h0.95v0.95h-0.95zM56.81,480.34h0.95v0.95h-0.95zM70.4,472.66h0.95v0.95h-0.95zM53.93,485.55h0.95v0.95h-0.95zM57.92,481.56h0.95v0.95h-0.95zM61.4,471.17h0.95v0.95h-0.95zM50.79,481.92h0.95v0.95h-0.95zM58.61,482.09h0.95v0.95h-0.95zM54.26,477.09h0.95v0.95h-0.95zM58.01,477.14h0.95v0.95h-0.95zM61.91,477.45h0.95v0.95h-0.95zM55.56,479.51h0.95v0.95h-0.95zM53.12,485.27h0.95v0.95h-0.95zM57.3,476.03h0.95v0.95h-0.95zM61.2,478.18h0.95v0.95h-0.95zM55.19,476.6h0.95v0.95h-0.95zM54.27,483.44h0.95v0.95h-0.95zM64.95,474.85h0.95v0.95h-0.95zM62.09,470.05h0.95v0.95h-0.95zM65.97,471.95h0.95v0.95h-0.95zM64.75,469.14h0.95v0.95h-0.95zM62.12,473.3h0.95v0.95h-0.95zM56.38,482.19h0.95v0.95h-0.95zM66.36,468.88h0.95v0.95h-0.95zM52.47,481.89h0.95v0.95h-0.95zM62.61,476.83h0.95v0.95h-0.95zM72.83,467.86h0.95v0.95h-0.95zM51.82,480.36h0.95v0.95h-0.95zM72.88,469.04h0.95v0.95h-0.95zM65.81,469.17h0.95v0.95h-0.95zM67.08,473.83h0.95v0.95h-0.95zM60.61,476.23h0.95v0.95h-0.95zM60.51,477.22h0.95v0.95h-0.95zM70.1,468.38h0.95v0.95h-0.95zM53.11,481.93h0.95v0.95h-0.95zM57.48,474.03h0.95v0.95h-0.95zM70.59,471.81h0.95v0.95h-0.95zM60.11,480.19h0.95v0.95h-0.95zM71.35,465.72h0.95v0.95h-0.95zM61.31,471.72h0.95v0.95h-0.95zM63.91,476.4h0.95v0.95h-0.95zM58.74,472.15h0.95v0.95h-0.95zM52.55,484.51h0.95v0.95h-0.95zM64.69,470.18h0.95v0.95h-0.95zM56.25,478.5h0.95v0.95h-0.95zM67.04,476.17h0.95v0.95h-0.95zM64.29,469.01h0.95v0.95h-0.95zM65.6,473.48h0.95v0.95h-0.95zM57.31,480.69h0.95v0.95h-0.95zM56.49,483.55h0.95v0.95h-0.95zM71.36,466.54h0.95v0.95h-0.95zM52.99,478.01h0.95v0.95h-0.95zM55.45,483.33h0.95v0.95h-0.95zM52.67,483.58h0.95v0.95h-0.95zM72.58,467.15h0.95v0.95h-0.95zM66.13,474.54h0.95v0.95h-0.95zM51.82,479.29h0.95v0.95h-0.95zM70.73,469.89h0.95v0.95h-0.95zM55.05,482.35h0.95v0.95h-0.95zM55.65,480.26h0.95v0.95h-0.95zM59.63,481.11h0.95v0.95h-0.95zM52.96,483.25h0.95v0.95h-0.95zM58.64,475.78h0.95v0.95h-0.95zM59.23,482.51h0.95v0.95h-0.95zM50.7,483.04h0.95v0.95h-0.95zM69.67,467.44h0.95v0.95h-0.95zM73.15,467.98h0.95v0.95h-0.95zM64.78,476.79h0.95v0.95h-0.95zM70.81,465.69h0.95v0.95h-0.95zM56.63,475.94h0.95v0.95h-0.95zM72.79,468.6h0.95v0.95h-0.95zM55.54,479.01h0.95v0.95h-0.95zM57.29,481.15h0.95v0.95h-0.95zM53.97,484.64h0.95v0.95h-0.95zM62.49,477.7h0.95v0.95h-0.95zM65.48,471.3h0.95v0.95h-0.95zM66.85,467.83h0.95v0.95h-0.95zM68.81,467.5h0.95v0.95h-0.95zM53.1,485.44h0.95v0.95h-0.95zM54.74,482.1h0.95v0.95h-0.95z" fill="#111"/>
<polygon points="51.87,481.33 53.11,478.85 54.97,476.98 56.83,475.12 58.69,473.26 60.56,471.4 62.73,470.16 65.21,469.23 67.69,468.3 69.55,467.99 70.79,468.92 70.17,471.4 68.31,473.88 65.83,476.36 63.35,478.23 60.87,480.4 58.38,482.57 55.9,484.43 53.42,485.05 51.87,483.81" fill="#000"/>
<path d="M45.84,497.8v1.3M49.26,497.8v1.3M51.68,497.8v1.3M53.56,497.8v1.3M55.1,497.8v1.3M56.39,497.8v1.3M57.52,497.8v1.3M58.51,497.8v1.3M40,491.92h-1.3M40,488.48h-1.3M40,486.04h-1.3M40,484.15h-1.3M40,482.61h-1.3M40,481.3h-1.3M40,480.17h-1.3M40,479.17h-1.3M65.24,497.8v1.3M68.66,497.8v1.3M71.08,497.8v1.3M72.96,497.8v1.3M74.5,497.8v1.3M75.79,497.8v1.3M76.92,497.8v1.3M77.91,497.8v1.3M40,472.4h-1.3M40,468.96h-1.3M40,466.52h-1.3M40,464.63h-1.3M40,463.08h-1.3M40,461.77h-1.3M40,460.64h-1.3M40,459.64h-1.3M84.64,497.8v1.3M88.06,497.8v1.3M90.48,497.8v1.3M92.36,497.8v1.3M93.9,497.8v1.3M95.19,497.8v1.3M96.32,497.8v1.3M97.31,497.8v1.3M40,452.87h-1.3M40,449.43h-1.3M40,446.99h-1.3M40,445.1h-1.3M40,443.56h-1.3M40,442.25h-1.3M40,441.12h-1.3M40,440.12h-1.3M104.04,497.8v1.3M107.46,497.8v1.3M109.88,497.8v1.3M111.76,497.8v1.3M113.3,497.8v1.3M114.59,497.8v1.3M115.72,497.8v1.3M116.71,497.8v1.3M40,433.35h-1.3M40,429.91h-1.3M40,427.47h-1.3M40,425.58h-1.3M40,424.03h-1.3M40,422.72h-1.3M40,421.59h-1.3M40,420.59h-1.3M40,497.8v2M40,497.8h-2M59.4,497.8v2M40,478.27h-2M78.8,497.8v2M40,458.75h-2M98.2,497.8v2M40,439.23h-2M117.6,497.8v2M40,419.7h-2" stroke="#222" stroke-width="0.7" fill="none"/>
<line x1="40" y1="419.7" x2="117.6" y2="419.7" stroke="#555" stroke-width="0.9"/>
<line x1="117.6" y1="419.25" x2="117.6" y2="497.8" stroke="#333" stroke-width="1.4"/>
<line x1="40" y1="419.3" x2="40" y2="498.4" stroke="#111" stroke-width="1.5"/>
<line x1="39.6" y1="497.8" x2="118.2" y2="497.8" stroke="#111" stroke-width="1.6"/>
<line x1="76.7" y1="419.7" x2="76.7" y2="497.8" stroke="#333" stroke-width="1"/>
<line x1="40" y1="457.8" x2="117.6" y2="457.8" stroke="#2a2a2a" stroke-width="1.1"/>
<text x="35.9" y="507.1" font-size="6.2" fill="#3a3a3a" textLength="7.9" lengthAdjust="spacingAndGlyphs">10<tspan dy="-2.4" font-size="4.4">0</tspan></text>
<text x="55.3" y="507.1" font-size="6.2" fill="#3a3a3a" textLength="7.9" lengthAdjust="spacingAndGlyphs">10<tspan dy="-2.4" font-size="4.4">1</tspan></text>
<text x="74.7" y="507.1" font-size="6.2" fill="#3a3a3a" textLength="7.9" lengthAdjust="spacingAndGlyphs">10<tspan dy="-2.4" font-size="4.4">2</tspan></text>
<text x="94.1" y="507.1" font-size="6.2" fill="#3a3a3a" textLength="7.9" lengthAdjust="spacingAndGlyphs">10<tspan dy="-2.4" font-size="4.4">3</tspan></text>
<text x="113.5" y="507.1" font-size="6.2" fill="#3a3a3a" textLength="7.9" lengthAdjust="spacingAndGlyphs">10<tspan dy="-2.4" font-size="4.4">4</tspan></text>
<text transform="translate(36.1,502.7) rotate(-90)" font-size="6.8" fill="#3a3a3a" textLength="8.6" lengthAdjust="spacingAndGlyphs">10<tspan dy="-2.6" font-size="4.8">0</tspan></text>
<text transform="translate(36.1,483.17) rotate(-90)" font-size="6.8" fill="#3a3a3a" textLength="8.6" lengthAdjust="spacingAndGlyphs">10<tspan dy="-2.6" font-size="4.8">1</tspan></text>
<text transform="translate(36.1,463.65) rotate(-90)" font-size="6.8" fill="#3a3a3a" textLength="8.6" lengthAdjust="spacingAndGlyphs">10<tspan dy="-2.6" font-size="4.8">2</tspan></text>
<text transform="translate(36.1,444.12) rotate(-90)" font-size="6.8" fill="#3a3a3a" textLength="8.6" lengthAdjust="spacingAndGlyphs">10<tspan dy="-2.6" font-size="4.8">3</tspan></text>
<text transform="translate(36.1,423.5) rotate(-90)" font-size="6.8" fill="#3a3a3a" textLength="5.8" lengthAdjust="spacingAndGlyphs">10</text>
<text x="61.8" y="414" font-size="9" textLength="29.1" lengthAdjust="spacingAndGlyphs" fill="#151515">Control</text>
<text x="92.5" y="434.2" font-size="10.4" textLength="22.9" lengthAdjust="spacingAndGlyphs" fill="#1a1a1a">1.3%</text>
<text x="91.9" y="487.7" font-size="10.4" textLength="23.5" lengthAdjust="spacingAndGlyphs" fill="#1a1a1a">0.4%</text>
<path d="M190.66,423.84h0.95v0.95h-0.95zM201.92,423.89h0.95v0.95h-0.95zM190.22,423.27h0.95v0.95h-0.95zM200.2,427.18h0.95v0.95h-0.95zM181.03,427.48h0.95v0.95h-0.95zM204.07,425.34h0.95v0.95h-0.95zM189.33,425.62h0.95v0.95h-0.95zM181.67,427.83h0.95v0.95h-0.95zM188.15,422.23h0.95v0.95h-0.95zM197.11,427.67h0.95v0.95h-0.95zM184.44,427.54h0.95v0.95h-0.95zM187.59,425.17h0.95v0.95h-0.95zM198.4,426.84h0.95v0.95h-0.95zM188.52,427.17h0.95v0.95h-0.95zM182.83,427.4h0.95v0.95h-0.95zM196.31,424.45h0.95v0.95h-0.95zM195.66,424.73h0.95v0.95h-0.95zM181.88,426.79h0.95v0.95h-0.95zM202.55,424.87h0.95v0.95h-0.95zM203.71,423.79h0.95v0.95h-0.95zM185.66,425.27h0.95v0.95h-0.95zM202.5,427.53h0.95v0.95h-0.95zM181.32,424.55h0.95v0.95h-0.95zM184.34,427.82h0.95v0.95h-0.95zM184.55,422.08h0.95v0.95h-0.95zM190.67,426.99h0.95v0.95h-0.95zM182.47,425.03h0.95v0.95h-0.95zM183.45,426.1h0.95v0.95h-0.95z" fill="#888"/>
<path d="M222.14,427.32h0.95v0.95h-0.95zM215.32,426.57h0.95v0.95h-0.95zM218.12,426.31h0.95v0.95h-0.95zM211.96,426.53h0.95v0.95h-0.95zM213.54,422.67h0.95v0.95h-0.95zM208.31,427.75h0.95v0.95h-0.95zM217,426.31h0.95v0.95h-0.95zM219.95,423.72h0.95v0.95h-0.95zM217.29,425.22h0.95v0.95h-0.95zM213.02,425.91h0.95v0.95h-0.95zM214.36,424.45h0.95v0.95h-0.95zM208.13,422.46h0.95v0.95h-0.95zM216.83,427.72h0.95v0.95h-0.95zM215.06,425.26h0.95v0.95h-0.95zM211.51,422.24h0.95v0.95h-0.95zM213.2,426.37h0.95v0.95h-0.95zM208.44,425.16h0.95v0.95h-0.95zM209.23,426.57h0.95v0.95h-0.95zM214.56,424.34h0.95v0.95h-0.95zM218.55,425.72h0.95v0.95h-0.95zM212.54,427.21h0.95v0.95h-0.95zM217.22,426.86h0.95v0.95h-0.95zM212.43,427.16h0.95v0.95h-0.95zM215.73,425.15h0.95v0.95h-0.95zM220.89,427.93h0.95v0.95h-0.95zM221.35,425.72h0.95v0.95h-0.95zM218.87,426.28h0.95v0.95h-0.95zM212.65,424.96h0.95v0.95h-0.95zM212.98,427.35h0.95v0.95h-0.95zM212.56,423.93h0.95v0.95h-0.95zM219.03,422.85h0.95v0.95h-0.95zM210.28,424.09h0.95v0.95h-0.95zM222.5,425.14h0.95v0.95h-0.95zM209.21,423.93h0.95v0.95h-0.95zM217.89,426.76h0.95v0.95h-0.95zM215.73,426.21h0.95v0.95h-0.95zM214.05,424.35h0.95v0.95h-0.95zM218.45,425.66h0.95v0.95h-0.95zM218.52,423.65h0.95v0.95h-0.95zM209.09,425.05h0.95v0.95h-0.95zM211.01,422.08h0.95v0.95h-0.95zM207.21,424.51h0.95v0.95h-0.95zM211.58,423.99h0.95v0.95h-0.95zM207.55,427.51h0.95v0.95h-0.95zM219.12,423.54h0.95v0.95h-0.95z" fill="#555"/>
<path d="M208.18,455.67h0.95v0.95h-0.95zM219.79,448.14h0.95v0.95h-0.95zM211.52,444.73h0.95v0.95h-0.95zM207.82,454.26h0.95v0.95h-0.95zM220.77,452.86h0.95v0.95h-0.95zM212.39,440h0.95v0.95h-0.95zM214.68,441.24h0.95v0.95h-0.95zM218.96,449.74h0.95v0.95h-0.95zM219.64,447.43h0.95v0.95h-0.95zM208.38,445.2h0.95v0.95h-0.95zM206.76,448.91h0.95v0.95h-0.95zM208.25,453.11h0.95v0.95h-0.95zM217.03,449.91h0.95v0.95h-0.95zM216.11,452.46h0.95v0.95h-0.95zM207.29,448.98h0.95v0.95h-0.95zM215.63,446.99h0.95v0.95h-0.95zM209.89,437.4h0.95v0.95h-0.95zM209.93,453.97h0.95v0.95h-0.95zM207.97,433.2h0.95v0.95h-0.95zM212.34,452.45h0.95v0.95h-0.95zM220.94,433.03h0.95v0.95h-0.95zM206.2,450.9h0.95v0.95h-0.95z" fill="#777"/>
<path d="M210.44,456.61h0.95v0.95h-0.95zM205.65,458.16h0.95v0.95h-0.95zM207.67,456.36h0.95v0.95h-0.95zM208.83,453.68h0.95v0.95h-0.95zM209.81,457.2h0.95v0.95h-0.95zM206.87,458.26h0.95v0.95h-0.95zM202.9,462.19h0.95v0.95h-0.95zM203.24,458.11h0.95v0.95h-0.95zM202.05,462.56h0.95v0.95h-0.95zM207.44,458.77h0.95v0.95h-0.95zM207.01,460h0.95v0.95h-0.95zM205.44,460.36h0.95v0.95h-0.95zM205.02,456.09h0.95v0.95h-0.95zM204.39,460.5h0.95v0.95h-0.95zM203.18,463.49h0.95v0.95h-0.95zM200.64,462.28h0.95v0.95h-0.95zM210.69,454.05h0.95v0.95h-0.95zM207.01,460.98h0.95v0.95h-0.95zM208.13,459.5h0.95v0.95h-0.95zM211.13,454.95h0.95v0.95h-0.95z" fill="#666"/>
<path d="M186.74,468.41h0.95v0.95h-0.95zM198.44,472.55h0.95v0.95h-0.95zM197.93,461.27h0.95v0.95h-0.95zM195.59,462.01h0.95v0.95h-0.95zM189.13,467.46h0.95v0.95h-0.95zM189.75,467.08h0.95v0.95h-0.95zM181.22,483.58h0.95v0.95h-0.95zM203.33,462.31h0.95v0.95h-0.95zM202.68,463.59h0.95v0.95h-0.95zM175.45,481.57h0.95v0.95h-0.95zM178.54,474.84h0.95v0.95h-0.95zM190.02,480.57h0.95v0.95h-0.95zM193.88,482.91h0.95v0.95h-0.95zM202.3,460.7h0.95v0.95h-0.95zM200.54,470.6h0.95v0.95h-0.95zM182.58,471.32h0.95v0.95h-0.95zM173.83,481.33h0.95v0.95h-0.95zM173.1,478.79h0.95v0.95h-0.95zM176.21,484.1h0.95v0.95h-0.95zM182.28,471.05h0.95v0.95h-0.95zM175.65,482.8h0.95v0.95h-0.95zM202.71,463.06h0.95v0.95h-0.95zM201.61,470.84h0.95v0.95h-0.95zM187.74,480.8h0.95v0.95h-0.95zM184.26,484.68h0.95v0.95h-0.95zM201.49,469.71h0.95v0.95h-0.95zM195.59,462.7h0.95v0.95h-0.95zM176.14,482.75h0.95v0.95h-0.95zM183.35,471.36h0.95v0.95h-0.95zM197.55,474.02h0.95v0.95h-0.95zM202.38,467.17h0.95v0.95h-0.95zM176.4,483.63h0.95v0.95h-0.95zM174.06,479.47h0.95v0.95h-0.95zM183.23,471.31h0.95v0.95h-0.95zM191.88,477.27h0.95v0.95h-0.95zM201.89,461.47h0.95v0.95h-0.95zM196.57,459.18h0.95v0.95h-0.95zM181.1,484.68h0.95v0.95h-0.95zM178.83,474.62h0.95v0.95h-0.95zM180.19,473.99h0.95v0.95h-0.95zM186.69,468.89h0.95v0.95h-0.95zM188.08,466.97h0.95v0.95h-0.95zM177.18,475.71h0.95v0.95h-0.95zM182.93,470.89h0.95v0.95h-0.95zM196.78,477.13h0.95v0.95h-0.95zM193.81,463.37h0.95v0.95h-0.95zM178.27,475.02h0.95v0.95h-0.95zM197.03,458.43h0.95v0.95h-0.95zM188.68,481.28h0.95v0.95h-0.95zM181.5,472.08h0.95v0.95h-0.95zM202.84,460.57h0.95v0.95h-0.95zM189.11,479.67h0.95v0.95h-0.95zM191.36,465.34h0.95v0.95h-0.95zM198.37,473.06h0.95v0.95h-0.95zM200.85,459.29h0.95v0.95h-0.95zM195.39,462.51h0.95v0.95h-0.95zM202.45,471.4h0.95v0.95h-0.95zM182.82,471.87h0.95v0.95h-0.95zM186.48,481.15h0.95v0.95h-0.95zM200.83,461.59h0.95v0.95h-0.95zM184.37,483.85h0.95v0.95h-0.95zM203.33,463.14h0.95v0.95h-0.95zM185.73,482.24h0.95v0.95h-0.95zM196.13,478.57h0.95v0.95h-0.95zM198.07,472.93h0.95v0.95h-0.95zM175.2,477.82h0.95v0.95h-0.95zM179.21,483.99h0.95v0.95h-0.95zM195,461.9h0.95v0.95h-0.95zM174.94,476.32h0.95v0.95h-0.95zM184.51,482.54h0.95v0.95h-0.95zM179.66,473.05h0.95v0.95h-0.95zM177.5,483.98h0.95v0.95h-0.95zM174.41,477.11h0.95v0.95h-0.95zM175.73,484.39h0.95v0.95h-0.95zM192.72,464.56h0.95v0.95h-0.95zM187.68,480.27h0.95v0.95h-0.95zM175.01,478.69h0.95v0.95h-0.95zM202.13,471.55h0.95v0.95h-0.95zM198.58,473.53h0.95v0.95h-0.95zM199.25,461.17h0.95v0.95h-0.95zM175.09,480.53h0.95v0.95h-0.95zM175.88,477.06h0.95v0.95h-0.95zM197.18,475.34h0.95v0.95h-0.95zM195.18,476.14h0.95v0.95h-0.95zM198.25,474.41h0.95v0.95h-0.95zM194.21,464.45h0.95v0.95h-0.95zM198.48,473.62h0.95v0.95h-0.95zM189.83,463.21h0.95v0.95h-0.95zM198.56,472.75h0.95v0.95h-0.95zM184.36,482.29h0.95v0.95h-0.95zM202.53,463.18h0.95v0.95h-0.95zM180.38,472.51h0.95v0.95h-0.95zM196.63,474.33h0.95v0.95h-0.95zM201.26,460.75h0.95v0.95h-0.95zM201.64,470.58h0.95v0.95h-0.95zM175.96,484.9h0.95v0.95h-0.95zM175.97,484.93h0.95v0.95h-0.95zM191.76,477.79h0.95v0.95h-0.95zM203.82,466.76h0.95v0.95h-0.95zM173.06,478.21h0.95v0.95h-0.95zM203.16,463.67h0.95v0.95h-0.95zM184.5,469.95h0.95v0.95h-0.95zM175.9,474.72h0.95v0.95h-0.95zM203.75,466.35h0.95v0.95h-0.95zM196.85,460.15h0.95v0.95h-0.95zM174.32,478.4h0.95v0.95h-0.95zM174.4,479.94h0.95v0.95h-0.95zM195.02,461h0.95v0.95h-0.95zM168.82,477.18h0.95v0.95h-0.95zM204.92,466.59h0.95v0.95h-0.95zM175.79,483.77h0.95v0.95h-0.95zM198.44,473.79h0.95v0.95h-0.95zM196.31,459.25h0.95v0.95h-0.95zM174.71,478.74h0.95v0.95h-0.95zM194.55,476.37h0.95v0.95h-0.95zM181.41,471.18h0.95v0.95h-0.95zM201.42,470.33h0.95v0.95h-0.95zM181.37,483.33h0.95v0.95h-0.95zM203.48,464.42h0.95v0.95h-0.95zM190.68,478.45h0.95v0.95h-0.95zM189.49,466.88h0.95v0.95h-0.95zM201.45,473.35h0.95v0.95h-0.95zM196.48,457.18h0.95v0.95h-0.95zM202.68,464.71h0.95v0.95h-0.95zM191.52,465.24h0.95v0.95h-0.95zM184.85,481.19h0.95v0.95h-0.95zM190.25,478.79h0.95v0.95h-0.95zM186.21,480.8h0.95v0.95h-0.95zM178.49,474.41h0.95v0.95h-0.95zM195.88,476.07h0.95v0.95h-0.95zM178.28,484.04h0.95v0.95h-0.95zM177.05,475.36h0.95v0.95h-0.95zM203.09,470.16h0.95v0.95h-0.95zM205.08,464.04h0.95v0.95h-0.95zM176.58,484.29h0.95v0.95h-0.95zM180.5,484.71h0.95v0.95h-0.95zM186.34,481.58h0.95v0.95h-0.95zM203.71,463.84h0.95v0.95h-0.95zM194.71,477.27h0.95v0.95h-0.95zM202.8,467.31h0.95v0.95h-0.95zM190.16,479.2h0.95v0.95h-0.95zM174.93,482.02h0.95v0.95h-0.95zM191.15,479.94h0.95v0.95h-0.95zM174.73,475.78h0.95v0.95h-0.95zM181.11,483.4h0.95v0.95h-0.95zM202.47,467.45h0.95v0.95h-0.95zM202.09,471.14h0.95v0.95h-0.95zM174.57,478.69h0.95v0.95h-0.95zM182.62,483.03h0.95v0.95h-0.95zM189.81,467.54h0.95v0.95h-0.95zM181.5,483.67h0.95v0.95h-0.95zM197.77,473.7h0.95v0.95h-0.95zM183.7,470.05h0.95v0.95h-0.95zM183.41,470.06h0.95v0.95h-0.95zM185.9,482.55h0.95v0.95h-0.95zM198.84,473.58h0.95v0.95h-0.95zM191.27,465.31h0.95v0.95h-0.95zM185.1,480.86h0.95v0.95h-0.95zM185.45,470.11h0.95v0.95h-0.95zM186.87,466.1h0.95v0.95h-0.95zM191.15,466.69h0.95v0.95h-0.95zM178.35,485.36h0.95v0.95h-0.95zM183.56,483.66h0.95v0.95h-0.95zM202.09,458.39h0.95v0.95h-0.95zM172.55,472.73h0.95v0.95h-0.95zM178.38,484.86h0.95v0.95h-0.95zM174.66,481.88h0.95v0.95h-0.95zM183.86,484.26h0.95v0.95h-0.95zM196.88,479.03h0.95v0.95h-0.95zM186.36,483.01h0.95v0.95h-0.95zM175.79,483h0.95v0.95h-0.95zM204.04,463.19h0.95v0.95h-0.95zM172.41,477.96h0.95v0.95h-0.95zM193.51,462.54h0.95v0.95h-0.95zM192.99,463.81h0.95v0.95h-0.95zM192.59,463.15h0.95v0.95h-0.95zM195.28,461.82h0.95v0.95h-0.95zM201.78,461.53h0.95v0.95h-0.95zM195.54,475.84h0.95v0.95h-0.95zM202.33,470.41h0.95v0.95h-0.95zM192.31,478.35h0.95v0.95h-0.95zM180.37,473.68h0.95v0.95h-0.95zM171.84,484.01h0.95v0.95h-0.95zM183.99,482.69h0.95v0.95h-0.95zM198.56,473.56h0.95v0.95h-0.95zM186.57,480.37h0.95v0.95h-0.95zM187.53,461.08h0.95v0.95h-0.95zM194.52,475.72h0.95v0.95h-0.95zM196.62,475.37h0.95v0.95h-0.95zM203.72,465.06h0.95v0.95h-0.95zM183.28,470.87h0.95v0.95h-0.95zM201.5,461.65h0.95v0.95h-0.95zM193.89,463.24h0.95v0.95h-0.95zM203.77,466.12h0.95v0.95h-0.95zM185.83,483.14h0.95v0.95h-0.95z" fill="#111"/>
<path d="M192.18,471.5h0.95v0.95h-0.95zM186.16,477.8h0.95v0.95h-0.95zM181.32,483.12h0.95v0.95h-0.95zM191.76,476.46h0.95v0.95h-0.95zM189.77,476.47h0.95v0.95h-0.95zM188.8,476.49h0.95v0.95h-0.95zM181.64,481.05h0.95v0.95h-0.95zM190.73,467.57h0.95v0.95h-0.95zM182.91,480.01h0.95v0.95h-0.95zM199.08,470.15h0.95v0.95h-0.95zM182.08,473.18h0.95v0.95h-0.95zM197.88,471.23h0.95v0.95h-0.95zM189.25,470.21h0.95v0.95h-0.95zM202.16,466.88h0.95v0.95h-0.95zM194.97,469.15h0.95v0.95h-0.95zM183.67,477.46h0.95v0.95h-0.95zM191.25,477.66h0.95v0.95h-0.95zM196.72,462.66h0.95v0.95h-0.95zM177.18,482.19h0.95v0.95h-0.95zM194.86,467.62h0.95v0.95h-0.95zM190.34,476.87h0.95v0.95h-0.95zM192.68,476.51h0.95v0.95h-0.95zM176.22,477.8h0.95v0.95h-0.95zM184.33,476.31h0.95v0.95h-0.95zM181.21,482.69h0.95v0.95h-0.95zM192.19,475.51h0.95v0.95h-0.95zM189.6,478.06h0.95v0.95h-0.95zM181.3,474.95h0.95v0.95h-0.95zM190.93,474.5h0.95v0.95h-0.95zM177,479.34h0.95v0.95h-0.95zM201.69,468.05h0.95v0.95h-0.95zM183.31,472.21h0.95v0.95h-0.95zM198.51,464.11h0.95v0.95h-0.95zM195.6,471.85h0.95v0.95h-0.95zM181.41,476.04h0.95v0.95h-0.95zM176.52,479.28h0.95v0.95h-0.95zM188.51,470.38h0.95v0.95h-0.95zM194.42,467.16h0.95v0.95h-0.95zM192.14,469.65h0.95v0.95h-0.95zM187.04,477.25h0.95v0.95h-0.95zM188.18,468.91h0.95v0.95h-0.95zM188.93,475.87h0.95v0.95h-0.95zM185.39,477.11h0.95v0.95h-0.95zM191.66,472.71h0.95v0.95h-0.95zM177.11,482.36h0.95v0.95h-0.95zM184.71,475.85h0.95v0.95h-0.95zM201.36,465.76h0.95v0.95h-0.95zM200.36,466.97h0.95v0.95h-0.95zM184.49,478.41h0.95v0.95h-0.95zM177.23,476.51h0.95v0.95h-0.95zM199.71,468.71h0.95v0.95h-0.95zM195.75,473.28h0.95v0.95h-0.95zM201.34,467.75h0.95v0.95h-0.95zM179.07,480.23h0.95v0.95h-0.95zM188.65,478.06h0.95v0.95h-0.95zM180.33,476.66h0.95v0.95h-0.95zM189.62,473.7h0.95v0.95h-0.95zM188.97,478.74h0.95v0.95h-0.95zM175.74,479.57h0.95v0.95h-0.95zM177.84,482.17h0.95v0.95h-0.95zM200.93,462.31h0.95v0.95h-0.95zM201.75,466.66h0.95v0.95h-0.95zM187.18,471.66h0.95v0.95h-0.95zM198.82,464.13h0.95v0.95h-0.95zM184.77,474.77h0.95v0.95h-0.95zM186.85,470.8h0.95v0.95h-0.95zM191.36,474.06h0.95v0.95h-0.95zM195.24,467.65h0.95v0.95h-0.95zM175.11,479.75h0.95v0.95h-0.95zM179.01,478.37h0.95v0.95h-0.95zM195.12,466.04h0.95v0.95h-0.95zM198.84,465.8h0.95v0.95h-0.95zM196.11,472.4h0.95v0.95h-0.95zM188.86,469.18h0.95v0.95h-0.95zM200.81,465.05h0.95v0.95h-0.95zM185.54,473.81h0.95v0.95h-0.95zM192.71,468.83h0.95v0.95h-0.95zM176.47,477.64h0.95v0.95h-0.95zM185.97,477.3h0.95v0.95h-0.95zM196.14,469.04h0.95v0.95h-0.95zM181.26,482.08h0.95v0.95h-0.95zM181.34,474.25h0.95v0.95h-0.95zM182.63,481.23h0.95v0.95h-0.95zM193.25,473.13h0.95v0.95h-0.95zM187.21,477.24h0.95v0.95h-0.95zM199.81,470.86h0.95v0.95h-0.95zM198.99,467.85h0.95v0.95h-0.95zM201.82,464.44h0.95v0.95h-0.95zM193.3,465.1h0.95v0.95h-0.95zM188.65,469.67h0.95v0.95h-0.95zM190.72,474.99h0.95v0.95h-0.95zM194.92,469.15h0.95v0.95h-0.95zM187.79,470.8h0.95v0.95h-0.95zM185.78,477.1h0.95v0.95h-0.95zM186.85,472.6h0.95v0.95h-0.95zM177.56,481.49h0.95v0.95h-0.95zM176.16,483.01h0.95v0.95h-0.95zM190.17,468.96h0.95v0.95h-0.95zM175.89,477.68h0.95v0.95h-0.95zM186.23,472.64h0.95v0.95h-0.95zM178.38,480.81h0.95v0.95h-0.95zM179.07,481.66h0.95v0.95h-0.95zM176.78,478.48h0.95v0.95h-0.95zM178.6,479.23h0.95v0.95h-0.95zM191.45,474.69h0.95v0.95h-0.95zM198.83,463.48h0.95v0.95h-0.95zM195.18,474.29h0.95v0.95h-0.95zM184.1,471.4h0.95v0.95h-0.95zM192.04,474.61h0.95v0.95h-0.95zM178.1,478.64h0.95v0.95h-0.95zM182.66,474.9h0.95v0.95h-0.95zM183.86,475.14h0.95v0.95h-0.95zM190.41,474.18h0.95v0.95h-0.95zM182.61,481.87h0.95v0.95h-0.95zM182.5,479.94h0.95v0.95h-0.95zM193.04,472.71h0.95v0.95h-0.95zM191.07,469.54h0.95v0.95h-0.95zM180.57,478.7h0.95v0.95h-0.95zM181.67,482.93h0.95v0.95h-0.95zM179.77,475.46h0.95v0.95h-0.95zM183.91,471.67h0.95v0.95h-0.95zM190.11,473.55h0.95v0.95h-0.95z" fill="#111"/>
<polygon points="175.7,479.76 176.65,477.54 178.56,475.95 181.1,474.04 183.65,472.13 186.82,469.91 189.37,468.32 191.91,466.41 194.45,464.82 197,463.87 198.9,464.5 199.54,467.05 198.9,470.23 196.36,472.77 193.82,474.99 190.64,477.22 187.46,479.13 184.28,481.03 181.1,482.62 178.56,483.26 176.65,482.31" fill="#000"/>
<path d="M173.29,497.3v1.3M176.67,497.3v1.3M179.07,497.3v1.3M180.94,497.3v1.3M182.46,497.3v1.3M183.75,497.3v1.3M184.86,497.3v1.3M185.85,497.3v1.3M167.5,491.44h-1.3M167.5,488.01h-1.3M167.5,485.57h-1.3M167.5,483.69h-1.3M167.5,482.15h-1.3M167.5,480.84h-1.3M167.5,479.71h-1.3M167.5,478.72h-1.3M192.51,497.3v1.3M195.9,497.3v1.3M198.3,497.3v1.3M200.16,497.3v1.3M201.68,497.3v1.3M202.97,497.3v1.3M204.09,497.3v1.3M205.07,497.3v1.3M167.5,471.96h-1.3M167.5,468.53h-1.3M167.5,466.1h-1.3M167.5,464.21h-1.3M167.5,462.67h-1.3M167.5,461.37h-1.3M167.5,460.24h-1.3M167.5,459.24h-1.3M211.74,497.3v1.3M215.12,497.3v1.3M217.52,497.3v1.3M219.39,497.3v1.3M220.91,497.3v1.3M222.2,497.3v1.3M223.31,497.3v1.3M224.3,497.3v1.3M167.5,452.49h-1.3M167.5,449.06h-1.3M167.5,446.62h-1.3M167.5,444.74h-1.3M167.5,443.2h-1.3M167.5,441.89h-1.3M167.5,440.76h-1.3M167.5,439.77h-1.3M230.96,497.3v1.3M234.35,497.3v1.3M236.75,497.3v1.3M238.61,497.3v1.3M240.13,497.3v1.3M241.42,497.3v1.3M242.54,497.3v1.3M243.52,497.3v1.3M167.5,433.01h-1.3M167.5,429.58h-1.3M167.5,427.15h-1.3M167.5,425.26h-1.3M167.5,423.72h-1.3M167.5,422.42h-1.3M167.5,421.29h-1.3M167.5,420.29h-1.3M167.5,497.3v2M167.5,497.3h-2M186.72,497.3v2M167.5,477.82h-2M205.95,497.3v2M167.5,458.35h-2M225.18,497.3v2M167.5,438.88h-2M244.4,497.3v2M167.5,419.4h-2" stroke="#222" stroke-width="0.7" fill="none"/>
<line x1="167.5" y1="419.4" x2="244.4" y2="419.4" stroke="#555" stroke-width="0.9"/>
<line x1="244.4" y1="418.95" x2="244.4" y2="497.3" stroke="#333" stroke-width="1.4"/>
<line x1="167.5" y1="419" x2="167.5" y2="497.9" stroke="#111" stroke-width="1.5"/>
<line x1="167.1" y1="497.3" x2="245" y2="497.3" stroke="#111" stroke-width="1.6"/>
<line x1="204.4" y1="419.4" x2="204.4" y2="497.3" stroke="#333" stroke-width="1"/>
<line x1="167.5" y1="458.1" x2="244.4" y2="458.1" stroke="#2a2a2a" stroke-width="1.1"/>
<text x="163.4" y="506.6" font-size="6.2" fill="#3a3a3a" textLength="7.9" lengthAdjust="spacingAndGlyphs">10<tspan dy="-2.4" font-size="4.4">0</tspan></text>
<text x="182.62" y="506.6" font-size="6.2" fill="#3a3a3a" textLength="7.9" lengthAdjust="spacingAndGlyphs">10<tspan dy="-2.4" font-size="4.4">1</tspan></text>
<text x="201.85" y="506.6" font-size="6.2" fill="#3a3a3a" textLength="7.9" lengthAdjust="spacingAndGlyphs">10<tspan dy="-2.4" font-size="4.4">2</tspan></text>
<text x="221.08" y="506.6" font-size="6.2" fill="#3a3a3a" textLength="7.9" lengthAdjust="spacingAndGlyphs">10<tspan dy="-2.4" font-size="4.4">3</tspan></text>
<text x="240.3" y="506.6" font-size="6.2" fill="#3a3a3a" textLength="7.9" lengthAdjust="spacingAndGlyphs">10<tspan dy="-2.4" font-size="4.4">4</tspan></text>
<text transform="translate(163.6,502.2) rotate(-90)" font-size="6.8" fill="#3a3a3a" textLength="8.6" lengthAdjust="spacingAndGlyphs">10<tspan dy="-2.6" font-size="4.8">0</tspan></text>
<text transform="translate(163.6,482.72) rotate(-90)" font-size="6.8" fill="#3a3a3a" textLength="8.6" lengthAdjust="spacingAndGlyphs">10<tspan dy="-2.6" font-size="4.8">1</tspan></text>
<text transform="translate(163.6,463.25) rotate(-90)" font-size="6.8" fill="#3a3a3a" textLength="8.6" lengthAdjust="spacingAndGlyphs">10<tspan dy="-2.6" font-size="4.8">2</tspan></text>
<text transform="translate(163.6,443.77) rotate(-90)" font-size="6.8" fill="#3a3a3a" textLength="8.6" lengthAdjust="spacingAndGlyphs">10<tspan dy="-2.6" font-size="4.8">3</tspan></text>
<text transform="translate(163.6,423.2) rotate(-90)" font-size="6.8" fill="#3a3a3a" textLength="5.8" lengthAdjust="spacingAndGlyphs">10</text>
<text x="194.7" y="414" font-size="9" textLength="21.2" lengthAdjust="spacingAndGlyphs" fill="#151515">IACS</text>
<text x="217.1" y="434" font-size="10.4" textLength="22.9" lengthAdjust="spacingAndGlyphs" fill="#1a1a1a">4.1%</text>
<text x="217.6" y="487.9" font-size="10.4" textLength="22.4" lengthAdjust="spacingAndGlyphs" fill="#1a1a1a">1.3%</text>
<path d="M355.28,448.04h0.95v0.95h-0.95zM336.01,433.94h0.95v0.95h-0.95zM346.41,433h0.95v0.95h-0.95zM355.3,441.23h0.95v0.95h-0.95zM346.92,434.94h0.95v0.95h-0.95zM348.5,451.67h0.95v0.95h-0.95zM340.05,440.83h0.95v0.95h-0.95zM345.3,438.89h0.95v0.95h-0.95zM356.12,447.61h0.95v0.95h-0.95zM350.74,437.32h0.95v0.95h-0.95zM341.82,437.03h0.95v0.95h-0.95zM356.42,430.46h0.95v0.95h-0.95zM349.94,428.91h0.95v0.95h-0.95zM346.75,429.67h0.95v0.95h-0.95zM356.9,449.59h0.95v0.95h-0.95zM335.65,450.93h0.95v0.95h-0.95zM347.95,441.59h0.95v0.95h-0.95zM353.46,434.49h0.95v0.95h-0.95zM336.36,454.52h0.95v0.95h-0.95zM339.49,443.74h0.95v0.95h-0.95zM340.1,448.13h0.95v0.95h-0.95zM337.77,455.12h0.95v0.95h-0.95zM338.81,427.92h0.95v0.95h-0.95zM335.01,451.09h0.95v0.95h-0.95zM340.46,425.45h0.95v0.95h-0.95zM342.39,453.3h0.95v0.95h-0.95zM350.97,455.95h0.95v0.95h-0.95zM345.13,429.81h0.95v0.95h-0.95zM354.78,433.3h0.95v0.95h-0.95zM338.67,451.66h0.95v0.95h-0.95zM351.44,432.94h0.95v0.95h-0.95zM340.58,425.71h0.95v0.95h-0.95zM342.33,444.49h0.95v0.95h-0.95zM344.13,428h0.95v0.95h-0.95zM335.31,451.47h0.95v0.95h-0.95zM338.07,430.75h0.95v0.95h-0.95zM343.17,434.27h0.95v0.95h-0.95zM339.66,454.38h0.95v0.95h-0.95zM351.12,433.6h0.95v0.95h-0.95zM342.33,432.98h0.95v0.95h-0.95zM348.63,433.15h0.95v0.95h-0.95zM354.45,439.76h0.95v0.95h-0.95zM339.08,453.67h0.95v0.95h-0.95zM355.82,453.9h0.95v0.95h-0.95zM354.87,442.24h0.95v0.95h-0.95zM356.3,425.94h0.95v0.95h-0.95zM353.91,445.66h0.95v0.95h-0.95zM347.65,428.43h0.95v0.95h-0.95zM337.8,456.35h0.95v0.95h-0.95zM355.65,438.58h0.95v0.95h-0.95zM338.74,453.22h0.95v0.95h-0.95zM347.56,438.95h0.95v0.95h-0.95zM335.06,447.45h0.95v0.95h-0.95zM335.09,425.27h0.95v0.95h-0.95zM345.47,425.98h0.95v0.95h-0.95zM352.08,437.28h0.95v0.95h-0.95zM337.09,452.88h0.95v0.95h-0.95zM335.05,444.88h0.95v0.95h-0.95zM355.32,441.72h0.95v0.95h-0.95zM351.03,429.24h0.95v0.95h-0.95zM351.46,443.13h0.95v0.95h-0.95zM356.08,427.77h0.95v0.95h-0.95zM343.97,432.7h0.95v0.95h-0.95zM349.88,426.15h0.95v0.95h-0.95zM354.39,439.92h0.95v0.95h-0.95zM342.26,455.87h0.95v0.95h-0.95zM336.89,432.8h0.95v0.95h-0.95zM352.11,451.43h0.95v0.95h-0.95zM338.21,432.87h0.95v0.95h-0.95zM340.76,438.03h0.95v0.95h-0.95zM347.41,450.6h0.95v0.95h-0.95zM356.3,450.9h0.95v0.95h-0.95zM342.16,428.75h0.95v0.95h-0.95zM344.93,446.38h0.95v0.95h-0.95zM344.87,454.41h0.95v0.95h-0.95zM355.94,440.11h0.95v0.95h-0.95zM348.45,456.21h0.95v0.95h-0.95zM350.33,436.47h0.95v0.95h-0.95zM352.73,433.89h0.95v0.95h-0.95zM345.18,446.48h0.95v0.95h-0.95zM340.66,449.65h0.95v0.95h-0.95zM348.65,430.13h0.95v0.95h-0.95zM349.67,426.77h0.95v0.95h-0.95zM346.56,440.37h0.95v0.95h-0.95zM352.49,451.69h0.95v0.95h-0.95zM352.85,452.95h0.95v0.95h-0.95zM341.12,439.3h0.95v0.95h-0.95zM352.38,427.72h0.95v0.95h-0.95zM338.17,441.66h0.95v0.95h-0.95zM347.73,428.01h0.95v0.95h-0.95zM336.19,462.52h0.95v0.95h-0.95zM339.68,457.79h0.95v0.95h-0.95zM339.42,458.29h0.95v0.95h-0.95zM342.36,455.02h0.95v0.95h-0.95zM336.21,460.92h0.95v0.95h-0.95zM337.5,455.43h0.95v0.95h-0.95zM334.95,457.58h0.95v0.95h-0.95zM336.31,458.59h0.95v0.95h-0.95zM342.93,455.34h0.95v0.95h-0.95zM342.05,456.58h0.95v0.95h-0.95zM334.45,458.81h0.95v0.95h-0.95zM339.56,457.55h0.95v0.95h-0.95zM338.08,457.84h0.95v0.95h-0.95zM336.22,457.76h0.95v0.95h-0.95zM335.07,459.36h0.95v0.95h-0.95zM339.63,458.1h0.95v0.95h-0.95zM337.23,460.03h0.95v0.95h-0.95zM334.65,459.39h0.95v0.95h-0.95zM338.61,454.61h0.95v0.95h-0.95zM342.13,456.7h0.95v0.95h-0.95zM339.97,454.63h0.95v0.95h-0.95zM336.58,458.42h0.95v0.95h-0.95zM342.9,455.01h0.95v0.95h-0.95zM340.04,456.29h0.95v0.95h-0.95zM333.77,459.96h0.95v0.95h-0.95z" fill="#555"/>
<path d="M353.13,431.21h0.95v0.95h-0.95zM353.96,432.81h0.95v0.95h-0.95zM345.49,429.53h0.95v0.95h-0.95zM341.38,426.41h0.95v0.95h-0.95zM350.57,430.94h0.95v0.95h-0.95zM342.63,431.93h0.95v0.95h-0.95zM348.42,430.95h0.95v0.95h-0.95zM343.86,426.95h0.95v0.95h-0.95zM346.06,430.79h0.95v0.95h-0.95zM344.49,431.88h0.95v0.95h-0.95zM343.97,432.64h0.95v0.95h-0.95zM350.68,428.3h0.95v0.95h-0.95zM354.96,432.57h0.95v0.95h-0.95zM348.62,429.34h0.95v0.95h-0.95zM344.35,432.03h0.95v0.95h-0.95zM341.5,427.42h0.95v0.95h-0.95zM343.17,427.79h0.95v0.95h-0.95zM347.03,425.19h0.95v0.95h-0.95zM345.87,426.22h0.95v0.95h-0.95zM347.65,425.12h0.95v0.95h-0.95zM344.6,426.09h0.95v0.95h-0.95zM343.79,430.58h0.95v0.95h-0.95zM351.38,430.97h0.95v0.95h-0.95zM348.6,428.93h0.95v0.95h-0.95zM348.34,426.47h0.95v0.95h-0.95zM343.54,428.22h0.95v0.95h-0.95zM346.78,426.9h0.95v0.95h-0.95zM354.91,424.66h0.95v0.95h-0.95zM342.28,427.81h0.95v0.95h-0.95zM351.54,429.78h0.95v0.95h-0.95zM349.18,425.72h0.95v0.95h-0.95zM345.5,425.7h0.95v0.95h-0.95zM343.24,426.62h0.95v0.95h-0.95zM350.94,425.6h0.95v0.95h-0.95zM343.78,428.99h0.95v0.95h-0.95zM344.51,425.34h0.95v0.95h-0.95zM341.59,427.41h0.95v0.95h-0.95zM343.49,424.71h0.95v0.95h-0.95zM352.02,423.34h0.95v0.95h-0.95zM352.14,432.33h0.95v0.95h-0.95zM344.81,423.89h0.95v0.95h-0.95zM346.88,432.31h0.95v0.95h-0.95zM350.16,425.8h0.95v0.95h-0.95zM350.66,426.86h0.95v0.95h-0.95zM343.9,428.37h0.95v0.95h-0.95zM349.58,424.39h0.95v0.95h-0.95zM352.14,429.74h0.95v0.95h-0.95zM346.68,430.97h0.95v0.95h-0.95zM349.38,425.45h0.95v0.95h-0.95zM351.39,432.67h0.95v0.95h-0.95zM352.6,427.4h0.95v0.95h-0.95zM343.6,427.84h0.95v0.95h-0.95zM348.61,430.55h0.95v0.95h-0.95zM351.41,428.45h0.95v0.95h-0.95zM343.48,427.59h0.95v0.95h-0.95zM351.24,430.27h0.95v0.95h-0.95zM344.06,425.24h0.95v0.95h-0.95zM346.01,426.74h0.95v0.95h-0.95zM345.23,430.19h0.95v0.95h-0.95zM346.35,427.88h0.95v0.95h-0.95z" fill="#333"/>
<path d="M323.59,425.74h0.95v0.95h-0.95zM327.45,424.27h0.95v0.95h-0.95zM318.77,426.25h0.95v0.95h-0.95zM329.63,427.42h0.95v0.95h-0.95zM327.13,424.33h0.95v0.95h-0.95zM321.16,423.23h0.95v0.95h-0.95zM319.22,425.25h0.95v0.95h-0.95zM318.95,426.61h0.95v0.95h-0.95zM329.55,423.56h0.95v0.95h-0.95zM331.33,423.31h0.95v0.95h-0.95zM321.18,424.42h0.95v0.95h-0.95zM315.38,424.66h0.95v0.95h-0.95zM330.9,423.82h0.95v0.95h-0.95zM327.86,426.08h0.95v0.95h-0.95zM321.6,425.36h0.95v0.95h-0.95zM331.82,423.77h0.95v0.95h-0.95zM332.78,422.05h0.95v0.95h-0.95zM322.61,425.39h0.95v0.95h-0.95zM328.39,423.76h0.95v0.95h-0.95zM316.76,422.09h0.95v0.95h-0.95zM332.04,427.58h0.95v0.95h-0.95zM323.28,425.42h0.95v0.95h-0.95zM332.86,427.04h0.95v0.95h-0.95zM331.82,422.22h0.95v0.95h-0.95zM328.95,427.93h0.95v0.95h-0.95zM326.69,426.04h0.95v0.95h-0.95zM330.07,428h0.95v0.95h-0.95zM321.19,427.67h0.95v0.95h-0.95zM315.95,424.01h0.95v0.95h-0.95zM318.88,423.76h0.95v0.95h-0.95zM329.17,434.22h0.95v0.95h-0.95zM323.75,448.53h0.95v0.95h-0.95zM302.76,454.18h0.95v0.95h-0.95zM320.32,450.26h0.95v0.95h-0.95zM310.64,453.12h0.95v0.95h-0.95zM314.45,446.75h0.95v0.95h-0.95zM325.09,443.86h0.95v0.95h-0.95zM318.76,442.89h0.95v0.95h-0.95zM325.39,432.89h0.95v0.95h-0.95zM321.37,450.58h0.95v0.95h-0.95zM309.52,431.29h0.95v0.95h-0.95zM331.7,443.2h0.95v0.95h-0.95zM308.69,436.58h0.95v0.95h-0.95zM302.73,448.83h0.95v0.95h-0.95zM307.51,430.77h0.95v0.95h-0.95zM320.84,433.55h0.95v0.95h-0.95zM330.59,442.63h0.95v0.95h-0.95zM311.45,449.39h0.95v0.95h-0.95zM312.46,454.37h0.95v0.95h-0.95zM330.39,453.1h0.95v0.95h-0.95zM320.07,444.63h0.95v0.95h-0.95zM307.16,436.02h0.95v0.95h-0.95z" fill="#888"/>
<path d="M318.85,482.76h0.95v0.95h-0.95zM311.56,480.32h0.95v0.95h-0.95zM339.15,464.7h0.95v0.95h-0.95zM323.67,463.71h0.95v0.95h-0.95zM317.42,471.83h0.95v0.95h-0.95zM328.67,474.32h0.95v0.95h-0.95zM332.45,457.81h0.95v0.95h-0.95zM315.87,474.61h0.95v0.95h-0.95zM331.86,471.21h0.95v0.95h-0.95zM309.83,475.33h0.95v0.95h-0.95zM330.58,459.66h0.95v0.95h-0.95zM324.46,479.02h0.95v0.95h-0.95zM336.73,461.88h0.95v0.95h-0.95zM333.79,458.91h0.95v0.95h-0.95zM332.99,473.75h0.95v0.95h-0.95zM334.11,459.35h0.95v0.95h-0.95zM312.66,483.74h0.95v0.95h-0.95zM312.15,484.03h0.95v0.95h-0.95zM316.3,483.03h0.95v0.95h-0.95zM332.5,473.05h0.95v0.95h-0.95zM311.4,480.11h0.95v0.95h-0.95zM311.25,482.59h0.95v0.95h-0.95zM319.67,481.38h0.95v0.95h-0.95zM344.53,455.3h0.95v0.95h-0.95zM332,460.45h0.95v0.95h-0.95zM319.12,470.94h0.95v0.95h-0.95zM334.01,459.19h0.95v0.95h-0.95zM310.96,477.9h0.95v0.95h-0.95zM316.84,482.49h0.95v0.95h-0.95zM333.35,471.29h0.95v0.95h-0.95zM337.15,458.14h0.95v0.95h-0.95zM324.41,478.28h0.95v0.95h-0.95zM333.14,471.06h0.95v0.95h-0.95zM313.13,484.04h0.95v0.95h-0.95zM315.48,474.89h0.95v0.95h-0.95zM332.97,459.34h0.95v0.95h-0.95zM315.59,474.25h0.95v0.95h-0.95zM312.48,483.83h0.95v0.95h-0.95zM314.69,475.71h0.95v0.95h-0.95zM336.91,468.97h0.95v0.95h-0.95zM317.97,483.02h0.95v0.95h-0.95zM332.64,471.94h0.95v0.95h-0.95zM311.63,478.68h0.95v0.95h-0.95zM318.35,482.37h0.95v0.95h-0.95zM322.7,467.4h0.95v0.95h-0.95zM322.98,466.22h0.95v0.95h-0.95zM336.37,459.52h0.95v0.95h-0.95zM312.34,484.69h0.95v0.95h-0.95zM329.04,473.97h0.95v0.95h-0.95zM328.32,462.74h0.95v0.95h-0.95zM317.34,472.13h0.95v0.95h-0.95zM328.15,477.87h0.95v0.95h-0.95zM315.77,485.02h0.95v0.95h-0.95zM314.81,473.61h0.95v0.95h-0.95zM334.89,467.92h0.95v0.95h-0.95zM312.57,484.3h0.95v0.95h-0.95zM310.57,481.46h0.95v0.95h-0.95zM324.65,461.09h0.95v0.95h-0.95zM337.74,467.29h0.95v0.95h-0.95zM318.62,469.95h0.95v0.95h-0.95zM323.59,466.73h0.95v0.95h-0.95zM330.79,473.43h0.95v0.95h-0.95zM325.23,480.17h0.95v0.95h-0.95zM312.43,478.91h0.95v0.95h-0.95zM322.71,466.64h0.95v0.95h-0.95zM330.79,459.23h0.95v0.95h-0.95zM328.93,475.18h0.95v0.95h-0.95zM310.48,482.73h0.95v0.95h-0.95zM327.07,462.89h0.95v0.95h-0.95zM334.36,458.44h0.95v0.95h-0.95zM312.96,477.49h0.95v0.95h-0.95zM329.26,476.59h0.95v0.95h-0.95zM317.32,481.89h0.95v0.95h-0.95zM307.6,484.49h0.95v0.95h-0.95zM323.61,478.65h0.95v0.95h-0.95zM326.74,462.7h0.95v0.95h-0.95zM334.83,469.14h0.95v0.95h-0.95zM331.52,460.94h0.95v0.95h-0.95zM324.66,477.84h0.95v0.95h-0.95zM316.25,474.15h0.95v0.95h-0.95zM321.54,479.84h0.95v0.95h-0.95zM325.13,463.32h0.95v0.95h-0.95zM314.83,482.76h0.95v0.95h-0.95zM310.58,482.83h0.95v0.95h-0.95zM311.74,483.09h0.95v0.95h-0.95zM311.09,480.56h0.95v0.95h-0.95zM323.92,465.41h0.95v0.95h-0.95zM327.4,463.27h0.95v0.95h-0.95zM321.66,466.23h0.95v0.95h-0.95zM322.92,479.73h0.95v0.95h-0.95zM323.27,478.86h0.95v0.95h-0.95zM327.56,462.37h0.95v0.95h-0.95zM334.86,459.15h0.95v0.95h-0.95zM329.68,461.82h0.95v0.95h-0.95zM314.62,474.72h0.95v0.95h-0.95zM316.04,463.33h0.95v0.95h-0.95zM333.55,470.45h0.95v0.95h-0.95zM334.85,469.83h0.95v0.95h-0.95zM325.59,484.26h0.95v0.95h-0.95zM337.3,458.51h0.95v0.95h-0.95zM314.73,471.62h0.95v0.95h-0.95zM323.22,479.64h0.95v0.95h-0.95zM318.64,483.86h0.95v0.95h-0.95zM313.01,483.05h0.95v0.95h-0.95zM323.97,466.36h0.95v0.95h-0.95zM324.41,465.93h0.95v0.95h-0.95zM333.62,457.85h0.95v0.95h-0.95zM312.7,473.6h0.95v0.95h-0.95zM321.03,469.07h0.95v0.95h-0.95zM333.01,471.51h0.95v0.95h-0.95zM322.06,464.76h0.95v0.95h-0.95zM319.68,469.93h0.95v0.95h-0.95zM329.46,473.87h0.95v0.95h-0.95zM312.2,477.41h0.95v0.95h-0.95zM310.63,480.73h0.95v0.95h-0.95zM319.54,470.26h0.95v0.95h-0.95zM322.77,466.81h0.95v0.95h-0.95zM314.1,486.51h0.95v0.95h-0.95zM335.12,459.18h0.95v0.95h-0.95zM320.67,481.15h0.95v0.95h-0.95zM319.59,469.69h0.95v0.95h-0.95zM319.02,470.59h0.95v0.95h-0.95zM332.39,471.05h0.95v0.95h-0.95zM333.33,458.44h0.95v0.95h-0.95zM311.34,483.49h0.95v0.95h-0.95zM316.29,472.95h0.95v0.95h-0.95zM310.91,480.49h0.95v0.95h-0.95zM331.71,472.18h0.95v0.95h-0.95zM333.65,455.34h0.95v0.95h-0.95zM310.93,475.71h0.95v0.95h-0.95zM320.19,480.18h0.95v0.95h-0.95zM332.65,458.77h0.95v0.95h-0.95zM326.3,458.41h0.95v0.95h-0.95zM311.79,483.76h0.95v0.95h-0.95zM335.68,468.3h0.95v0.95h-0.95zM313.81,473.67h0.95v0.95h-0.95zM332.78,457.83h0.95v0.95h-0.95zM321.22,479.91h0.95v0.95h-0.95zM320.78,469.38h0.95v0.95h-0.95zM330.82,455.59h0.95v0.95h-0.95zM320.11,480.93h0.95v0.95h-0.95zM327.57,459.5h0.95v0.95h-0.95zM328.21,459.59h0.95v0.95h-0.95zM312.34,478.44h0.95v0.95h-0.95zM324.58,464.93h0.95v0.95h-0.95zM316.23,472.45h0.95v0.95h-0.95zM312.46,475.49h0.95v0.95h-0.95zM311.52,478.06h0.95v0.95h-0.95zM328.3,462.04h0.95v0.95h-0.95zM335.47,458.63h0.95v0.95h-0.95zM314.75,474.87h0.95v0.95h-0.95zM315.79,472.6h0.95v0.95h-0.95zM310.34,481.56h0.95v0.95h-0.95zM336.06,465.38h0.95v0.95h-0.95zM311.8,477.66h0.95v0.95h-0.95zM325.79,476.38h0.95v0.95h-0.95zM329.37,475.68h0.95v0.95h-0.95zM312.28,484.1h0.95v0.95h-0.95zM321.88,479.81h0.95v0.95h-0.95zM322.27,465.21h0.95v0.95h-0.95zM316.12,472.14h0.95v0.95h-0.95zM327.87,462.02h0.95v0.95h-0.95zM330.09,460.95h0.95v0.95h-0.95zM306.99,485.36h0.95v0.95h-0.95zM331.6,473.11h0.95v0.95h-0.95zM311.97,477.56h0.95v0.95h-0.95zM324.18,465.3h0.95v0.95h-0.95zM320.72,481.28h0.95v0.95h-0.95zM321.56,467.01h0.95v0.95h-0.95zM327.74,461.71h0.95v0.95h-0.95zM311.17,484.13h0.95v0.95h-0.95zM324.59,478.85h0.95v0.95h-0.95zM323.63,466h0.95v0.95h-0.95zM336.02,468.58h0.95v0.95h-0.95zM324.38,478.57h0.95v0.95h-0.95zM333.57,470.36h0.95v0.95h-0.95zM330.55,476.83h0.95v0.95h-0.95zM312.84,477.18h0.95v0.95h-0.95zM331.35,474.25h0.95v0.95h-0.95zM336.47,460.97h0.95v0.95h-0.95zM327.11,460.24h0.95v0.95h-0.95zM315.67,483.59h0.95v0.95h-0.95zM332.32,458.01h0.95v0.95h-0.95zM315.66,483.73h0.95v0.95h-0.95zM328.62,482.6h0.95v0.95h-0.95zM328.31,462.53h0.95v0.95h-0.95zM312.86,477.12h0.95v0.95h-0.95zM324.64,464.13h0.95v0.95h-0.95zM313.11,476.4h0.95v0.95h-0.95zM311.8,479.51h0.95v0.95h-0.95zM328.91,458.27h0.95v0.95h-0.95zM337.21,466.82h0.95v0.95h-0.95zM309.31,475.92h0.95v0.95h-0.95zM327.88,475.87h0.95v0.95h-0.95zM319.49,466.41h0.95v0.95h-0.95z" fill="#111"/>
<path d="M325.87,474.27h0.95v0.95h-0.95zM317.38,476.41h0.95v0.95h-0.95zM321.57,476.2h0.95v0.95h-0.95zM334.8,459.21h0.95v0.95h-0.95zM329.66,467.59h0.95v0.95h-0.95zM335.01,466.09h0.95v0.95h-0.95zM320.51,479.25h0.95v0.95h-0.95zM327.98,469.92h0.95v0.95h-0.95zM327.64,473.09h0.95v0.95h-0.95zM324.3,468.79h0.95v0.95h-0.95zM318.37,477.58h0.95v0.95h-0.95zM332.98,462.33h0.95v0.95h-0.95zM332.87,464.98h0.95v0.95h-0.95zM313.34,482.8h0.95v0.95h-0.95zM325.66,474.72h0.95v0.95h-0.95zM325.6,466.62h0.95v0.95h-0.95zM319.64,480.49h0.95v0.95h-0.95zM323.04,475.09h0.95v0.95h-0.95zM317.25,473.49h0.95v0.95h-0.95zM324.9,476.16h0.95v0.95h-0.95zM315.97,479.36h0.95v0.95h-0.95zM328.08,466.37h0.95v0.95h-0.95zM317.93,481.34h0.95v0.95h-0.95zM323.14,475.68h0.95v0.95h-0.95zM321.17,471.95h0.95v0.95h-0.95zM321.42,477.39h0.95v0.95h-0.95zM327.39,470.72h0.95v0.95h-0.95zM330.27,467.74h0.95v0.95h-0.95zM324.08,468.83h0.95v0.95h-0.95zM316.63,480.59h0.95v0.95h-0.95zM325.16,476.26h0.95v0.95h-0.95zM327.51,466.65h0.95v0.95h-0.95zM331.29,468.34h0.95v0.95h-0.95zM333.29,460.47h0.95v0.95h-0.95zM322.14,476.06h0.95v0.95h-0.95zM316.93,480.06h0.95v0.95h-0.95zM320.4,470.85h0.95v0.95h-0.95zM318.97,478.86h0.95v0.95h-0.95zM318.52,473.38h0.95v0.95h-0.95zM315.75,481.51h0.95v0.95h-0.95zM324.06,473.62h0.95v0.95h-0.95zM323.4,476.62h0.95v0.95h-0.95zM323,473.27h0.95v0.95h-0.95zM334.11,460.76h0.95v0.95h-0.95zM320.58,474.58h0.95v0.95h-0.95zM319.45,478.69h0.95v0.95h-0.95zM319.11,474.34h0.95v0.95h-0.95zM324.92,476.78h0.95v0.95h-0.95zM335.24,464.66h0.95v0.95h-0.95zM312.93,480.23h0.95v0.95h-0.95zM329.74,467.99h0.95v0.95h-0.95zM331.32,466.64h0.95v0.95h-0.95zM328.91,469.63h0.95v0.95h-0.95zM329.13,466.07h0.95v0.95h-0.95zM322.72,471.28h0.95v0.95h-0.95zM322,469.91h0.95v0.95h-0.95zM318.44,473.95h0.95v0.95h-0.95zM331.34,464.51h0.95v0.95h-0.95zM330.45,464.4h0.95v0.95h-0.95zM333.96,461.76h0.95v0.95h-0.95zM325.56,469.18h0.95v0.95h-0.95zM335.54,466.07h0.95v0.95h-0.95zM318.98,473.42h0.95v0.95h-0.95zM332.8,469.71h0.95v0.95h-0.95zM318.96,475.61h0.95v0.95h-0.95zM314.49,479.35h0.95v0.95h-0.95zM315.31,476.15h0.95v0.95h-0.95zM316.45,479.79h0.95v0.95h-0.95zM332.56,470.57h0.95v0.95h-0.95zM326.67,467.84h0.95v0.95h-0.95zM335.29,466.19h0.95v0.95h-0.95zM324.69,471.14h0.95v0.95h-0.95z" fill="#111"/>
<polygon points="312.05,480.84 313.42,478.1 315.47,475.35 318.22,472.61 320.96,469.87 323.7,467.13 326.44,465.07 329.19,463.01 331.93,461.3 333.99,460.27 335.36,462.33 334.67,466.44 332.61,469.87 329.87,472.61 326.44,475.35 323.02,478.1 319.59,480.15 316.16,481.52 313.42,482.55" fill="#000"/>
<path d="M302.19,498.2v1.3M305.63,498.2v1.3M308.07,498.2v1.3M309.96,498.2v1.3M311.51,498.2v1.3M312.82,498.2v1.3M313.96,498.2v1.3M314.96,498.2v1.3M296.3,492.27h-1.3M296.3,488.8h-1.3M296.3,486.34h-1.3M296.3,484.43h-1.3M296.3,482.87h-1.3M296.3,481.55h-1.3M296.3,480.41h-1.3M296.3,479.4h-1.3M321.74,498.2v1.3M325.18,498.2v1.3M327.62,498.2v1.3M329.51,498.2v1.3M331.06,498.2v1.3M332.37,498.2v1.3M333.51,498.2v1.3M334.51,498.2v1.3M296.3,472.57h-1.3M296.3,469.1h-1.3M296.3,466.64h-1.3M296.3,464.73h-1.3M296.3,463.17h-1.3M296.3,461.85h-1.3M296.3,460.71h-1.3M296.3,459.7h-1.3M341.29,498.2v1.3M344.73,498.2v1.3M347.17,498.2v1.3M349.06,498.2v1.3M350.61,498.2v1.3M351.92,498.2v1.3M353.06,498.2v1.3M354.06,498.2v1.3M296.3,452.87h-1.3M296.3,449.4h-1.3M296.3,446.94h-1.3M296.3,445.03h-1.3M296.3,443.47h-1.3M296.3,442.15h-1.3M296.3,441.01h-1.3M296.3,440h-1.3M360.84,498.2v1.3M364.28,498.2v1.3M366.72,498.2v1.3M368.61,498.2v1.3M370.16,498.2v1.3M371.47,498.2v1.3M372.61,498.2v1.3M373.61,498.2v1.3M296.3,433.17h-1.3M296.3,429.7h-1.3M296.3,427.24h-1.3M296.3,425.33h-1.3M296.3,423.77h-1.3M296.3,422.45h-1.3M296.3,421.31h-1.3M296.3,420.3h-1.3M296.3,498.2v2M296.3,498.2h-2M315.85,498.2v2M296.3,478.5h-2M335.4,498.2v2M296.3,458.8h-2M354.95,498.2v2M296.3,439.1h-2M374.5,498.2v2M296.3,419.4h-2" stroke="#222" stroke-width="0.7" fill="none"/>
<line x1="296.3" y1="419.4" x2="374.5" y2="419.4" stroke="#555" stroke-width="0.9"/>
<line x1="374.5" y1="418.95" x2="374.5" y2="498.2" stroke="#333" stroke-width="1.4"/>
<line x1="296.3" y1="419" x2="296.3" y2="498.8" stroke="#111" stroke-width="1.5"/>
<line x1="295.9" y1="498.2" x2="375.1" y2="498.2" stroke="#111" stroke-width="1.6"/>
<line x1="333.3" y1="419.4" x2="333.3" y2="498.2" stroke="#333" stroke-width="1"/>
<line x1="296.3" y1="458" x2="374.5" y2="458" stroke="#2a2a2a" stroke-width="1.1"/>
<text x="292.2" y="507.5" font-size="6.2" fill="#3a3a3a" textLength="7.9" lengthAdjust="spacingAndGlyphs">10<tspan dy="-2.4" font-size="4.4">0</tspan></text>
<text x="311.75" y="507.5" font-size="6.2" fill="#3a3a3a" textLength="7.9" lengthAdjust="spacingAndGlyphs">10<tspan dy="-2.4" font-size="4.4">1</tspan></text>
<text x="331.3" y="507.5" font-size="6.2" fill="#3a3a3a" textLength="7.9" lengthAdjust="spacingAndGlyphs">10<tspan dy="-2.4" font-size="4.4">2</tspan></text>
<text x="350.85" y="507.5" font-size="6.2" fill="#3a3a3a" textLength="7.9" lengthAdjust="spacingAndGlyphs">10<tspan dy="-2.4" font-size="4.4">3</tspan></text>
<text x="370.4" y="507.5" font-size="6.2" fill="#3a3a3a" textLength="7.9" lengthAdjust="spacingAndGlyphs">10<tspan dy="-2.4" font-size="4.4">4</tspan></text>
<text transform="translate(292.4,503.1) rotate(-90)" font-size="6.8" fill="#3a3a3a" textLength="8.6" lengthAdjust="spacingAndGlyphs">10<tspan dy="-2.6" font-size="4.8">0</tspan></text>
<text transform="translate(292.4,483.4) rotate(-90)" font-size="6.8" fill="#3a3a3a" textLength="8.6" lengthAdjust="spacingAndGlyphs">10<tspan dy="-2.6" font-size="4.8">1</tspan></text>
<text transform="translate(292.4,463.7) rotate(-90)" font-size="6.8" fill="#3a3a3a" textLength="8.6" lengthAdjust="spacingAndGlyphs">10<tspan dy="-2.6" font-size="4.8">2</tspan></text>
<text transform="translate(292.4,444) rotate(-90)" font-size="6.8" fill="#3a3a3a" textLength="8.6" lengthAdjust="spacingAndGlyphs">10<tspan dy="-2.6" font-size="4.8">3</tspan></text>
<text transform="translate(292.4,423.2) rotate(-90)" font-size="6.8" fill="#3a3a3a" textLength="5.8" lengthAdjust="spacingAndGlyphs">10</text>
<text x="308.5" y="414" font-size="9" textLength="43" lengthAdjust="spacingAndGlyphs" fill="#151515">Cytarabine</text>
<text x="346.9" y="441.7" font-size="10.4" textLength="23.5" lengthAdjust="spacingAndGlyphs" fill="#1a1a1a">4.4%</text>
<text x="346.9" y="488.2" font-size="10.4" textLength="23.5" lengthAdjust="spacingAndGlyphs" fill="#1a1a1a">2.6%</text>
<path d="M463.15,456.5h0.95v0.95h-0.95zM476.07,453.27h0.95v0.95h-0.95zM465.74,453.88h0.95v0.95h-0.95zM479.48,454.85h0.95v0.95h-0.95zM463,429.94h0.95v0.95h-0.95zM460.88,427.85h0.95v0.95h-0.95zM474.78,426.61h0.95v0.95h-0.95zM469.46,436.26h0.95v0.95h-0.95zM475.39,426.47h0.95v0.95h-0.95zM475.22,455.37h0.95v0.95h-0.95zM465.68,437.79h0.95v0.95h-0.95zM475.67,434.68h0.95v0.95h-0.95zM478.04,456.58h0.95v0.95h-0.95zM464.01,439.91h0.95v0.95h-0.95zM462.29,442.68h0.95v0.95h-0.95zM467.85,455.82h0.95v0.95h-0.95zM475.36,456.45h0.95v0.95h-0.95zM477.23,451.15h0.95v0.95h-0.95zM467.61,446.07h0.95v0.95h-0.95zM461.55,436.03h0.95v0.95h-0.95zM479.73,456.06h0.95v0.95h-0.95zM462.9,440.68h0.95v0.95h-0.95zM468.11,444.66h0.95v0.95h-0.95zM472.36,433.27h0.95v0.95h-0.95zM478.8,439.27h0.95v0.95h-0.95zM476.45,447.89h0.95v0.95h-0.95zM481.05,441.33h0.95v0.95h-0.95zM472.25,449.47h0.95v0.95h-0.95zM464.16,426.43h0.95v0.95h-0.95zM477.3,447.01h0.95v0.95h-0.95zM475.87,450.37h0.95v0.95h-0.95zM463.51,452.83h0.95v0.95h-0.95zM473.4,454.94h0.95v0.95h-0.95zM471.51,452.43h0.95v0.95h-0.95zM460.28,430.25h0.95v0.95h-0.95zM471.44,446.16h0.95v0.95h-0.95zM467.68,427.28h0.95v0.95h-0.95zM478.93,427.27h0.95v0.95h-0.95zM479,432.39h0.95v0.95h-0.95zM474.88,443.8h0.95v0.95h-0.95zM464.32,435.41h0.95v0.95h-0.95zM464.43,441.9h0.95v0.95h-0.95zM465.25,442.24h0.95v0.95h-0.95zM465.34,428.82h0.95v0.95h-0.95zM474.68,433.29h0.95v0.95h-0.95zM480.34,437.84h0.95v0.95h-0.95zM464.9,447.76h0.95v0.95h-0.95zM479.28,436.74h0.95v0.95h-0.95zM475.5,435.51h0.95v0.95h-0.95zM481.37,434.52h0.95v0.95h-0.95zM459.82,425.12h0.95v0.95h-0.95zM471.21,444.8h0.95v0.95h-0.95zM465.44,438.13h0.95v0.95h-0.95zM468.2,436.52h0.95v0.95h-0.95zM463.26,442.26h0.95v0.95h-0.95zM473.99,425.86h0.95v0.95h-0.95zM478.83,433.22h0.95v0.95h-0.95zM469.69,431.9h0.95v0.95h-0.95zM474.15,437.87h0.95v0.95h-0.95zM472.08,437.93h0.95v0.95h-0.95zM470.43,427.74h0.95v0.95h-0.95zM481.09,438.49h0.95v0.95h-0.95zM466.45,451.84h0.95v0.95h-0.95zM465.62,450.08h0.95v0.95h-0.95zM468.54,428.7h0.95v0.95h-0.95zM471.92,433.88h0.95v0.95h-0.95zM463.53,456.38h0.95v0.95h-0.95zM480.08,439.95h0.95v0.95h-0.95zM477.17,446.23h0.95v0.95h-0.95zM465.81,429.1h0.95v0.95h-0.95zM472.08,431.05h0.95v0.95h-0.95zM475.99,443.86h0.95v0.95h-0.95zM463.95,449.62h0.95v0.95h-0.95zM480.77,440.22h0.95v0.95h-0.95zM480.82,439.26h0.95v0.95h-0.95zM459.39,439.65h0.95v0.95h-0.95zM466.93,454.09h0.95v0.95h-0.95zM470.76,455.46h0.95v0.95h-0.95zM462.66,437.15h0.95v0.95h-0.95zM459.32,426.63h0.95v0.95h-0.95zM475,426.04h0.95v0.95h-0.95zM464,438.77h0.95v0.95h-0.95zM479.72,432.48h0.95v0.95h-0.95zM459.1,447.23h0.95v0.95h-0.95zM474.67,429.4h0.95v0.95h-0.95zM479.88,452.43h0.95v0.95h-0.95zM480.07,451.11h0.95v0.95h-0.95zM471.3,447.23h0.95v0.95h-0.95zM461.79,445.41h0.95v0.95h-0.95zM466.98,435.64h0.95v0.95h-0.95zM466.04,427.57h0.95v0.95h-0.95zM477.24,449.23h0.95v0.95h-0.95zM459.21,441.26h0.95v0.95h-0.95zM459.52,442.28h0.95v0.95h-0.95zM462.76,455.46h0.95v0.95h-0.95zM466.17,441.59h0.95v0.95h-0.95zM464.9,453.66h0.95v0.95h-0.95zM459.19,434.6h0.95v0.95h-0.95zM464.08,448.66h0.95v0.95h-0.95zM467.37,452.32h0.95v0.95h-0.95zM466.37,428.99h0.95v0.95h-0.95zM469.24,427.73h0.95v0.95h-0.95zM462.43,441.58h0.95v0.95h-0.95zM471.92,431.77h0.95v0.95h-0.95zM463.04,441.53h0.95v0.95h-0.95zM469.02,440.27h0.95v0.95h-0.95zM474.09,429.47h0.95v0.95h-0.95zM459.26,427.05h0.95v0.95h-0.95zM476.89,447.27h0.95v0.95h-0.95zM462.45,435.48h0.95v0.95h-0.95zM466.26,458.02h0.95v0.95h-0.95zM460.61,459.26h0.95v0.95h-0.95zM458.8,460.74h0.95v0.95h-0.95zM458.15,461.27h0.95v0.95h-0.95zM458.78,459.11h0.95v0.95h-0.95zM468.74,455.28h0.95v0.95h-0.95zM464.1,458.62h0.95v0.95h-0.95zM466.57,457.12h0.95v0.95h-0.95zM469.76,455.12h0.95v0.95h-0.95zM461.74,458.11h0.95v0.95h-0.95zM462.83,457.54h0.95v0.95h-0.95zM460.04,460.44h0.95v0.95h-0.95zM459.43,463.06h0.95v0.95h-0.95zM468.7,453.05h0.95v0.95h-0.95zM462.42,458.43h0.95v0.95h-0.95zM459,459.62h0.95v0.95h-0.95zM457.53,459.99h0.95v0.95h-0.95zM465.2,459.57h0.95v0.95h-0.95zM460.11,458.21h0.95v0.95h-0.95zM460.43,459.99h0.95v0.95h-0.95zM463.92,459.41h0.95v0.95h-0.95zM469.62,454.53h0.95v0.95h-0.95zM467.54,458.39h0.95v0.95h-0.95zM467.21,458.66h0.95v0.95h-0.95zM463.62,458.96h0.95v0.95h-0.95zM461.04,461.38h0.95v0.95h-0.95zM463.87,458.9h0.95v0.95h-0.95zM470.08,456.14h0.95v0.95h-0.95zM464.4,455.87h0.95v0.95h-0.95zM465.79,456.95h0.95v0.95h-0.95z" fill="#444"/>
<path d="M468.42,430.71h0.95v0.95h-0.95zM469.71,429.1h0.95v0.95h-0.95zM465.66,423.92h0.95v0.95h-0.95zM467.39,428.54h0.95v0.95h-0.95zM470.14,430.32h0.95v0.95h-0.95zM474.8,428.72h0.95v0.95h-0.95zM476.96,430.99h0.95v0.95h-0.95zM475.55,424.29h0.95v0.95h-0.95zM469.56,424.72h0.95v0.95h-0.95zM472.19,427.49h0.95v0.95h-0.95zM465.74,424.21h0.95v0.95h-0.95zM470.37,428.41h0.95v0.95h-0.95zM469.63,427.23h0.95v0.95h-0.95zM472.47,428.97h0.95v0.95h-0.95zM473.38,426.8h0.95v0.95h-0.95zM466.73,430.3h0.95v0.95h-0.95zM465.1,425.18h0.95v0.95h-0.95zM466.96,428.18h0.95v0.95h-0.95zM472.31,424.37h0.95v0.95h-0.95zM470.98,428.03h0.95v0.95h-0.95zM473.11,424.17h0.95v0.95h-0.95zM473.62,425.68h0.95v0.95h-0.95zM469.37,424.56h0.95v0.95h-0.95zM475.04,428.36h0.95v0.95h-0.95zM474.68,427.56h0.95v0.95h-0.95zM465.97,426.69h0.95v0.95h-0.95zM465.57,424.36h0.95v0.95h-0.95zM474.6,423.6h0.95v0.95h-0.95zM469.43,423.92h0.95v0.95h-0.95zM474.08,431.23h0.95v0.95h-0.95zM465.01,426.4h0.95v0.95h-0.95zM476.7,425.53h0.95v0.95h-0.95zM468.44,431.2h0.95v0.95h-0.95zM476.03,426.57h0.95v0.95h-0.95zM472.91,429.71h0.95v0.95h-0.95zM469,423.62h0.95v0.95h-0.95zM469.24,428.93h0.95v0.95h-0.95zM476.56,427h0.95v0.95h-0.95zM469.69,426.53h0.95v0.95h-0.95zM472.13,423.77h0.95v0.95h-0.95zM475.92,430.95h0.95v0.95h-0.95zM464.99,423.65h0.95v0.95h-0.95zM468.49,424.72h0.95v0.95h-0.95zM474.14,430.3h0.95v0.95h-0.95zM471.37,430.87h0.95v0.95h-0.95zM467.43,425.11h0.95v0.95h-0.95zM469.36,427.08h0.95v0.95h-0.95zM467.06,430.69h0.95v0.95h-0.95zM473.91,425.82h0.95v0.95h-0.95zM467.41,425.78h0.95v0.95h-0.95zM469.5,428.64h0.95v0.95h-0.95zM474.22,430.91h0.95v0.95h-0.95zM465.61,425.11h0.95v0.95h-0.95zM469.31,430.93h0.95v0.95h-0.95zM470.27,429.14h0.95v0.95h-0.95zM474.88,427.15h0.95v0.95h-0.95zM469.28,429.58h0.95v0.95h-0.95zM472.54,431.25h0.95v0.95h-0.95zM467.96,430.94h0.95v0.95h-0.95zM470.63,430.29h0.95v0.95h-0.95zM472.55,427.94h0.95v0.95h-0.95zM475.21,424.22h0.95v0.95h-0.95zM468.08,427.35h0.95v0.95h-0.95zM474.76,425.03h0.95v0.95h-0.95zM474.27,424.28h0.95v0.95h-0.95zM468.94,427.17h0.95v0.95h-0.95zM473.47,427.63h0.95v0.95h-0.95zM475.13,428.93h0.95v0.95h-0.95zM469.36,427.61h0.95v0.95h-0.95zM469.42,430.32h0.95v0.95h-0.95z" fill="#222"/>
<path d="M441.29,428.14h0.95v0.95h-0.95zM439.87,430.52h0.95v0.95h-0.95zM453.43,445.35h0.95v0.95h-0.95zM439.89,436.28h0.95v0.95h-0.95zM455.47,454.67h0.95v0.95h-0.95zM439.34,454.09h0.95v0.95h-0.95zM435.4,455.95h0.95v0.95h-0.95zM441.7,454.45h0.95v0.95h-0.95zM434.75,445.4h0.95v0.95h-0.95zM456.19,449.88h0.95v0.95h-0.95zM447.73,427.29h0.95v0.95h-0.95zM439.69,454.06h0.95v0.95h-0.95zM454.8,429.52h0.95v0.95h-0.95zM442.25,442.85h0.95v0.95h-0.95zM441.28,429.25h0.95v0.95h-0.95zM454.85,425.78h0.95v0.95h-0.95zM449.19,435.79h0.95v0.95h-0.95zM445.29,451.63h0.95v0.95h-0.95zM451.9,448.33h0.95v0.95h-0.95zM434.4,449.55h0.95v0.95h-0.95zM453.02,422.02h0.95v0.95h-0.95zM439.41,446.84h0.95v0.95h-0.95zM454.87,440.33h0.95v0.95h-0.95zM455.34,424.98h0.95v0.95h-0.95zM440.24,449.89h0.95v0.95h-0.95zM453.05,429.59h0.95v0.95h-0.95zM447.66,436.9h0.95v0.95h-0.95zM451.73,435.54h0.95v0.95h-0.95zM441.66,447.9h0.95v0.95h-0.95zM450.7,434.3h0.95v0.95h-0.95zM451.14,430.92h0.95v0.95h-0.95zM446.02,428.38h0.95v0.95h-0.95zM442.25,436.23h0.95v0.95h-0.95zM436.12,432.6h0.95v0.95h-0.95zM442.44,433.12h0.95v0.95h-0.95zM446.16,452.59h0.95v0.95h-0.95zM454.39,432.05h0.95v0.95h-0.95zM437.23,424.99h0.95v0.95h-0.95zM455.25,447.84h0.95v0.95h-0.95zM451.73,452.87h0.95v0.95h-0.95zM443.63,427.82h0.95v0.95h-0.95zM436.18,435.58h0.95v0.95h-0.95zM452.44,424.9h0.95v0.95h-0.95zM444.51,424.77h0.95v0.95h-0.95zM439.14,440.82h0.95v0.95h-0.95z" fill="#777"/>
<path d="M475.59,450.27h0.95v0.95h-0.95zM474.76,451.19h0.95v0.95h-0.95zM478.34,455.04h0.95v0.95h-0.95zM472.78,446.01h0.95v0.95h-0.95zM474.07,451.45h0.95v0.95h-0.95zM477.15,452.87h0.95v0.95h-0.95zM479.03,455.22h0.95v0.95h-0.95zM473.63,449.4h0.95v0.95h-0.95zM475.01,450.99h0.95v0.95h-0.95zM470.09,444.87h0.95v0.95h-0.95zM474,449.14h0.95v0.95h-0.95zM473.12,447.63h0.95v0.95h-0.95zM477.26,451.09h0.95v0.95h-0.95zM469,444.64h0.95v0.95h-0.95zM478.57,450.94h0.95v0.95h-0.95zM476.44,451.27h0.95v0.95h-0.95zM478.1,451.45h0.95v0.95h-0.95zM478.48,454.65h0.95v0.95h-0.95zM469.18,444.57h0.95v0.95h-0.95zM475.79,448.46h0.95v0.95h-0.95zM470.54,447.23h0.95v0.95h-0.95zM472.5,446.87h0.95v0.95h-0.95zM467.63,445.73h0.95v0.95h-0.95zM470.34,442.82h0.95v0.95h-0.95zM470.26,445.14h0.95v0.95h-0.95zM473.97,449.47h0.95v0.95h-0.95zM478.49,453.02h0.95v0.95h-0.95zM480.99,453.53h0.95v0.95h-0.95zM472.35,446.66h0.95v0.95h-0.95zM474.67,451.19h0.95v0.95h-0.95z" fill="#333"/>
<path d="M446.99,422.75h0.95v0.95h-0.95zM447.38,427.8h0.95v0.95h-0.95zM453.16,425.74h0.95v0.95h-0.95zM452.94,424.92h0.95v0.95h-0.95zM447.45,426.18h0.95v0.95h-0.95zM443.03,425.56h0.95v0.95h-0.95zM447.53,423.79h0.95v0.95h-0.95zM447.46,423.07h0.95v0.95h-0.95zM449.64,422.69h0.95v0.95h-0.95zM446.7,422.33h0.95v0.95h-0.95zM448.1,422.58h0.95v0.95h-0.95zM452.36,422.11h0.95v0.95h-0.95zM452.1,423.79h0.95v0.95h-0.95zM454.32,423.97h0.95v0.95h-0.95zM442.17,426.02h0.95v0.95h-0.95zM443.65,426.88h0.95v0.95h-0.95zM447.17,423.6h0.95v0.95h-0.95zM448.87,423.34h0.95v0.95h-0.95zM443.97,422.49h0.95v0.95h-0.95zM443.57,423.31h0.95v0.95h-0.95zM442.39,424.5h0.95v0.95h-0.95zM446.74,425.57h0.95v0.95h-0.95zM448.27,426.09h0.95v0.95h-0.95zM449.21,424.82h0.95v0.95h-0.95zM452.82,422.85h0.95v0.95h-0.95z" fill="#666"/>
<path d="M458.23,458.48h0.95v0.95h-0.95zM442.17,467.35h0.95v0.95h-0.95zM458.17,471.11h0.95v0.95h-0.95zM467.01,464.74h0.95v0.95h-0.95zM437.28,474.59h0.95v0.95h-0.95zM440.99,467.73h0.95v0.95h-0.95zM462.36,468.85h0.95v0.95h-0.95zM458.57,459.15h0.95v0.95h-0.95zM464.43,467.77h0.95v0.95h-0.95zM465.16,464.05h0.95v0.95h-0.95zM440.02,481.9h0.95v0.95h-0.95zM432.33,484.32h0.95v0.95h-0.95zM433.79,478.23h0.95v0.95h-0.95zM447.87,458.08h0.95v0.95h-0.95zM452.89,476.67h0.95v0.95h-0.95zM442.79,482.55h0.95v0.95h-0.95zM444.9,480.48h0.95v0.95h-0.95zM438.02,483.87h0.95v0.95h-0.95zM436.38,476.75h0.95v0.95h-0.95zM447.66,479.25h0.95v0.95h-0.95zM453.97,475.21h0.95v0.95h-0.95zM465.24,464.09h0.95v0.95h-0.95zM462.29,459.07h0.95v0.95h-0.95zM463.33,466.84h0.95v0.95h-0.95zM432.2,479.45h0.95v0.95h-0.95zM465.38,465.24h0.95v0.95h-0.95zM456.41,458.28h0.95v0.95h-0.95zM441.55,467.85h0.95v0.95h-0.95zM457.31,459.37h0.95v0.95h-0.95zM433.16,478.79h0.95v0.95h-0.95zM464.51,465.63h0.95v0.95h-0.95zM450.1,462.19h0.95v0.95h-0.95zM431.83,482.46h0.95v0.95h-0.95zM461.32,459.39h0.95v0.95h-0.95zM448.93,462.71h0.95v0.95h-0.95zM457.96,471.66h0.95v0.95h-0.95zM431.88,484.91h0.95v0.95h-0.95zM435.44,476.9h0.95v0.95h-0.95zM439.03,472.44h0.95v0.95h-0.95zM432.09,483.86h0.95v0.95h-0.95zM447.3,479.29h0.95v0.95h-0.95zM432.65,484.22h0.95v0.95h-0.95zM454.03,459.48h0.95v0.95h-0.95zM432.28,482.72h0.95v0.95h-0.95zM457.05,459.12h0.95v0.95h-0.95zM452.81,459.08h0.95v0.95h-0.95zM447.38,489.89h0.95v0.95h-0.95zM454.22,459.82h0.95v0.95h-0.95zM467.24,464.36h0.95v0.95h-0.95zM442.31,463.74h0.95v0.95h-0.95zM466.58,463.35h0.95v0.95h-0.95zM439.73,483.58h0.95v0.95h-0.95zM437.23,483.78h0.95v0.95h-0.95zM434.91,478.42h0.95v0.95h-0.95zM433.31,484.45h0.95v0.95h-0.95zM461.06,468.25h0.95v0.95h-0.95zM433.67,484.34h0.95v0.95h-0.95zM431.07,483.1h0.95v0.95h-0.95zM456.35,459.89h0.95v0.95h-0.95zM437.67,473.62h0.95v0.95h-0.95zM465.49,458.74h0.95v0.95h-0.95zM443.02,481.08h0.95v0.95h-0.95zM450.32,461.91h0.95v0.95h-0.95zM446.14,485.74h0.95v0.95h-0.95zM453.37,459h0.95v0.95h-0.95zM462.39,458.94h0.95v0.95h-0.95zM462.09,470.14h0.95v0.95h-0.95zM440.62,464.25h0.95v0.95h-0.95zM447.74,462.67h0.95v0.95h-0.95zM438.56,472.06h0.95v0.95h-0.95zM431.7,484.05h0.95v0.95h-0.95zM441.13,469.13h0.95v0.95h-0.95zM461.94,467.47h0.95v0.95h-0.95zM444.73,481.72h0.95v0.95h-0.95zM458,471.55h0.95v0.95h-0.95zM435.43,477.41h0.95v0.95h-0.95zM433.72,472.64h0.95v0.95h-0.95zM468.28,464.1h0.95v0.95h-0.95zM438.03,483.87h0.95v0.95h-0.95zM453.3,460.72h0.95v0.95h-0.95zM466.05,459.4h0.95v0.95h-0.95zM446.15,464.56h0.95v0.95h-0.95zM446.73,464.25h0.95v0.95h-0.95zM460.95,468.5h0.95v0.95h-0.95zM454.29,477.76h0.95v0.95h-0.95zM433.16,479.56h0.95v0.95h-0.95zM440.44,469.76h0.95v0.95h-0.95zM433.14,474.13h0.95v0.95h-0.95zM457.48,458.74h0.95v0.95h-0.95zM462.44,467.21h0.95v0.95h-0.95zM452.61,460.34h0.95v0.95h-0.95zM448.44,461.04h0.95v0.95h-0.95zM431.5,486.6h0.95v0.95h-0.95zM440.6,469.02h0.95v0.95h-0.95zM451.42,460.98h0.95v0.95h-0.95zM436.7,475.38h0.95v0.95h-0.95zM439.45,483.24h0.95v0.95h-0.95zM435.06,477.65h0.95v0.95h-0.95zM467.1,461.99h0.95v0.95h-0.95zM430.36,481.85h0.95v0.95h-0.95zM449.88,479.18h0.95v0.95h-0.95zM434.13,476.7h0.95v0.95h-0.95zM463.36,466.23h0.95v0.95h-0.95zM443.62,466.69h0.95v0.95h-0.95zM440.57,470.13h0.95v0.95h-0.95zM433.64,478.05h0.95v0.95h-0.95zM431.55,484.55h0.95v0.95h-0.95zM466.07,461.09h0.95v0.95h-0.95zM460.86,470.48h0.95v0.95h-0.95zM461.47,470.18h0.95v0.95h-0.95zM437.37,473.19h0.95v0.95h-0.95zM465.55,461.98h0.95v0.95h-0.95zM449.72,478.33h0.95v0.95h-0.95zM434.57,484.08h0.95v0.95h-0.95zM459.81,470.3h0.95v0.95h-0.95zM440.44,470.29h0.95v0.95h-0.95zM438.74,483.09h0.95v0.95h-0.95zM451.78,479.7h0.95v0.95h-0.95zM430.91,483.39h0.95v0.95h-0.95zM464.94,465.47h0.95v0.95h-0.95zM456.96,473.22h0.95v0.95h-0.95zM437.46,475.02h0.95v0.95h-0.95zM435.63,484.8h0.95v0.95h-0.95zM432.11,484.47h0.95v0.95h-0.95zM435.42,485.29h0.95v0.95h-0.95zM451.95,456.41h0.95v0.95h-0.95zM454.97,474.52h0.95v0.95h-0.95zM434.66,486.36h0.95v0.95h-0.95zM469.37,465.63h0.95v0.95h-0.95zM436.03,474.34h0.95v0.95h-0.95zM433.56,462.58h0.95v0.95h-0.95zM453.95,458.29h0.95v0.95h-0.95zM452.66,476.86h0.95v0.95h-0.95zM431.86,477.2h0.95v0.95h-0.95zM460.6,469.41h0.95v0.95h-0.95zM443.26,481.69h0.95v0.95h-0.95zM450.53,461.68h0.95v0.95h-0.95zM435.78,473.96h0.95v0.95h-0.95zM453.95,477.64h0.95v0.95h-0.95zM444.54,483.54h0.95v0.95h-0.95zM448.65,479.93h0.95v0.95h-0.95zM437.26,473.95h0.95v0.95h-0.95zM444.55,480.75h0.95v0.95h-0.95zM443.03,481.36h0.95v0.95h-0.95zM436.1,484.25h0.95v0.95h-0.95zM464.35,459.72h0.95v0.95h-0.95zM436.13,475.25h0.95v0.95h-0.95zM464.38,465.79h0.95v0.95h-0.95zM439.37,467.62h0.95v0.95h-0.95zM430.17,485.57h0.95v0.95h-0.95zM450.02,462.18h0.95v0.95h-0.95zM443.54,466.12h0.95v0.95h-0.95zM446.06,464.6h0.95v0.95h-0.95zM463.76,466.62h0.95v0.95h-0.95zM452.66,461.31h0.95v0.95h-0.95zM448.38,462.48h0.95v0.95h-0.95zM450.84,476.96h0.95v0.95h-0.95zM457.67,460h0.95v0.95h-0.95zM449.59,479.39h0.95v0.95h-0.95zM435.52,476.1h0.95v0.95h-0.95zM461.97,470.68h0.95v0.95h-0.95zM464.36,459.2h0.95v0.95h-0.95zM443.4,481.28h0.95v0.95h-0.95zM438.15,484.07h0.95v0.95h-0.95zM460.61,469.08h0.95v0.95h-0.95zM433.38,479.01h0.95v0.95h-0.95zM435.36,470.73h0.95v0.95h-0.95zM434.37,486.15h0.95v0.95h-0.95zM436.66,473.58h0.95v0.95h-0.95zM448.36,482.19h0.95v0.95h-0.95zM446.75,480h0.95v0.95h-0.95zM431.69,486.53h0.95v0.95h-0.95zM431.4,482.54h0.95v0.95h-0.95zM433.72,479.88h0.95v0.95h-0.95zM430.43,481.4h0.95v0.95h-0.95zM435.98,475.81h0.95v0.95h-0.95zM460.78,470.62h0.95v0.95h-0.95zM442.54,467.26h0.95v0.95h-0.95zM454.54,474.26h0.95v0.95h-0.95zM432.2,485.7h0.95v0.95h-0.95zM462.17,466.73h0.95v0.95h-0.95zM439.03,482.64h0.95v0.95h-0.95zM439.58,481.93h0.95v0.95h-0.95zM436.09,484.58h0.95v0.95h-0.95zM443.56,483.3h0.95v0.95h-0.95zM453.8,460.62h0.95v0.95h-0.95zM445.62,480.54h0.95v0.95h-0.95zM458.67,473.59h0.95v0.95h-0.95zM453.22,475.89h0.95v0.95h-0.95zM434.44,474.14h0.95v0.95h-0.95zM439.33,472.39h0.95v0.95h-0.95zM432.63,479.11h0.95v0.95h-0.95zM460.52,458.53h0.95v0.95h-0.95zM451.83,476.88h0.95v0.95h-0.95zM431.85,479.4h0.95v0.95h-0.95zM463.61,458.11h0.95v0.95h-0.95zM463.77,466.4h0.95v0.95h-0.95zM445.37,465.31h0.95v0.95h-0.95zM463.01,456.23h0.95v0.95h-0.95zM432.68,484.49h0.95v0.95h-0.95zM449.16,478.86h0.95v0.95h-0.95zM461.19,458.06h0.95v0.95h-0.95zM467.64,461.82h0.95v0.95h-0.95zM465.55,463.16h0.95v0.95h-0.95zM444.12,482.51h0.95v0.95h-0.95zM435.27,485.15h0.95v0.95h-0.95zM431.07,477.79h0.95v0.95h-0.95zM463.25,465.68h0.95v0.95h-0.95zM463.66,457.71h0.95v0.95h-0.95zM440.8,469.75h0.95v0.95h-0.95zM443.8,480.93h0.95v0.95h-0.95zM466.67,462.78h0.95v0.95h-0.95zM444.83,465.32h0.95v0.95h-0.95zM467.31,464.46h0.95v0.95h-0.95zM463.27,466.3h0.95v0.95h-0.95zM436.92,475.41h0.95v0.95h-0.95zM448.85,462.1h0.95v0.95h-0.95zM443.63,481.83h0.95v0.95h-0.95zM465.32,463.24h0.95v0.95h-0.95zM430.83,480.44h0.95v0.95h-0.95zM440.74,467.61h0.95v0.95h-0.95zM429.48,480.8h0.95v0.95h-0.95zM464.9,460.97h0.95v0.95h-0.95zM448.5,478.66h0.95v0.95h-0.95zM452.38,477.31h0.95v0.95h-0.95zM437.41,471.75h0.95v0.95h-0.95zM431.8,486.56h0.95v0.95h-0.95zM443.64,459.03h0.95v0.95h-0.95zM450.82,461.16h0.95v0.95h-0.95zM455.06,457.76h0.95v0.95h-0.95zM461.42,467.4h0.95v0.95h-0.95zM458.21,459.44h0.95v0.95h-0.95zM449.69,478.98h0.95v0.95h-0.95zM466.13,460.91h0.95v0.95h-0.95zM458.41,471.49h0.95v0.95h-0.95zM453.9,459.35h0.95v0.95h-0.95zM464.58,464.67h0.95v0.95h-0.95zM464.62,460.07h0.95v0.95h-0.95zM432,484.45h0.95v0.95h-0.95zM452.18,461.51h0.95v0.95h-0.95z" fill="#111"/>
<path d="M441.83,476.95h0.95v0.95h-0.95zM451.75,464.77h0.95v0.95h-0.95zM442.44,476.34h0.95v0.95h-0.95zM456.5,463.52h0.95v0.95h-0.95zM435.88,481.99h0.95v0.95h-0.95zM449.13,468.5h0.95v0.95h-0.95zM448.23,472h0.95v0.95h-0.95zM463.13,461.48h0.95v0.95h-0.95zM445.28,475.34h0.95v0.95h-0.95zM446.48,473.15h0.95v0.95h-0.95zM459.08,463.51h0.95v0.95h-0.95zM449.29,466.13h0.95v0.95h-0.95zM447.81,475.39h0.95v0.95h-0.95zM436.37,478.01h0.95v0.95h-0.95zM452.69,463.57h0.95v0.95h-0.95zM444.74,480.32h0.95v0.95h-0.95zM458.61,469.76h0.95v0.95h-0.95zM452.54,468.76h0.95v0.95h-0.95zM454.82,461.86h0.95v0.95h-0.95zM449.8,476.74h0.95v0.95h-0.95zM443.8,479.81h0.95v0.95h-0.95zM457.67,460.12h0.95v0.95h-0.95zM449.85,475.16h0.95v0.95h-0.95zM449.75,463.27h0.95v0.95h-0.95zM442.2,474.69h0.95v0.95h-0.95zM449.07,468.66h0.95v0.95h-0.95zM448.96,478.24h0.95v0.95h-0.95zM440.21,480.01h0.95v0.95h-0.95zM449.86,469.79h0.95v0.95h-0.95zM459.21,467.22h0.95v0.95h-0.95zM451.94,475.14h0.95v0.95h-0.95zM450.34,472.25h0.95v0.95h-0.95zM448.93,471.86h0.95v0.95h-0.95zM451.93,474.25h0.95v0.95h-0.95zM458.88,465.83h0.95v0.95h-0.95zM454.1,472.17h0.95v0.95h-0.95zM442.57,468.56h0.95v0.95h-0.95zM439.77,474.51h0.95v0.95h-0.95zM435.78,479.72h0.95v0.95h-0.95zM455.51,463.02h0.95v0.95h-0.95zM451.81,464.35h0.95v0.95h-0.95zM459.7,463.63h0.95v0.95h-0.95zM451.26,473.74h0.95v0.95h-0.95zM443.6,474.6h0.95v0.95h-0.95zM443.9,480.43h0.95v0.95h-0.95zM448.7,474.76h0.95v0.95h-0.95zM450.06,470.72h0.95v0.95h-0.95zM443.03,477.8h0.95v0.95h-0.95zM443.12,479.83h0.95v0.95h-0.95zM452.37,461.67h0.95v0.95h-0.95zM459.88,460.31h0.95v0.95h-0.95zM454.52,463.82h0.95v0.95h-0.95zM446.98,466.84h0.95v0.95h-0.95zM454.66,467.94h0.95v0.95h-0.95zM439.15,477.31h0.95v0.95h-0.95zM447.53,478.41h0.95v0.95h-0.95zM451.3,470.14h0.95v0.95h-0.95zM448.33,466.87h0.95v0.95h-0.95zM458.61,464.31h0.95v0.95h-0.95zM441.89,480.03h0.95v0.95h-0.95zM442.3,480.81h0.95v0.95h-0.95zM458.95,459.6h0.95v0.95h-0.95zM438.98,481.04h0.95v0.95h-0.95zM459.61,467.15h0.95v0.95h-0.95zM433.54,481.86h0.95v0.95h-0.95zM453.3,463.23h0.95v0.95h-0.95zM453.26,466.73h0.95v0.95h-0.95zM435.65,479.29h0.95v0.95h-0.95zM448.36,476.16h0.95v0.95h-0.95zM450.5,472.72h0.95v0.95h-0.95zM441.15,471.63h0.95v0.95h-0.95zM447.16,472.59h0.95v0.95h-0.95zM434.79,482.18h0.95v0.95h-0.95zM458.06,464.03h0.95v0.95h-0.95zM452.35,474.6h0.95v0.95h-0.95zM451.09,474.63h0.95v0.95h-0.95zM462.61,464.92h0.95v0.95h-0.95zM439.45,480.2h0.95v0.95h-0.95zM443.09,473.74h0.95v0.95h-0.95zM462.07,460.07h0.95v0.95h-0.95zM462.52,462.49h0.95v0.95h-0.95zM443.94,472.28h0.95v0.95h-0.95zM454.02,472.37h0.95v0.95h-0.95zM451.35,476.15h0.95v0.95h-0.95zM456.28,464.65h0.95v0.95h-0.95zM458.42,461.18h0.95v0.95h-0.95zM457.67,462.51h0.95v0.95h-0.95zM432.05,483.82h0.95v0.95h-0.95zM463.63,461h0.95v0.95h-0.95zM440.14,479.53h0.95v0.95h-0.95zM441.24,477.77h0.95v0.95h-0.95zM453.35,472.34h0.95v0.95h-0.95zM457.76,463.06h0.95v0.95h-0.95zM448.37,472.76h0.95v0.95h-0.95zM445.67,479.82h0.95v0.95h-0.95zM435.8,481.93h0.95v0.95h-0.95zM439.07,481.25h0.95v0.95h-0.95zM444,473.07h0.95v0.95h-0.95zM447.54,465.48h0.95v0.95h-0.95zM439.76,480.08h0.95v0.95h-0.95zM454.64,473.47h0.95v0.95h-0.95zM436.75,482.15h0.95v0.95h-0.95zM463.98,463.59h0.95v0.95h-0.95zM445.67,467.57h0.95v0.95h-0.95zM463.63,462.43h0.95v0.95h-0.95zM449.47,474.3h0.95v0.95h-0.95zM444.38,466.85h0.95v0.95h-0.95zM447.69,476.69h0.95v0.95h-0.95z" fill="#111"/>
<polygon points="433.21,482.5 434.62,479.68 436.74,476.86 438.85,474.05 440.96,471.23 443.78,467.71 447.3,464.89 450.82,462.78 454.34,461.37 457.86,460.66 461.39,460.66 464.2,462.07 462.79,464.89 459.98,467.71 457.16,471.23 453.64,474.05 450.12,476.86 446.6,478.98 442.37,480.39 438.14,481.79 434.62,483.2" fill="#000"/>
<path d="M426.36,498.2v1.3M429.85,498.2v1.3M432.32,498.2v1.3M434.24,498.2v1.3M435.81,498.2v1.3M437.13,498.2v1.3M438.28,498.2v1.3M439.29,498.2v1.3M420.4,492.22h-1.3M420.4,488.73h-1.3M420.4,486.25h-1.3M420.4,484.33h-1.3M420.4,482.75h-1.3M420.4,481.42h-1.3M420.4,480.27h-1.3M420.4,479.26h-1.3M446.16,498.2v1.3M449.65,498.2v1.3M452.12,498.2v1.3M454.04,498.2v1.3M455.61,498.2v1.3M456.93,498.2v1.3M458.08,498.2v1.3M459.09,498.2v1.3M420.4,472.37h-1.3M420.4,468.88h-1.3M420.4,466.4h-1.3M420.4,464.48h-1.3M420.4,462.9h-1.3M420.4,461.57h-1.3M420.4,460.42h-1.3M420.4,459.41h-1.3M465.96,498.2v1.3M469.45,498.2v1.3M471.92,498.2v1.3M473.84,498.2v1.3M475.41,498.2v1.3M476.73,498.2v1.3M477.88,498.2v1.3M478.89,498.2v1.3M420.4,452.52h-1.3M420.4,449.03h-1.3M420.4,446.55h-1.3M420.4,444.63h-1.3M420.4,443.05h-1.3M420.4,441.72h-1.3M420.4,440.57h-1.3M420.4,439.56h-1.3M485.76,498.2v1.3M489.25,498.2v1.3M491.72,498.2v1.3M493.64,498.2v1.3M495.21,498.2v1.3M496.53,498.2v1.3M497.68,498.2v1.3M498.69,498.2v1.3M420.4,432.67h-1.3M420.4,429.18h-1.3M420.4,426.7h-1.3M420.4,424.78h-1.3M420.4,423.2h-1.3M420.4,421.87h-1.3M420.4,420.72h-1.3M420.4,419.71h-1.3M420.4,498.2v2M420.4,498.2h-2M440.2,498.2v2M420.4,478.35h-2M460,498.2v2M420.4,458.5h-2M479.8,498.2v2M420.4,438.65h-2M499.6,498.2v2M420.4,418.8h-2" stroke="#222" stroke-width="0.7" fill="none"/>
<line x1="420.4" y1="418.8" x2="499.6" y2="418.8" stroke="#555" stroke-width="0.9"/>
<line x1="499.6" y1="418.35" x2="499.6" y2="498.2" stroke="#333" stroke-width="1.4"/>
<line x1="420.4" y1="418.4" x2="420.4" y2="498.8" stroke="#111" stroke-width="1.5"/>
<line x1="420" y1="498.2" x2="500.2" y2="498.2" stroke="#111" stroke-width="1.6"/>
<line x1="458.2" y1="418.8" x2="458.2" y2="498.2" stroke="#333" stroke-width="1"/>
<line x1="420.4" y1="457.4" x2="499.6" y2="457.4" stroke="#2a2a2a" stroke-width="1.1"/>
<text x="416.3" y="507.5" font-size="6.2" fill="#3a3a3a" textLength="7.9" lengthAdjust="spacingAndGlyphs">10<tspan dy="-2.4" font-size="4.4">0</tspan></text>
<text x="436.1" y="507.5" font-size="6.2" fill="#3a3a3a" textLength="7.9" lengthAdjust="spacingAndGlyphs">10<tspan dy="-2.4" font-size="4.4">1</tspan></text>
<text x="455.9" y="507.5" font-size="6.2" fill="#3a3a3a" textLength="7.9" lengthAdjust="spacingAndGlyphs">10<tspan dy="-2.4" font-size="4.4">2</tspan></text>
<text x="475.7" y="507.5" font-size="6.2" fill="#3a3a3a" textLength="7.9" lengthAdjust="spacingAndGlyphs">10<tspan dy="-2.4" font-size="4.4">3</tspan></text>
<text x="495.5" y="507.5" font-size="6.2" fill="#3a3a3a" textLength="7.9" lengthAdjust="spacingAndGlyphs">10<tspan dy="-2.4" font-size="4.4">4</tspan></text>
<text transform="translate(416.5,503.1) rotate(-90)" font-size="6.8" fill="#3a3a3a" textLength="8.6" lengthAdjust="spacingAndGlyphs">10<tspan dy="-2.6" font-size="4.8">0</tspan></text>
<text transform="translate(416.5,483.25) rotate(-90)" font-size="6.8" fill="#3a3a3a" textLength="8.6" lengthAdjust="spacingAndGlyphs">10<tspan dy="-2.6" font-size="4.8">1</tspan></text>
<text transform="translate(416.5,463.4) rotate(-90)" font-size="6.8" fill="#3a3a3a" textLength="8.6" lengthAdjust="spacingAndGlyphs">10<tspan dy="-2.6" font-size="4.8">2</tspan></text>
<text transform="translate(416.5,443.55) rotate(-90)" font-size="6.8" fill="#3a3a3a" textLength="8.6" lengthAdjust="spacingAndGlyphs">10<tspan dy="-2.6" font-size="4.8">3</tspan></text>
<text transform="translate(416.5,422.6) rotate(-90)" font-size="6.8" fill="#3a3a3a" textLength="5.8" lengthAdjust="spacingAndGlyphs">10</text>
<text x="417.2" y="414" font-size="9" textLength="72.7" lengthAdjust="spacingAndGlyphs" fill="#151515">IACS + cytarabine</text>
<text x="472.9" y="441.7" font-size="10.4" textLength="21.9" lengthAdjust="spacingAndGlyphs" fill="#1a1a1a">7.2%</text>
<text x="472.3" y="488.2" font-size="10.4" textLength="23.1" lengthAdjust="spacingAndGlyphs" fill="#1a1a1a">4.3%</text>
<path d="M51.84,603.9h0.95v0.95h-0.95zM52.66,588.98h0.95v0.95h-0.95zM62.2,583.5h0.95v0.95h-0.95zM48.97,591.62h0.95v0.95h-0.95zM61.13,594.15h0.95v0.95h-0.95zM52.11,581.09h0.95v0.95h-0.95zM58.21,576.93h0.95v0.95h-0.95zM49.73,589.15h0.95v0.95h-0.95zM49.44,598.51h0.95v0.95h-0.95zM57.71,579.19h0.95v0.95h-0.95zM61.22,577.39h0.95v0.95h-0.95zM44.6,583.36h0.95v0.95h-0.95zM61.37,593.55h0.95v0.95h-0.95zM48.82,591.9h0.95v0.95h-0.95z" fill="#888"/>
<path d="M47.81,580.92h0.95v0.95h-0.95zM53.57,575.25h0.95v0.95h-0.95zM47.68,578.94h0.95v0.95h-0.95zM51.43,575.38h0.95v0.95h-0.95zM43.45,582.16h0.95v0.95h-0.95zM51.17,573.95h0.95v0.95h-0.95zM46.75,580.3h0.95v0.95h-0.95zM41.95,583.3h0.95v0.95h-0.95zM48.51,580.69h0.95v0.95h-0.95zM48.1,581.37h0.95v0.95h-0.95zM50.17,574.88h0.95v0.95h-0.95zM50.8,578.28h0.95v0.95h-0.95zM43.51,586.25h0.95v0.95h-0.95zM43.52,585.08h0.95v0.95h-0.95zM52.26,575.46h0.95v0.95h-0.95zM46.93,578.63h0.95v0.95h-0.95zM50.84,574.8h0.95v0.95h-0.95zM50.62,578.5h0.95v0.95h-0.95zM47.97,575.93h0.95v0.95h-0.95zM50.35,574.5h0.95v0.95h-0.95zM45.11,584.63h0.95v0.95h-0.95zM46.34,581.69h0.95v0.95h-0.95zM57.15,571.15h0.95v0.95h-0.95zM52.73,574.25h0.95v0.95h-0.95zM54.24,569.93h0.95v0.95h-0.95zM56.71,573.2h0.95v0.95h-0.95zM58.28,570.64h0.95v0.95h-0.95zM56.95,570.37h0.95v0.95h-0.95zM60.19,568.66h0.95v0.95h-0.95zM53.46,573.23h0.95v0.95h-0.95zM57.42,570.67h0.95v0.95h-0.95zM58.75,568.92h0.95v0.95h-0.95zM60.41,570.11h0.95v0.95h-0.95zM53.82,574.81h0.95v0.95h-0.95zM53.63,571.53h0.95v0.95h-0.95zM59.72,570.92h0.95v0.95h-0.95zM58.44,569.41h0.95v0.95h-0.95zM58.62,568.59h0.95v0.95h-0.95zM68.04,592.53h0.95v0.95h-0.95zM64.73,602.61h0.95v0.95h-0.95zM68.63,596.75h0.95v0.95h-0.95zM73.91,580.78h0.95v0.95h-0.95zM69.61,585.87h0.95v0.95h-0.95zM70.96,577.96h0.95v0.95h-0.95zM68.47,593.61h0.95v0.95h-0.95zM70.42,579.86h0.95v0.95h-0.95zM64.22,602.39h0.95v0.95h-0.95zM70.47,584.93h0.95v0.95h-0.95zM71.5,584.92h0.95v0.95h-0.95zM69.44,590.48h0.95v0.95h-0.95zM69.81,579.74h0.95v0.95h-0.95zM73.9,578.81h0.95v0.95h-0.95zM68.63,593.55h0.95v0.95h-0.95zM67.05,603.76h0.95v0.95h-0.95zM74.03,571.89h0.95v0.95h-0.95zM73.73,577.19h0.95v0.95h-0.95zM73,573.47h0.95v0.95h-0.95zM75.51,573.24h0.95v0.95h-0.95zM71.71,577.23h0.95v0.95h-0.95zM73.38,577.66h0.95v0.95h-0.95zM73.83,573.39h0.95v0.95h-0.95zM73.97,575.95h0.95v0.95h-0.95zM74.77,570.16h0.95v0.95h-0.95zM81.74,566.83h0.95v0.95h-0.95zM77.63,566.81h0.95v0.95h-0.95zM80.21,567.27h0.95v0.95h-0.95zM75.53,572.73h0.95v0.95h-0.95zM72.66,578.18h0.95v0.95h-0.95z" fill="#666"/>
<path d="M53.16,572.58h0.95v0.95h-0.95zM53.47,573.49h0.95v0.95h-0.95zM52.38,572.57h0.95v0.95h-0.95zM51.87,572.75h0.95v0.95h-0.95zM51.77,571.97h0.95v0.95h-0.95zM53.04,572.86h0.95v0.95h-0.95zM51.7,572.42h0.95v0.95h-0.95zM50.84,572.37h0.95v0.95h-0.95zM51.43,573.42h0.95v0.95h-0.95zM52.43,573.33h0.95v0.95h-0.95zM69.22,576.26h0.95v0.95h-0.95zM70.9,576.45h0.95v0.95h-0.95zM70.13,577.12h0.95v0.95h-0.95zM70.88,575.52h0.95v0.95h-0.95zM70.68,575.46h0.95v0.95h-0.95zM69.61,575.01h0.95v0.95h-0.95zM70.83,575.56h0.95v0.95h-0.95zM69.29,575.35h0.95v0.95h-0.95zM68.2,576.57h0.95v0.95h-0.95zM69.72,575.68h0.95v0.95h-0.95zM70.06,576.86h0.95v0.95h-0.95zM69.04,575.82h0.95v0.95h-0.95zM48.9,627.29h0.95v0.95h-0.95zM61.04,605.81h0.95v0.95h-0.95zM65.09,605.11h0.95v0.95h-0.95zM62.78,608.36h0.95v0.95h-0.95zM50.07,629.13h0.95v0.95h-0.95zM65.23,611.88h0.95v0.95h-0.95zM60.95,620.4h0.95v0.95h-0.95zM49.74,632.77h0.95v0.95h-0.95zM65.18,610.05h0.95v0.95h-0.95zM54.9,610.64h0.95v0.95h-0.95zM46.63,609.06h0.95v0.95h-0.95zM48.66,627.06h0.95v0.95h-0.95zM43.62,632.25h0.95v0.95h-0.95zM43.62,621.22h0.95v0.95h-0.95zM62.78,615.13h0.95v0.95h-0.95zM58.29,624.94h0.95v0.95h-0.95zM46.74,617.72h0.95v0.95h-0.95zM53.45,608.78h0.95v0.95h-0.95zM57.51,608.03h0.95v0.95h-0.95zM56.35,610.59h0.95v0.95h-0.95zM44.64,622.81h0.95v0.95h-0.95zM46,619.29h0.95v0.95h-0.95zM55.71,624.57h0.95v0.95h-0.95zM65.93,609.98h0.95v0.95h-0.95zM57.46,624.66h0.95v0.95h-0.95zM63.99,608.04h0.95v0.95h-0.95zM61.41,616.76h0.95v0.95h-0.95zM48.95,614.6h0.95v0.95h-0.95zM53.36,622.88h0.95v0.95h-0.95zM54.66,622.04h0.95v0.95h-0.95zM60.71,607.33h0.95v0.95h-0.95zM62.37,616.12h0.95v0.95h-0.95zM64.66,609.72h0.95v0.95h-0.95zM47.81,616.54h0.95v0.95h-0.95zM61.17,615.65h0.95v0.95h-0.95zM58.22,606.43h0.95v0.95h-0.95zM66.27,612.72h0.95v0.95h-0.95zM58.63,609.02h0.95v0.95h-0.95zM65.48,608.59h0.95v0.95h-0.95zM59.65,617.33h0.95v0.95h-0.95zM41.77,625.07h0.95v0.95h-0.95zM57.66,608.91h0.95v0.95h-0.95zM43.4,632.63h0.95v0.95h-0.95zM51.33,627.99h0.95v0.95h-0.95zM51.97,623.45h0.95v0.95h-0.95zM48.27,629.2h0.95v0.95h-0.95zM49.78,626.69h0.95v0.95h-0.95zM57.98,619.5h0.95v0.95h-0.95zM65.45,607.2h0.95v0.95h-0.95zM57.81,621.2h0.95v0.95h-0.95zM60.94,607.19h0.95v0.95h-0.95zM54.32,611.32h0.95v0.95h-0.95zM62.96,615.52h0.95v0.95h-0.95zM45.73,620.71h0.95v0.95h-0.95zM52.04,610.85h0.95v0.95h-0.95zM64.68,612.04h0.95v0.95h-0.95zM51.02,625.47h0.95v0.95h-0.95zM50.04,606.21h0.95v0.95h-0.95zM42.1,624.87h0.95v0.95h-0.95zM55.03,610.02h0.95v0.95h-0.95zM51.33,613.05h0.95v0.95h-0.95zM49.36,627.75h0.95v0.95h-0.95zM64.72,610.67h0.95v0.95h-0.95zM49.83,628.23h0.95v0.95h-0.95zM48.17,617.07h0.95v0.95h-0.95zM54.63,622.76h0.95v0.95h-0.95zM52.71,613.06h0.95v0.95h-0.95zM65.2,608.85h0.95v0.95h-0.95zM51.54,625.16h0.95v0.95h-0.95zM49.32,615.55h0.95v0.95h-0.95zM58.24,619.18h0.95v0.95h-0.95zM51.95,609.14h0.95v0.95h-0.95zM58.53,618.32h0.95v0.95h-0.95zM59.77,603.75h0.95v0.95h-0.95zM46.17,631.45h0.95v0.95h-0.95zM65.7,610.4h0.95v0.95h-0.95zM45.71,630.03h0.95v0.95h-0.95zM50.08,626.01h0.95v0.95h-0.95zM45.53,617.7h0.95v0.95h-0.95zM65.68,613.9h0.95v0.95h-0.95zM61.23,616.75h0.95v0.95h-0.95zM41.82,631.41h0.95v0.95h-0.95zM54.6,608.8h0.95v0.95h-0.95zM57.58,609.61h0.95v0.95h-0.95zM44,631.85h0.95v0.95h-0.95zM52.59,611.45h0.95v0.95h-0.95zM48.78,627.96h0.95v0.95h-0.95zM49.83,626.73h0.95v0.95h-0.95zM57.18,621.38h0.95v0.95h-0.95zM44.4,633.32h0.95v0.95h-0.95zM60.73,620.4h0.95v0.95h-0.95zM50.66,625.1h0.95v0.95h-0.95zM53.18,611.88h0.95v0.95h-0.95zM59.46,606.7h0.95v0.95h-0.95zM67.53,614h0.95v0.95h-0.95zM50.2,626.24h0.95v0.95h-0.95zM54.08,623.68h0.95v0.95h-0.95zM64.99,610.54h0.95v0.95h-0.95zM62.24,616.99h0.95v0.95h-0.95zM45.56,631.08h0.95v0.95h-0.95zM53.32,608.8h0.95v0.95h-0.95zM64.53,610.44h0.95v0.95h-0.95zM64.91,610.12h0.95v0.95h-0.95zM64.39,609.15h0.95v0.95h-0.95zM52.98,612.16h0.95v0.95h-0.95zM60.1,608.14h0.95v0.95h-0.95zM54.77,609.97h0.95v0.95h-0.95zM44.37,631.6h0.95v0.95h-0.95zM60.03,617.24h0.95v0.95h-0.95zM54.05,609.66h0.95v0.95h-0.95zM50.71,614.63h0.95v0.95h-0.95zM65.51,609.43h0.95v0.95h-0.95zM56.66,608.96h0.95v0.95h-0.95zM57.64,609.08h0.95v0.95h-0.95zM65.37,613.52h0.95v0.95h-0.95zM65.12,609.51h0.95v0.95h-0.95zM55.99,623.63h0.95v0.95h-0.95zM45.02,621.1h0.95v0.95h-0.95zM56.83,607.74h0.95v0.95h-0.95zM56.3,608.37h0.95v0.95h-0.95zM67.93,609.74h0.95v0.95h-0.95zM50.61,613.64h0.95v0.95h-0.95zM45.59,620.56h0.95v0.95h-0.95zM62.05,607.64h0.95v0.95h-0.95zM46.31,616.86h0.95v0.95h-0.95zM55.35,621.56h0.95v0.95h-0.95zM52.15,633.22h0.95v0.95h-0.95zM64.69,610.05h0.95v0.95h-0.95zM61.02,607.66h0.95v0.95h-0.95zM56.66,621.15h0.95v0.95h-0.95zM43.48,622.81h0.95v0.95h-0.95zM54.51,610.94h0.95v0.95h-0.95zM43.11,632.03h0.95v0.95h-0.95zM42.64,625.06h0.95v0.95h-0.95zM60.13,607.05h0.95v0.95h-0.95zM52.15,611.51h0.95v0.95h-0.95zM48.41,628.8h0.95v0.95h-0.95zM61.17,607.83h0.95v0.95h-0.95zM46.13,616.54h0.95v0.95h-0.95zM58.36,606.63h0.95v0.95h-0.95zM57.98,606.84h0.95v0.95h-0.95zM52.73,623.54h0.95v0.95h-0.95zM46.55,631.38h0.95v0.95h-0.95zM55.77,608.76h0.95v0.95h-0.95zM46.08,630.75h0.95v0.95h-0.95zM64.04,609.95h0.95v0.95h-0.95zM52.72,623.85h0.95v0.95h-0.95zM61.09,618.99h0.95v0.95h-0.95zM65.05,609.71h0.95v0.95h-0.95zM46.16,614.31h0.95v0.95h-0.95zM42.25,624.24h0.95v0.95h-0.95zM46.59,629.05h0.95v0.95h-0.95zM55.67,609.94h0.95v0.95h-0.95zM48.11,628.6h0.95v0.95h-0.95zM59.84,607.24h0.95v0.95h-0.95zM60.15,619.22h0.95v0.95h-0.95zM64.68,613.41h0.95v0.95h-0.95zM44.14,632.1h0.95v0.95h-0.95zM55.18,609.82h0.95v0.95h-0.95zM64.45,608.76h0.95v0.95h-0.95zM56.35,608.5h0.95v0.95h-0.95zM60.45,623.69h0.95v0.95h-0.95zM51.44,613.92h0.95v0.95h-0.95zM55.94,621.13h0.95v0.95h-0.95zM41.99,625.15h0.95v0.95h-0.95zM47.61,617.29h0.95v0.95h-0.95zM55.44,624.62h0.95v0.95h-0.95zM56.84,621.93h0.95v0.95h-0.95zM48.19,615.94h0.95v0.95h-0.95zM48.55,609.81h0.95v0.95h-0.95zM45.61,632.06h0.95v0.95h-0.95zM44.83,620.54h0.95v0.95h-0.95zM46.24,620.04h0.95v0.95h-0.95zM51.02,625.1h0.95v0.95h-0.95zM58.61,620.22h0.95v0.95h-0.95zM63.37,614.93h0.95v0.95h-0.95zM50.59,625.53h0.95v0.95h-0.95zM65.48,619.59h0.95v0.95h-0.95zM48.78,628.09h0.95v0.95h-0.95zM41.84,629.06h0.95v0.95h-0.95zM63.92,613.37h0.95v0.95h-0.95zM50.84,625.78h0.95v0.95h-0.95zM42.68,621.98h0.95v0.95h-0.95zM44.61,630.41h0.95v0.95h-0.95zM44.71,620.66h0.95v0.95h-0.95zM49.61,626.55h0.95v0.95h-0.95zM65.36,613.53h0.95v0.95h-0.95z" fill="#111"/>
<path d="M68.57,572.41h0.95v0.95h-0.95zM71.53,571.29h0.95v0.95h-0.95zM68.34,572.14h0.95v0.95h-0.95zM68.93,572.38h0.95v0.95h-0.95zM68.25,572.1h0.95v0.95h-0.95zM70.05,571.24h0.95v0.95h-0.95zM70.55,572.08h0.95v0.95h-0.95zM68.94,570.79h0.95v0.95h-0.95z" fill="#222"/>
<path d="M69.24,602.3h0.95v0.95h-0.95zM67.24,604.47h0.95v0.95h-0.95zM67.44,604.78h0.95v0.95h-0.95zM65.64,605.76h0.95v0.95h-0.95zM68.74,602.75h0.95v0.95h-0.95zM70.45,602.33h0.95v0.95h-0.95zM66.79,605.94h0.95v0.95h-0.95zM66.52,604.56h0.95v0.95h-0.95zM68.73,604.66h0.95v0.95h-0.95zM68.55,604.11h0.95v0.95h-0.95z" fill="#333"/>
<path d="M44.56,625.7h0.95v0.95h-0.95zM56.52,614.39h0.95v0.95h-0.95zM54.08,613.36h0.95v0.95h-0.95zM52.22,618.97h0.95v0.95h-0.95zM58.36,617.73h0.95v0.95h-0.95zM57.15,611.26h0.95v0.95h-0.95zM60.9,610.07h0.95v0.95h-0.95zM53.48,613.61h0.95v0.95h-0.95zM54.17,616.85h0.95v0.95h-0.95zM52.59,614.83h0.95v0.95h-0.95zM61.52,612.63h0.95v0.95h-0.95zM42.57,629.05h0.95v0.95h-0.95zM49.46,617.66h0.95v0.95h-0.95zM60.64,616.05h0.95v0.95h-0.95zM52.25,622.08h0.95v0.95h-0.95zM61.53,611.53h0.95v0.95h-0.95zM49.16,619.98h0.95v0.95h-0.95zM60.85,610.07h0.95v0.95h-0.95zM59.82,613.96h0.95v0.95h-0.95zM57.72,618.35h0.95v0.95h-0.95zM44.11,627.87h0.95v0.95h-0.95zM49.01,625.7h0.95v0.95h-0.95zM49.47,617.37h0.95v0.95h-0.95zM48.86,623.31h0.95v0.95h-0.95zM47.58,623.02h0.95v0.95h-0.95zM54.3,617.85h0.95v0.95h-0.95zM45.54,622.02h0.95v0.95h-0.95zM57.9,617.58h0.95v0.95h-0.95zM58.85,609.79h0.95v0.95h-0.95zM51.67,618.22h0.95v0.95h-0.95zM51.99,619.38h0.95v0.95h-0.95zM52.93,621.93h0.95v0.95h-0.95zM58.07,612.01h0.95v0.95h-0.95zM63.93,611.57h0.95v0.95h-0.95zM56.33,619.34h0.95v0.95h-0.95zM55.47,616.48h0.95v0.95h-0.95zM61.34,608.73h0.95v0.95h-0.95zM46.72,623.06h0.95v0.95h-0.95zM56.38,615.35h0.95v0.95h-0.95zM44.43,623.2h0.95v0.95h-0.95zM61.62,613.95h0.95v0.95h-0.95zM50.76,618.79h0.95v0.95h-0.95zM57.78,609.72h0.95v0.95h-0.95zM47.68,627.41h0.95v0.95h-0.95zM54.48,613.81h0.95v0.95h-0.95zM50.32,620.9h0.95v0.95h-0.95zM44.06,626.36h0.95v0.95h-0.95zM52.33,621.78h0.95v0.95h-0.95zM54.54,613.9h0.95v0.95h-0.95zM58.09,615.98h0.95v0.95h-0.95zM54.49,611.52h0.95v0.95h-0.95zM49.95,621.59h0.95v0.95h-0.95zM60.88,609.06h0.95v0.95h-0.95zM61.03,612.11h0.95v0.95h-0.95zM46.29,628.35h0.95v0.95h-0.95zM44.66,625.94h0.95v0.95h-0.95zM57.82,611.17h0.95v0.95h-0.95zM50.28,618.42h0.95v0.95h-0.95z" fill="#111"/>
<polygon points="42.92,628.9 43.48,625.58 44.58,623.37 46.24,621.15 47.91,618.38 50.12,616.17 52.34,613.95 54.55,612.01 56.77,610.63 58.98,609.52 61.2,609.24 63.14,610.63 63.41,612.01 62.31,614.5 60.09,616.72 57.32,618.94 54.55,621.15 51.78,623.37 49.57,625.58 47.35,627.8 45.14,629.46 43.48,630.01" fill="#000"/>
<path d="M47.14,637.8v1.3M50.79,637.8v1.3M53.38,637.8v1.3M55.39,637.8v1.3M57.03,637.8v1.3M58.41,637.8v1.3M59.62,637.8v1.3M60.68,637.8v1.3M40.9,631.72h-1.3M40.9,628.16h-1.3M40.9,625.64h-1.3M40.9,623.68h-1.3M40.9,622.08h-1.3M40.9,620.73h-1.3M40.9,619.56h-1.3M40.9,618.52h-1.3M67.86,637.8v1.3M71.51,637.8v1.3M74.1,637.8v1.3M76.11,637.8v1.3M77.75,637.8v1.3M79.14,637.8v1.3M80.34,637.8v1.3M81.4,637.8v1.3M40.9,611.52h-1.3M40.9,607.96h-1.3M40.9,605.44h-1.3M40.9,603.48h-1.3M40.9,601.88h-1.3M40.9,600.53h-1.3M40.9,599.36h-1.3M40.9,598.32h-1.3M88.59,637.8v1.3M92.24,637.8v1.3M94.83,637.8v1.3M96.84,637.8v1.3M98.48,637.8v1.3M99.86,637.8v1.3M101.07,637.8v1.3M102.13,637.8v1.3M40.9,591.32h-1.3M40.9,587.76h-1.3M40.9,585.24h-1.3M40.9,583.28h-1.3M40.9,581.68h-1.3M40.9,580.33h-1.3M40.9,579.16h-1.3M40.9,578.12h-1.3M109.31,637.8v1.3M112.96,637.8v1.3M115.55,637.8v1.3M117.56,637.8v1.3M119.2,637.8v1.3M120.59,637.8v1.3M121.79,637.8v1.3M122.85,637.8v1.3M40.9,571.12h-1.3M40.9,567.56h-1.3M40.9,565.04h-1.3M40.9,563.08h-1.3M40.9,561.48h-1.3M40.9,560.13h-1.3M40.9,558.96h-1.3M40.9,557.92h-1.3M40.9,637.8v2M40.9,637.8h-2M61.62,637.8v2M40.9,617.6h-2M82.35,637.8v2M40.9,597.4h-2M103.08,637.8v2M40.9,577.2h-2M123.8,637.8v2M40.9,557h-2" stroke="#222" stroke-width="0.7" fill="none"/>
<line x1="40.9" y1="557" x2="123.8" y2="557" stroke="#555" stroke-width="0.9"/>
<line x1="123.8" y1="556.55" x2="123.8" y2="637.8" stroke="#333" stroke-width="1.4"/>
<line x1="40.9" y1="556.6" x2="40.9" y2="638.4" stroke="#111" stroke-width="1.5"/>
<line x1="40.5" y1="637.8" x2="124.4" y2="637.8" stroke="#111" stroke-width="1.6"/>
<line x1="65.3" y1="557" x2="65.3" y2="637.8" stroke="#333" stroke-width="1"/>
<line x1="40.9" y1="607.5" x2="123.8" y2="607.5" stroke="#2a2a2a" stroke-width="1.1"/>
<text x="36.8" y="647.1" font-size="6.2" fill="#3a3a3a" textLength="7.9" lengthAdjust="spacingAndGlyphs">10<tspan dy="-2.4" font-size="4.4">0</tspan></text>
<text x="57.52" y="647.1" font-size="6.2" fill="#3a3a3a" textLength="7.9" lengthAdjust="spacingAndGlyphs">10<tspan dy="-2.4" font-size="4.4">1</tspan></text>
<text x="78.25" y="647.1" font-size="6.2" fill="#3a3a3a" textLength="7.9" lengthAdjust="spacingAndGlyphs">10<tspan dy="-2.4" font-size="4.4">2</tspan></text>
<text x="98.98" y="647.1" font-size="6.2" fill="#3a3a3a" textLength="7.9" lengthAdjust="spacingAndGlyphs">10<tspan dy="-2.4" font-size="4.4">3</tspan></text>
<text x="119.7" y="647.1" font-size="6.2" fill="#3a3a3a" textLength="7.9" lengthAdjust="spacingAndGlyphs">10<tspan dy="-2.4" font-size="4.4">4</tspan></text>
<text transform="translate(37,642.7) rotate(-90)" font-size="6.8" fill="#3a3a3a" textLength="8.6" lengthAdjust="spacingAndGlyphs">10<tspan dy="-2.6" font-size="4.8">0</tspan></text>
<text transform="translate(37,622.5) rotate(-90)" font-size="6.8" fill="#3a3a3a" textLength="8.6" lengthAdjust="spacingAndGlyphs">10<tspan dy="-2.6" font-size="4.8">1</tspan></text>
<text transform="translate(37,602.3) rotate(-90)" font-size="6.8" fill="#3a3a3a" textLength="8.6" lengthAdjust="spacingAndGlyphs">10<tspan dy="-2.6" font-size="4.8">2</tspan></text>
<text transform="translate(37,582.1) rotate(-90)" font-size="6.8" fill="#3a3a3a" textLength="8.6" lengthAdjust="spacingAndGlyphs">10<tspan dy="-2.6" font-size="4.8">3</tspan></text>
<text transform="translate(37,560.8) rotate(-90)" font-size="6.8" fill="#3a3a3a" textLength="5.8" lengthAdjust="spacingAndGlyphs">10</text>
<text x="61.7" y="552.2" font-size="9" textLength="29.6" lengthAdjust="spacingAndGlyphs" fill="#151515">Control</text>
<text x="95.5" y="573.5" font-size="10.4" textLength="23" lengthAdjust="spacingAndGlyphs" fill="#1a1a1a">1.9%</text>
<text x="94.8" y="631.3" font-size="10.4" textLength="23.7" lengthAdjust="spacingAndGlyphs" fill="#1a1a1a">0.2%</text>
<path d="M198.18,573.19h0.95v0.95h-0.95zM199.86,594.93h0.95v0.95h-0.95zM202.83,604.37h0.95v0.95h-0.95zM204.55,605.07h0.95v0.95h-0.95zM203.55,601.68h0.95v0.95h-0.95zM194.31,587.7h0.95v0.95h-0.95zM203.86,572.45h0.95v0.95h-0.95zM198.36,596.92h0.95v0.95h-0.95zM194.14,573.11h0.95v0.95h-0.95zM196.09,597.68h0.95v0.95h-0.95zM204.25,607.98h0.95v0.95h-0.95zM205.32,607.16h0.95v0.95h-0.95zM197.38,607.02h0.95v0.95h-0.95zM198.42,595.6h0.95v0.95h-0.95zM205.65,604.08h0.95v0.95h-0.95zM198.85,601.93h0.95v0.95h-0.95zM193.51,607.21h0.95v0.95h-0.95zM203.25,583.35h0.95v0.95h-0.95zM205.63,571.6h0.95v0.95h-0.95zM204.11,595.47h0.95v0.95h-0.95zM199.26,600.46h0.95v0.95h-0.95zM196.9,594.85h0.95v0.95h-0.95zM201.92,607.49h0.95v0.95h-0.95zM200.66,576.98h0.95v0.95h-0.95zM203.82,591.45h0.95v0.95h-0.95zM202.9,574.3h0.95v0.95h-0.95zM203.01,571.15h0.95v0.95h-0.95zM199.56,572.2h0.95v0.95h-0.95zM204.29,587.89h0.95v0.95h-0.95zM199.37,607.9h0.95v0.95h-0.95zM204.12,592.62h0.95v0.95h-0.95zM204.47,604.02h0.95v0.95h-0.95zM198.9,588.04h0.95v0.95h-0.95zM193.43,586.39h0.95v0.95h-0.95zM195.57,578.23h0.95v0.95h-0.95zM200.65,571.85h0.95v0.95h-0.95zM205.42,577.1h0.95v0.95h-0.95zM193.43,592.69h0.95v0.95h-0.95zM194.29,588.76h0.95v0.95h-0.95zM202.37,589.49h0.95v0.95h-0.95zM195.42,587.36h0.95v0.95h-0.95zM198.97,594.12h0.95v0.95h-0.95zM204.52,597.8h0.95v0.95h-0.95zM198.74,576.13h0.95v0.95h-0.95zM204.2,587.73h0.95v0.95h-0.95zM203.29,578.1h0.95v0.95h-0.95zM202.55,584.45h0.95v0.95h-0.95zM194.55,604.97h0.95v0.95h-0.95zM202.58,576.81h0.95v0.95h-0.95zM202.57,606.81h0.95v0.95h-0.95zM202.99,595.78h0.95v0.95h-0.95zM202.55,586.98h0.95v0.95h-0.95zM196.18,576.36h0.95v0.95h-0.95zM199.97,588.11h0.95v0.95h-0.95zM198.2,581.49h0.95v0.95h-0.95zM196.66,578.06h0.95v0.95h-0.95zM202.58,574.46h0.95v0.95h-0.95zM205,596.67h0.95v0.95h-0.95zM200.99,605.07h0.95v0.95h-0.95zM200.86,585.15h0.95v0.95h-0.95zM196.74,594.61h0.95v0.95h-0.95zM203.18,602.1h0.95v0.95h-0.95zM195.05,597.99h0.95v0.95h-0.95zM205.16,570.69h0.95v0.95h-0.95zM203.12,596.66h0.95v0.95h-0.95zM202.15,605.74h0.95v0.95h-0.95zM193.19,604.66h0.95v0.95h-0.95zM204.94,583.88h0.95v0.95h-0.95zM198.14,586.19h0.95v0.95h-0.95zM198.56,592.61h0.95v0.95h-0.95zM205.25,607.54h0.95v0.95h-0.95zM193.08,596.95h0.95v0.95h-0.95zM203.47,587.25h0.95v0.95h-0.95zM198.7,584.38h0.95v0.95h-0.95zM199.98,579.08h0.95v0.95h-0.95zM199.14,595.58h0.95v0.95h-0.95zM199.01,573.16h0.95v0.95h-0.95zM194.75,602.79h0.95v0.95h-0.95zM202.84,577.05h0.95v0.95h-0.95zM198.5,591.85h0.95v0.95h-0.95zM201.49,586.32h0.95v0.95h-0.95zM193.33,593.55h0.95v0.95h-0.95zM200.43,581.54h0.95v0.95h-0.95zM196.01,594.89h0.95v0.95h-0.95zM204.44,598.48h0.95v0.95h-0.95zM203.62,581.38h0.95v0.95h-0.95zM203.57,576.95h0.95v0.95h-0.95zM198.94,589.27h0.95v0.95h-0.95zM196.61,606.05h0.95v0.95h-0.95zM202.68,579.88h0.95v0.95h-0.95zM195.8,572.74h0.95v0.95h-0.95zM197.73,576.21h0.95v0.95h-0.95zM196.57,586.92h0.95v0.95h-0.95zM202.33,606.32h0.95v0.95h-0.95zM205.14,583.11h0.95v0.95h-0.95zM196.18,572.39h0.95v0.95h-0.95zM197.72,584.64h0.95v0.95h-0.95zM194.54,579.64h0.95v0.95h-0.95zM204.7,585.62h0.95v0.95h-0.95zM203.62,601.13h0.95v0.95h-0.95zM196.25,581.93h0.95v0.95h-0.95zM199.08,576.34h0.95v0.95h-0.95zM194.78,585.21h0.95v0.95h-0.95zM198.55,576.28h0.95v0.95h-0.95zM201.63,607.64h0.95v0.95h-0.95zM205.39,605.97h0.95v0.95h-0.95zM196.72,606.76h0.95v0.95h-0.95zM195.41,570h0.95v0.95h-0.95zM198.83,604.74h0.95v0.95h-0.95zM205.69,599.81h0.95v0.95h-0.95z" fill="#444"/>
<path d="M179.89,607.52h0.95v0.95h-0.95zM173.47,599.65h0.95v0.95h-0.95zM190.33,602.59h0.95v0.95h-0.95zM186.47,605.64h0.95v0.95h-0.95zM178.43,576.44h0.95v0.95h-0.95zM190.08,576.16h0.95v0.95h-0.95zM175.65,580.11h0.95v0.95h-0.95zM177.13,604.79h0.95v0.95h-0.95zM183.98,585.86h0.95v0.95h-0.95zM177.65,577.36h0.95v0.95h-0.95zM184.79,583.18h0.95v0.95h-0.95zM175.1,586.15h0.95v0.95h-0.95zM192.01,585.57h0.95v0.95h-0.95zM189.62,598.26h0.95v0.95h-0.95zM189.57,587.93h0.95v0.95h-0.95zM191.39,583.35h0.95v0.95h-0.95zM184.12,578.54h0.95v0.95h-0.95zM180.15,580.4h0.95v0.95h-0.95zM188.26,590.18h0.95v0.95h-0.95zM187.88,605.98h0.95v0.95h-0.95zM174.93,607.47h0.95v0.95h-0.95zM181.06,574.2h0.95v0.95h-0.95zM191,602.3h0.95v0.95h-0.95zM178.95,598.05h0.95v0.95h-0.95zM191.13,593.32h0.95v0.95h-0.95zM188.57,600.1h0.95v0.95h-0.95zM190.18,582.81h0.95v0.95h-0.95zM174.34,593.62h0.95v0.95h-0.95zM184.09,602.25h0.95v0.95h-0.95zM192.25,589.77h0.95v0.95h-0.95zM189.25,589.68h0.95v0.95h-0.95zM175.09,607.05h0.95v0.95h-0.95zM174.47,604.18h0.95v0.95h-0.95zM192.67,592.8h0.95v0.95h-0.95zM185.11,578.14h0.95v0.95h-0.95zM192.29,598.72h0.95v0.95h-0.95zM192.85,577.85h0.95v0.95h-0.95zM183.64,599.19h0.95v0.95h-0.95zM189.8,577.73h0.95v0.95h-0.95zM188.25,595.95h0.95v0.95h-0.95z" fill="#777"/>
<path d="M200.99,572.67h0.95v0.95h-0.95zM211.42,581.57h0.95v0.95h-0.95zM205.51,577.38h0.95v0.95h-0.95zM205.27,591.66h0.95v0.95h-0.95zM205.57,581.17h0.95v0.95h-0.95zM206.09,584.5h0.95v0.95h-0.95zM204.67,573.44h0.95v0.95h-0.95zM203.13,584.95h0.95v0.95h-0.95zM210.96,591.94h0.95v0.95h-0.95zM210.05,573.12h0.95v0.95h-0.95zM200.61,568.57h0.95v0.95h-0.95zM214.84,589.52h0.95v0.95h-0.95zM208,574.23h0.95v0.95h-0.95zM211.61,569.08h0.95v0.95h-0.95zM202.72,576.29h0.95v0.95h-0.95z" fill="#888"/>
<path d="M198.72,613.63h0.95v0.95h-0.95zM180.31,630.2h0.95v0.95h-0.95zM173.64,635.31h0.95v0.95h-0.95zM185.46,629.26h0.95v0.95h-0.95zM191.47,619.82h0.95v0.95h-0.95zM192.71,618.56h0.95v0.95h-0.95zM192.45,606.76h0.95v0.95h-0.95zM201.06,602.8h0.95v0.95h-0.95zM173.9,634.39h0.95v0.95h-0.95zM190.89,622.41h0.95v0.95h-0.95zM173.36,635.51h0.95v0.95h-0.95zM197.15,614.61h0.95v0.95h-0.95zM185.9,608.24h0.95v0.95h-0.95zM199.1,611.56h0.95v0.95h-0.95zM189.57,621.25h0.95v0.95h-0.95zM187.96,609.51h0.95v0.95h-0.95zM197.99,602.46h0.95v0.95h-0.95zM179.67,631.26h0.95v0.95h-0.95zM180.55,614.54h0.95v0.95h-0.95zM176.66,615.09h0.95v0.95h-0.95zM172.6,635.04h0.95v0.95h-0.95zM173.08,623.98h0.95v0.95h-0.95zM188.73,629.74h0.95v0.95h-0.95zM176.6,614.65h0.95v0.95h-0.95zM200.8,603.54h0.95v0.95h-0.95zM172.08,624.17h0.95v0.95h-0.95zM192.26,606.73h0.95v0.95h-0.95zM199.28,602.18h0.95v0.95h-0.95zM194.06,604.63h0.95v0.95h-0.95zM174.73,618.03h0.95v0.95h-0.95zM173.17,623.54h0.95v0.95h-0.95zM177.25,631.91h0.95v0.95h-0.95zM186.08,608.6h0.95v0.95h-0.95zM191.5,606.93h0.95v0.95h-0.95zM173.14,634.86h0.95v0.95h-0.95zM178.7,618h0.95v0.95h-0.95zM185.91,611.49h0.95v0.95h-0.95zM199.64,604.03h0.95v0.95h-0.95zM173.07,635.1h0.95v0.95h-0.95zM178.95,616.87h0.95v0.95h-0.95zM186.48,624.53h0.95v0.95h-0.95zM178.8,617.14h0.95v0.95h-0.95zM178.12,632.93h0.95v0.95h-0.95zM172.13,619.91h0.95v0.95h-0.95zM177.69,633.53h0.95v0.95h-0.95zM186.41,624.11h0.95v0.95h-0.95zM173.5,622.73h0.95v0.95h-0.95zM180.27,631.81h0.95v0.95h-0.95zM190.98,620.67h0.95v0.95h-0.95zM195.38,602.87h0.95v0.95h-0.95zM191.79,619.57h0.95v0.95h-0.95zM177.51,631.53h0.95v0.95h-0.95zM185.72,624.51h0.95v0.95h-0.95zM199.84,610.94h0.95v0.95h-0.95zM171.72,627.35h0.95v0.95h-0.95zM196.6,602.78h0.95v0.95h-0.95zM176.12,618.53h0.95v0.95h-0.95zM186.21,625.02h0.95v0.95h-0.95zM186.95,609.77h0.95v0.95h-0.95zM195.97,604.54h0.95v0.95h-0.95zM179.52,633.46h0.95v0.95h-0.95zM181.6,630.2h0.95v0.95h-0.95zM202.32,609.11h0.95v0.95h-0.95zM199.67,613.01h0.95v0.95h-0.95zM176.89,619.22h0.95v0.95h-0.95zM184.49,626.54h0.95v0.95h-0.95zM175.36,633.04h0.95v0.95h-0.95zM184.08,628.03h0.95v0.95h-0.95zM185.36,611.29h0.95v0.95h-0.95zM194.3,616.98h0.95v0.95h-0.95zM184.49,611.09h0.95v0.95h-0.95zM179.42,629.7h0.95v0.95h-0.95zM172.35,622.69h0.95v0.95h-0.95zM178.16,632.17h0.95v0.95h-0.95zM200.23,605.52h0.95v0.95h-0.95zM177.92,612.55h0.95v0.95h-0.95zM184.03,612.42h0.95v0.95h-0.95zM191.95,618.07h0.95v0.95h-0.95zM173.37,635.75h0.95v0.95h-0.95zM183.49,628.03h0.95v0.95h-0.95zM198.8,604.65h0.95v0.95h-0.95zM193.13,606.13h0.95v0.95h-0.95zM196.54,615.35h0.95v0.95h-0.95zM200.44,606.72h0.95v0.95h-0.95zM190.94,619.53h0.95v0.95h-0.95zM200.6,608.43h0.95v0.95h-0.95zM188.43,609.14h0.95v0.95h-0.95zM193.15,617.02h0.95v0.95h-0.95zM195.92,619.29h0.95v0.95h-0.95zM180.54,629.48h0.95v0.95h-0.95zM200.85,612.4h0.95v0.95h-0.95zM187.06,634.91h0.95v0.95h-0.95zM176.03,633.91h0.95v0.95h-0.95zM182.3,608.48h0.95v0.95h-0.95zM174.69,622.53h0.95v0.95h-0.95zM192.22,618.1h0.95v0.95h-0.95zM197.67,603.65h0.95v0.95h-0.95zM190.99,619.07h0.95v0.95h-0.95zM192.18,604.4h0.95v0.95h-0.95zM187.28,624.22h0.95v0.95h-0.95zM181.38,614.67h0.95v0.95h-0.95zM193.16,617.05h0.95v0.95h-0.95zM197.3,604.23h0.95v0.95h-0.95zM178.93,631.87h0.95v0.95h-0.95zM189.52,602.46h0.95v0.95h-0.95zM172.68,612.43h0.95v0.95h-0.95zM198.17,604.46h0.95v0.95h-0.95zM174.26,621.94h0.95v0.95h-0.95zM199.35,616.56h0.95v0.95h-0.95zM174.03,635.56h0.95v0.95h-0.95zM176.29,610.44h0.95v0.95h-0.95zM174.32,621.03h0.95v0.95h-0.95zM175.49,620.81h0.95v0.95h-0.95zM184.2,625.65h0.95v0.95h-0.95zM178.81,632.03h0.95v0.95h-0.95zM186.36,610.81h0.95v0.95h-0.95zM191.57,603.38h0.95v0.95h-0.95zM192.92,605.86h0.95v0.95h-0.95zM181.21,628.41h0.95v0.95h-0.95zM196.91,614.66h0.95v0.95h-0.95zM177.14,619.15h0.95v0.95h-0.95zM194.33,632.71h0.95v0.95h-0.95zM185.22,625.45h0.95v0.95h-0.95zM179.47,631.11h0.95v0.95h-0.95zM171.14,626.96h0.95v0.95h-0.95zM200.7,603.35h0.95v0.95h-0.95zM174.41,635.81h0.95v0.95h-0.95zM197.4,613.07h0.95v0.95h-0.95zM173.84,621.23h0.95v0.95h-0.95zM200.57,610.77h0.95v0.95h-0.95zM174.3,621.51h0.95v0.95h-0.95zM174.08,621.16h0.95v0.95h-0.95zM190.48,607.39h0.95v0.95h-0.95zM189.84,606.25h0.95v0.95h-0.95zM189.97,606.99h0.95v0.95h-0.95zM191.64,602.86h0.95v0.95h-0.95zM180.85,629.33h0.95v0.95h-0.95zM187.04,624.89h0.95v0.95h-0.95zM175.07,635.54h0.95v0.95h-0.95zM177.54,617.15h0.95v0.95h-0.95zM192.19,621.06h0.95v0.95h-0.95zM189.84,604.55h0.95v0.95h-0.95zM200.61,607.03h0.95v0.95h-0.95zM195.82,601.22h0.95v0.95h-0.95zM173.85,621.34h0.95v0.95h-0.95zM174.48,634.28h0.95v0.95h-0.95zM185.21,624.56h0.95v0.95h-0.95zM179.94,630.1h0.95v0.95h-0.95zM201.96,607.39h0.95v0.95h-0.95zM199.62,611.21h0.95v0.95h-0.95zM186.54,626.12h0.95v0.95h-0.95zM177.89,616.92h0.95v0.95h-0.95zM195.44,603.87h0.95v0.95h-0.95zM184.51,607.55h0.95v0.95h-0.95zM182.78,627.27h0.95v0.95h-0.95zM173.73,622.69h0.95v0.95h-0.95zM181.1,608.84h0.95v0.95h-0.95zM191.46,606.69h0.95v0.95h-0.95zM181.44,629.16h0.95v0.95h-0.95zM174.63,620.15h0.95v0.95h-0.95zM175.08,621.3h0.95v0.95h-0.95zM204.44,608.7h0.95v0.95h-0.95zM191.83,619.73h0.95v0.95h-0.95zM187.63,622.27h0.95v0.95h-0.95zM200.85,609.66h0.95v0.95h-0.95zM186.39,624.38h0.95v0.95h-0.95zM171.3,628.29h0.95v0.95h-0.95zM195.2,604.76h0.95v0.95h-0.95zM172.25,620.04h0.95v0.95h-0.95zM199.02,605.36h0.95v0.95h-0.95zM185.06,630.18h0.95v0.95h-0.95zM181.78,614.86h0.95v0.95h-0.95zM201.24,610.33h0.95v0.95h-0.95zM184.55,603.93h0.95v0.95h-0.95zM175.73,619.8h0.95v0.95h-0.95zM200.47,609h0.95v0.95h-0.95zM196.91,613.33h0.95v0.95h-0.95zM189.73,607.82h0.95v0.95h-0.95zM199.22,610.88h0.95v0.95h-0.95zM175.32,613.9h0.95v0.95h-0.95zM177.91,631.86h0.95v0.95h-0.95zM195.14,605.12h0.95v0.95h-0.95zM180.06,611.76h0.95v0.95h-0.95zM200.83,608.54h0.95v0.95h-0.95zM185.91,610.95h0.95v0.95h-0.95zM186.84,609.98h0.95v0.95h-0.95zM201.94,605.78h0.95v0.95h-0.95zM184.12,610.53h0.95v0.95h-0.95zM200.57,613.84h0.95v0.95h-0.95zM190.96,606.76h0.95v0.95h-0.95zM174.69,618.53h0.95v0.95h-0.95zM182.59,613.06h0.95v0.95h-0.95zM175.56,620.92h0.95v0.95h-0.95zM183.07,610.71h0.95v0.95h-0.95zM174.07,622.85h0.95v0.95h-0.95zM184.87,608.11h0.95v0.95h-0.95zM182.02,614.15h0.95v0.95h-0.95z" fill="#111"/>
<path d="M180.58,627.55h0.95v0.95h-0.95zM184.13,613.99h0.95v0.95h-0.95zM175.26,626.31h0.95v0.95h-0.95zM193.56,611.07h0.95v0.95h-0.95zM181.19,627.76h0.95v0.95h-0.95zM184.19,624.23h0.95v0.95h-0.95zM175.05,625.3h0.95v0.95h-0.95zM195.13,609.18h0.95v0.95h-0.95zM186.48,619.91h0.95v0.95h-0.95zM198.84,607.83h0.95v0.95h-0.95zM186.9,621.49h0.95v0.95h-0.95zM174.61,626.31h0.95v0.95h-0.95zM185.6,619.01h0.95v0.95h-0.95zM185.56,618.05h0.95v0.95h-0.95zM181.57,626.73h0.95v0.95h-0.95zM198.96,609.01h0.95v0.95h-0.95zM198.42,607.23h0.95v0.95h-0.95zM176.54,624.37h0.95v0.95h-0.95zM179.42,629.09h0.95v0.95h-0.95zM196.37,611.86h0.95v0.95h-0.95zM195.54,611.15h0.95v0.95h-0.95zM174.68,629.77h0.95v0.95h-0.95zM173.14,629.7h0.95v0.95h-0.95zM185.97,623.71h0.95v0.95h-0.95zM188.96,617.05h0.95v0.95h-0.95zM182.79,618.92h0.95v0.95h-0.95zM185.47,616.01h0.95v0.95h-0.95zM183.42,613.87h0.95v0.95h-0.95zM171.3,629.86h0.95v0.95h-0.95zM182.32,626.18h0.95v0.95h-0.95zM175.98,629.16h0.95v0.95h-0.95zM174.33,631.55h0.95v0.95h-0.95zM192.87,614.12h0.95v0.95h-0.95zM182.25,624.54h0.95v0.95h-0.95zM190.06,618.64h0.95v0.95h-0.95zM192.89,611.09h0.95v0.95h-0.95zM178.23,627.44h0.95v0.95h-0.95zM180.68,620.02h0.95v0.95h-0.95zM183.6,617.98h0.95v0.95h-0.95zM184.51,614.96h0.95v0.95h-0.95zM194.54,606.41h0.95v0.95h-0.95zM177.13,629.68h0.95v0.95h-0.95zM185.38,620.43h0.95v0.95h-0.95zM179.9,616.94h0.95v0.95h-0.95zM179.8,626.17h0.95v0.95h-0.95zM184.6,624.02h0.95v0.95h-0.95zM181.43,616.4h0.95v0.95h-0.95zM194.54,612.36h0.95v0.95h-0.95zM177.6,624.6h0.95v0.95h-0.95zM172.69,633.26h0.95v0.95h-0.95zM173.26,632.57h0.95v0.95h-0.95zM184.51,614.38h0.95v0.95h-0.95zM180.9,621.06h0.95v0.95h-0.95zM194.41,605.98h0.95v0.95h-0.95zM177.04,620.01h0.95v0.95h-0.95zM192,610.15h0.95v0.95h-0.95zM176.48,626.6h0.95v0.95h-0.95zM175.56,623.1h0.95v0.95h-0.95zM184.91,618.83h0.95v0.95h-0.95zM173.26,633.17h0.95v0.95h-0.95zM186.12,618.64h0.95v0.95h-0.95zM180.89,617.47h0.95v0.95h-0.95zM181.99,626.28h0.95v0.95h-0.95zM199.77,607.37h0.95v0.95h-0.95zM196.45,604.99h0.95v0.95h-0.95zM180.04,619.83h0.95v0.95h-0.95zM196.25,612.29h0.95v0.95h-0.95zM179.66,627.68h0.95v0.95h-0.95zM181.82,618.19h0.95v0.95h-0.95zM179.13,622.67h0.95v0.95h-0.95zM178.25,626.83h0.95v0.95h-0.95zM197.9,608.88h0.95v0.95h-0.95zM185.65,620.96h0.95v0.95h-0.95zM178.32,622.25h0.95v0.95h-0.95zM189.8,613.98h0.95v0.95h-0.95zM180.05,628.13h0.95v0.95h-0.95zM183.78,615.6h0.95v0.95h-0.95zM192.67,609.65h0.95v0.95h-0.95zM190.72,609.81h0.95v0.95h-0.95zM188.74,619.69h0.95v0.95h-0.95zM170.35,630.92h0.95v0.95h-0.95zM178.04,629.29h0.95v0.95h-0.95zM188.82,611.16h0.95v0.95h-0.95zM191.9,609.01h0.95v0.95h-0.95zM172.48,631.23h0.95v0.95h-0.95zM182.28,623.54h0.95v0.95h-0.95zM185.82,616.83h0.95v0.95h-0.95zM186.55,618.6h0.95v0.95h-0.95zM189.35,613.75h0.95v0.95h-0.95zM187.86,615.02h0.95v0.95h-0.95zM199.18,605.93h0.95v0.95h-0.95zM172.4,635.65h0.95v0.95h-0.95zM197.69,609.52h0.95v0.95h-0.95zM174.68,626.82h0.95v0.95h-0.95zM173.07,625.51h0.95v0.95h-0.95zM176.65,629.59h0.95v0.95h-0.95z" fill="#111"/>
<polygon points="171.71,634.05 171.71,629.21 173.09,626.44 175.17,622.98 177.25,620.21 180.02,617.44 182.78,614.67 185.55,612.59 188.32,610.51 191.09,608.44 193.86,606.36 195.94,605.67 198.02,607.05 198.71,610.51 195.94,613.28 192.48,616.74 189.02,620.21 185.55,623.67 182.09,627.13 178.63,629.9 175.17,632.67 172.75,634.74" fill="#000"/>
<path d="M176.38,637.5v1.3M179.94,637.5v1.3M182.46,637.5v1.3M184.42,637.5v1.3M186.02,637.5v1.3M187.37,637.5v1.3M188.54,637.5v1.3M189.58,637.5v1.3M170.3,631.51h-1.3M170.3,628.01h-1.3M170.3,625.52h-1.3M170.3,623.59h-1.3M170.3,622.01h-1.3M170.3,620.68h-1.3M170.3,619.53h-1.3M170.3,618.51h-1.3M196.58,637.5v1.3M200.14,637.5v1.3M202.66,637.5v1.3M204.62,637.5v1.3M206.22,637.5v1.3M207.57,637.5v1.3M208.74,637.5v1.3M209.78,637.5v1.3M170.3,611.61h-1.3M170.3,608.11h-1.3M170.3,605.62h-1.3M170.3,603.69h-1.3M170.3,602.11h-1.3M170.3,600.78h-1.3M170.3,599.63h-1.3M170.3,598.61h-1.3M216.78,637.5v1.3M220.34,637.5v1.3M222.86,637.5v1.3M224.82,637.5v1.3M226.42,637.5v1.3M227.77,637.5v1.3M228.94,637.5v1.3M229.98,637.5v1.3M170.3,591.71h-1.3M170.3,588.21h-1.3M170.3,585.72h-1.3M170.3,583.79h-1.3M170.3,582.21h-1.3M170.3,580.88h-1.3M170.3,579.73h-1.3M170.3,578.71h-1.3M236.98,637.5v1.3M240.54,637.5v1.3M243.06,637.5v1.3M245.02,637.5v1.3M246.62,637.5v1.3M247.97,637.5v1.3M249.14,637.5v1.3M250.18,637.5v1.3M170.3,571.81h-1.3M170.3,568.31h-1.3M170.3,565.82h-1.3M170.3,563.89h-1.3M170.3,562.31h-1.3M170.3,560.98h-1.3M170.3,559.83h-1.3M170.3,558.81h-1.3M170.3,637.5v2M170.3,637.5h-2M190.5,637.5v2M170.3,617.6h-2M210.7,637.5v2M170.3,597.7h-2M230.9,637.5v2M170.3,577.8h-2M251.1,637.5v2M170.3,557.9h-2" stroke="#222" stroke-width="0.7" fill="none"/>
<line x1="170.3" y1="557.9" x2="251.1" y2="557.9" stroke="#555" stroke-width="0.9"/>
<line x1="251.1" y1="557.45" x2="251.1" y2="637.5" stroke="#333" stroke-width="1.4"/>
<line x1="170.3" y1="557.5" x2="170.3" y2="638.1" stroke="#111" stroke-width="1.5"/>
<line x1="169.9" y1="637.5" x2="251.7" y2="637.5" stroke="#111" stroke-width="1.6"/>
<line x1="194.2" y1="557.9" x2="194.2" y2="637.5" stroke="#333" stroke-width="1"/>
<line x1="170.3" y1="607.8" x2="251.1" y2="607.8" stroke="#2a2a2a" stroke-width="1.1"/>
<text x="166.2" y="646.8" font-size="6.2" fill="#3a3a3a" textLength="7.9" lengthAdjust="spacingAndGlyphs">10<tspan dy="-2.4" font-size="4.4">0</tspan></text>
<text x="186.4" y="646.8" font-size="6.2" fill="#3a3a3a" textLength="7.9" lengthAdjust="spacingAndGlyphs">10<tspan dy="-2.4" font-size="4.4">1</tspan></text>
<text x="206.6" y="646.8" font-size="6.2" fill="#3a3a3a" textLength="7.9" lengthAdjust="spacingAndGlyphs">10<tspan dy="-2.4" font-size="4.4">2</tspan></text>
<text x="226.8" y="646.8" font-size="6.2" fill="#3a3a3a" textLength="7.9" lengthAdjust="spacingAndGlyphs">10<tspan dy="-2.4" font-size="4.4">3</tspan></text>
<text x="247" y="646.8" font-size="6.2" fill="#3a3a3a" textLength="7.9" lengthAdjust="spacingAndGlyphs">10<tspan dy="-2.4" font-size="4.4">4</tspan></text>
<text transform="translate(166.4,642.4) rotate(-90)" font-size="6.8" fill="#3a3a3a" textLength="8.6" lengthAdjust="spacingAndGlyphs">10<tspan dy="-2.6" font-size="4.8">0</tspan></text>
<text transform="translate(166.4,622.5) rotate(-90)" font-size="6.8" fill="#3a3a3a" textLength="8.6" lengthAdjust="spacingAndGlyphs">10<tspan dy="-2.6" font-size="4.8">1</tspan></text>
<text transform="translate(166.4,602.6) rotate(-90)" font-size="6.8" fill="#3a3a3a" textLength="8.6" lengthAdjust="spacingAndGlyphs">10<tspan dy="-2.6" font-size="4.8">2</tspan></text>
<text transform="translate(166.4,582.7) rotate(-90)" font-size="6.8" fill="#3a3a3a" textLength="8.6" lengthAdjust="spacingAndGlyphs">10<tspan dy="-2.6" font-size="4.8">3</tspan></text>
<text transform="translate(166.4,561.7) rotate(-90)" font-size="6.8" fill="#3a3a3a" textLength="5.8" lengthAdjust="spacingAndGlyphs">10</text>
<text x="194.1" y="552.2" font-size="9" textLength="21.2" lengthAdjust="spacingAndGlyphs" fill="#151515">IACS</text>
<text x="220.5" y="573.6" font-size="10.4" textLength="23" lengthAdjust="spacingAndGlyphs" fill="#1a1a1a">2.3%</text>
<text x="220.5" y="630.7" font-size="10.4" textLength="23" lengthAdjust="spacingAndGlyphs" fill="#1a1a1a">1.5%</text>
<path d="M325.36,569.88h0.95v0.95h-0.95zM330.76,592.37h0.95v0.95h-0.95zM314.65,583.61h0.95v0.95h-0.95zM320.04,577.51h0.95v0.95h-0.95zM320.46,577.52h0.95v0.95h-0.95zM321.79,594.88h0.95v0.95h-0.95zM326.18,591.41h0.95v0.95h-0.95zM309.83,588.7h0.95v0.95h-0.95zM315.75,583.3h0.95v0.95h-0.95zM307.56,590.94h0.95v0.95h-0.95zM310.76,576.94h0.95v0.95h-0.95zM318.99,580.71h0.95v0.95h-0.95zM308.97,597.9h0.95v0.95h-0.95zM329.56,575.18h0.95v0.95h-0.95zM325.46,596.93h0.95v0.95h-0.95zM335.55,570.54h0.95v0.95h-0.95zM305.17,597.97h0.95v0.95h-0.95zM311.07,589.3h0.95v0.95h-0.95zM327.36,585.9h0.95v0.95h-0.95zM309.74,592.18h0.95v0.95h-0.95zM329.88,575.69h0.95v0.95h-0.95zM314.27,587.44h0.95v0.95h-0.95zM317.93,572.87h0.95v0.95h-0.95zM317.38,575.2h0.95v0.95h-0.95zM327.94,601.81h0.95v0.95h-0.95zM328.47,588.06h0.95v0.95h-0.95zM330.09,585.27h0.95v0.95h-0.95zM315.79,602.44h0.95v0.95h-0.95zM334.07,574.12h0.95v0.95h-0.95zM322.99,571.66h0.95v0.95h-0.95zM305.29,590.09h0.95v0.95h-0.95zM329.16,594.29h0.95v0.95h-0.95zM323.79,599.66h0.95v0.95h-0.95zM324.71,602.1h0.95v0.95h-0.95zM328.73,579.48h0.95v0.95h-0.95zM322.28,605.74h0.95v0.95h-0.95zM330.29,574.04h0.95v0.95h-0.95zM329.66,587.28h0.95v0.95h-0.95zM314.09,580.41h0.95v0.95h-0.95zM310.37,586.38h0.95v0.95h-0.95zM328.76,572.3h0.95v0.95h-0.95zM317.67,584.99h0.95v0.95h-0.95zM329.94,588.23h0.95v0.95h-0.95zM303.49,591.24h0.95v0.95h-0.95zM311.56,584.22h0.95v0.95h-0.95zM320.17,598.25h0.95v0.95h-0.95zM318.85,606.69h0.95v0.95h-0.95zM312.51,580.22h0.95v0.95h-0.95zM302.42,590.48h0.95v0.95h-0.95zM325.39,581.93h0.95v0.95h-0.95zM314.97,601.62h0.95v0.95h-0.95zM330,598.71h0.95v0.95h-0.95zM311.85,595.97h0.95v0.95h-0.95zM310.16,587.95h0.95v0.95h-0.95zM313.77,579.51h0.95v0.95h-0.95zM314.67,571.48h0.95v0.95h-0.95zM324.18,573.33h0.95v0.95h-0.95zM333.35,577.43h0.95v0.95h-0.95zM326.91,586.97h0.95v0.95h-0.95zM314.68,605.82h0.95v0.95h-0.95zM318.31,578.29h0.95v0.95h-0.95zM314.94,589.31h0.95v0.95h-0.95zM313.22,604.97h0.95v0.95h-0.95zM313.71,596.96h0.95v0.95h-0.95zM324.76,605.54h0.95v0.95h-0.95zM319.64,575.53h0.95v0.95h-0.95zM328.98,575.11h0.95v0.95h-0.95zM303.56,590.83h0.95v0.95h-0.95zM333.3,569.99h0.95v0.95h-0.95zM334.87,573.36h0.95v0.95h-0.95zM320.44,595.45h0.95v0.95h-0.95zM323.51,574.94h0.95v0.95h-0.95zM303.91,601.04h0.95v0.95h-0.95zM322.66,585.65h0.95v0.95h-0.95zM314.08,594.1h0.95v0.95h-0.95zM329.93,576.7h0.95v0.95h-0.95zM323.23,572.33h0.95v0.95h-0.95zM325.44,591.26h0.95v0.95h-0.95zM312.44,589.33h0.95v0.95h-0.95zM314.28,596.03h0.95v0.95h-0.95zM321.01,591.22h0.95v0.95h-0.95zM326.66,586.3h0.95v0.95h-0.95zM312.23,592.79h0.95v0.95h-0.95zM326.67,590.64h0.95v0.95h-0.95zM309.55,584.98h0.95v0.95h-0.95zM316.78,588.19h0.95v0.95h-0.95zM326.77,599.87h0.95v0.95h-0.95zM325.75,585.5h0.95v0.95h-0.95zM326.68,603.4h0.95v0.95h-0.95zM319.64,572.89h0.95v0.95h-0.95zM317.96,575.81h0.95v0.95h-0.95zM316.96,575.65h0.95v0.95h-0.95zM326.13,573.35h0.95v0.95h-0.95zM317.04,595.93h0.95v0.95h-0.95zM319.03,581.58h0.95v0.95h-0.95zM324.37,586.01h0.95v0.95h-0.95zM302.62,596.91h0.95v0.95h-0.95zM326.59,573.89h0.95v0.95h-0.95zM326.35,598.49h0.95v0.95h-0.95zM314.08,586.69h0.95v0.95h-0.95zM321.54,602.24h0.95v0.95h-0.95zM322.62,605.87h0.95v0.95h-0.95zM322.5,591.72h0.95v0.95h-0.95zM331.67,576.05h0.95v0.95h-0.95zM317.71,603.77h0.95v0.95h-0.95zM312.6,587.37h0.95v0.95h-0.95zM326.29,587.88h0.95v0.95h-0.95zM330.92,575.53h0.95v0.95h-0.95zM324.89,579.78h0.95v0.95h-0.95zM313.72,595.44h0.95v0.95h-0.95zM324.14,606.4h0.95v0.95h-0.95zM323.96,582.06h0.95v0.95h-0.95zM324.47,571.72h0.95v0.95h-0.95zM322.65,590.88h0.95v0.95h-0.95zM305.28,586.69h0.95v0.95h-0.95zM332.36,580.88h0.95v0.95h-0.95zM317.68,596.78h0.95v0.95h-0.95zM314.16,604.46h0.95v0.95h-0.95zM324.95,590.43h0.95v0.95h-0.95zM321.58,601.63h0.95v0.95h-0.95zM317.13,574.83h0.95v0.95h-0.95zM327.43,571.71h0.95v0.95h-0.95zM311.72,578.33h0.95v0.95h-0.95zM327.81,599.86h0.95v0.95h-0.95zM303.25,599.18h0.95v0.95h-0.95zM322.55,580.8h0.95v0.95h-0.95zM303.67,588h0.95v0.95h-0.95zM316.74,580.87h0.95v0.95h-0.95zM310.07,596.8h0.95v0.95h-0.95zM332.47,575h0.95v0.95h-0.95zM318.05,585.02h0.95v0.95h-0.95zM313.1,590.56h0.95v0.95h-0.95zM316.05,573.75h0.95v0.95h-0.95zM318.51,575.77h0.95v0.95h-0.95zM315.27,575.57h0.95v0.95h-0.95zM308.16,593.13h0.95v0.95h-0.95zM328.02,601.38h0.95v0.95h-0.95zM309.75,585.03h0.95v0.95h-0.95zM314.41,576.62h0.95v0.95h-0.95zM319.82,591.93h0.95v0.95h-0.95zM319.77,603.55h0.95v0.95h-0.95zM305.47,592.02h0.95v0.95h-0.95zM312.84,599.51h0.95v0.95h-0.95zM329.37,590.04h0.95v0.95h-0.95zM328.15,600.11h0.95v0.95h-0.95zM309.52,590.42h0.95v0.95h-0.95zM310.81,578.83h0.95v0.95h-0.95zM312.11,578.58h0.95v0.95h-0.95zM324.12,576.84h0.95v0.95h-0.95zM324.11,577.9h0.95v0.95h-0.95zM318.47,572.45h0.95v0.95h-0.95zM306.85,590.78h0.95v0.95h-0.95zM311.76,583.83h0.95v0.95h-0.95zM312.17,589.38h0.95v0.95h-0.95zM303.88,596.13h0.95v0.95h-0.95zM330.02,597.16h0.95v0.95h-0.95zM326.47,571.78h0.95v0.95h-0.95zM316.57,595.33h0.95v0.95h-0.95zM326.79,586.87h0.95v0.95h-0.95zM319.13,585.59h0.95v0.95h-0.95zM327.84,570.81h0.95v0.95h-0.95zM321.74,574.69h0.95v0.95h-0.95zM320.33,603.12h0.95v0.95h-0.95zM318.84,582.75h0.95v0.95h-0.95zM316.15,605.6h0.95v0.95h-0.95zM317.98,579.47h0.95v0.95h-0.95zM308.08,590.66h0.95v0.95h-0.95zM313.86,583.59h0.95v0.95h-0.95zM319.21,586.16h0.95v0.95h-0.95zM313.05,602.74h0.95v0.95h-0.95zM328.33,578.72h0.95v0.95h-0.95zM314.56,603.3h0.95v0.95h-0.95zM324.93,600.73h0.95v0.95h-0.95zM327.22,599.09h0.95v0.95h-0.95zM317.78,598.88h0.95v0.95h-0.95zM315.86,601.76h0.95v0.95h-0.95zM311.65,601.1h0.95v0.95h-0.95zM317.47,577.99h0.95v0.95h-0.95zM322.8,605.5h0.95v0.95h-0.95zM307.04,582.94h0.95v0.95h-0.95zM316.14,600.04h0.95v0.95h-0.95zM331.83,570.83h0.95v0.95h-0.95zM306.25,596.72h0.95v0.95h-0.95zM313.93,603.33h0.95v0.95h-0.95zM301.39,595.68h0.95v0.95h-0.95zM313.8,598.83h0.95v0.95h-0.95zM311.32,602.66h0.95v0.95h-0.95zM327.67,595.23h0.95v0.95h-0.95zM329.63,594.1h0.95v0.95h-0.95zM301.2,594.44h0.95v0.95h-0.95zM329.91,570.98h0.95v0.95h-0.95zM319.57,574.92h0.95v0.95h-0.95zM314.55,573.16h0.95v0.95h-0.95zM313.19,600.12h0.95v0.95h-0.95zM320.18,606.75h0.95v0.95h-0.95zM329.95,591.26h0.95v0.95h-0.95zM324.21,588.25h0.95v0.95h-0.95zM324.89,587.1h0.95v0.95h-0.95zM308.01,600.04h0.95v0.95h-0.95zM307.22,582.62h0.95v0.95h-0.95zM313.44,578.61h0.95v0.95h-0.95zM314.76,604.9h0.95v0.95h-0.95zM321.86,587.92h0.95v0.95h-0.95zM303.78,597.06h0.95v0.95h-0.95zM329.71,604.66h0.95v0.95h-0.95zM330.33,571.14h0.95v0.95h-0.95zM318.38,601.62h0.95v0.95h-0.95zM331.59,590.19h0.95v0.95h-0.95zM323.43,600.99h0.95v0.95h-0.95zM320.73,590.25h0.95v0.95h-0.95z" fill="#555"/>
<path d="M332.59,571.57h0.95v0.95h-0.95zM329.44,576.54h0.95v0.95h-0.95zM333,569.96h0.95v0.95h-0.95zM333.55,569.08h0.95v0.95h-0.95zM326.78,577.06h0.95v0.95h-0.95zM328.09,571.43h0.95v0.95h-0.95zM331.31,569.24h0.95v0.95h-0.95zM329.24,571.18h0.95v0.95h-0.95zM329.31,573.74h0.95v0.95h-0.95zM329.71,579.13h0.95v0.95h-0.95zM329.99,580.65h0.95v0.95h-0.95zM331.98,572.04h0.95v0.95h-0.95zM332.31,569.69h0.95v0.95h-0.95zM330.64,577.43h0.95v0.95h-0.95zM331.3,575.84h0.95v0.95h-0.95zM326.12,580.12h0.95v0.95h-0.95zM328.26,579h0.95v0.95h-0.95zM325.66,572.71h0.95v0.95h-0.95zM331.66,576.18h0.95v0.95h-0.95zM329.06,580.32h0.95v0.95h-0.95zM329.18,575.66h0.95v0.95h-0.95zM327.81,575.96h0.95v0.95h-0.95zM325.76,578.56h0.95v0.95h-0.95zM327.24,579.58h0.95v0.95h-0.95zM328.34,580.62h0.95v0.95h-0.95zM327.12,579.58h0.95v0.95h-0.95zM331.46,576.98h0.95v0.95h-0.95zM329.71,570.98h0.95v0.95h-0.95zM328.36,577.73h0.95v0.95h-0.95zM330.79,569.52h0.95v0.95h-0.95zM331.63,571.37h0.95v0.95h-0.95zM331.96,569.29h0.95v0.95h-0.95zM331.92,571.96h0.95v0.95h-0.95zM333.03,572.43h0.95v0.95h-0.95zM328.44,575.98h0.95v0.95h-0.95zM327.86,576.32h0.95v0.95h-0.95zM326.26,579.67h0.95v0.95h-0.95zM330.91,573.73h0.95v0.95h-0.95zM330.51,580.43h0.95v0.95h-0.95zM329.72,575.7h0.95v0.95h-0.95zM329.4,576.93h0.95v0.95h-0.95zM325.49,578.91h0.95v0.95h-0.95zM330.08,579.49h0.95v0.95h-0.95zM324.88,577.13h0.95v0.95h-0.95zM331.48,576.94h0.95v0.95h-0.95zM329.44,579.2h0.95v0.95h-0.95zM326.77,582.55h0.95v0.95h-0.95zM328.57,582.53h0.95v0.95h-0.95zM327.08,579.36h0.95v0.95h-0.95zM330.69,577.84h0.95v0.95h-0.95zM327.7,572.38h0.95v0.95h-0.95zM334.18,568.07h0.95v0.95h-0.95zM329.94,576.03h0.95v0.95h-0.95zM326.34,576.43h0.95v0.95h-0.95zM325.44,573.38h0.95v0.95h-0.95zM325.33,575.88h0.95v0.95h-0.95zM330.75,570.8h0.95v0.95h-0.95zM325.83,577.78h0.95v0.95h-0.95zM331.21,573.21h0.95v0.95h-0.95zM328.67,583.96h0.95v0.95h-0.95zM300.75,626h0.95v0.95h-0.95zM317.13,610.46h0.95v0.95h-0.95zM304.42,622.1h0.95v0.95h-0.95zM300.01,628.59h0.95v0.95h-0.95zM303.79,623.93h0.95v0.95h-0.95zM305.2,620.95h0.95v0.95h-0.95zM299.56,625.98h0.95v0.95h-0.95zM304.69,620.66h0.95v0.95h-0.95zM324.81,612.29h0.95v0.95h-0.95zM304.55,619.94h0.95v0.95h-0.95zM305.41,629.48h0.95v0.95h-0.95zM319.34,601.66h0.95v0.95h-0.95zM329.16,606.06h0.95v0.95h-0.95zM328.82,608.14h0.95v0.95h-0.95zM300.18,629.7h0.95v0.95h-0.95zM315.6,611.75h0.95v0.95h-0.95zM300.43,626.33h0.95v0.95h-0.95zM300.12,624.21h0.95v0.95h-0.95zM302.24,629.77h0.95v0.95h-0.95zM327.13,611.82h0.95v0.95h-0.95zM310.91,627.74h0.95v0.95h-0.95zM307.13,633.54h0.95v0.95h-0.95zM335.2,610.31h0.95v0.95h-0.95zM321.33,600.51h0.95v0.95h-0.95zM325.06,606.96h0.95v0.95h-0.95zM319.6,608.32h0.95v0.95h-0.95zM300.21,627.66h0.95v0.95h-0.95zM299.2,630.04h0.95v0.95h-0.95zM317.93,619.35h0.95v0.95h-0.95zM307.06,628.77h0.95v0.95h-0.95zM320.24,607.78h0.95v0.95h-0.95zM321.37,616.23h0.95v0.95h-0.95zM304.01,622.84h0.95v0.95h-0.95zM336.02,613.46h0.95v0.95h-0.95zM304.32,621.09h0.95v0.95h-0.95zM325.8,610.31h0.95v0.95h-0.95zM303.56,619.12h0.95v0.95h-0.95zM311.37,625.44h0.95v0.95h-0.95zM319.59,608.79h0.95v0.95h-0.95zM307.08,618.26h0.95v0.95h-0.95zM328.06,610.2h0.95v0.95h-0.95zM313.92,623.58h0.95v0.95h-0.95zM300.74,628.16h0.95v0.95h-0.95zM324.75,606.71h0.95v0.95h-0.95zM311.06,624.27h0.95v0.95h-0.95zM327.54,612.04h0.95v0.95h-0.95zM318.41,609.09h0.95v0.95h-0.95zM309.88,613.87h0.95v0.95h-0.95zM301.29,625.93h0.95v0.95h-0.95zM312.3,624.42h0.95v0.95h-0.95zM325.03,615.42h0.95v0.95h-0.95zM329.02,622.42h0.95v0.95h-0.95zM303.79,621.14h0.95v0.95h-0.95zM321.82,621.63h0.95v0.95h-0.95zM318.7,607.8h0.95v0.95h-0.95zM312.69,623.47h0.95v0.95h-0.95zM314.11,621.9h0.95v0.95h-0.95zM322.87,607.42h0.95v0.95h-0.95zM312.14,611.31h0.95v0.95h-0.95zM323.6,614.61h0.95v0.95h-0.95zM325.07,613.69h0.95v0.95h-0.95zM323.55,613.32h0.95v0.95h-0.95zM316.65,608.14h0.95v0.95h-0.95zM323.57,606.04h0.95v0.95h-0.95zM306.97,626.73h0.95v0.95h-0.95zM326.12,605.95h0.95v0.95h-0.95zM303.75,621.69h0.95v0.95h-0.95zM303.15,621.94h0.95v0.95h-0.95zM330.42,605.81h0.95v0.95h-0.95zM317.2,618.79h0.95v0.95h-0.95zM306.76,616.97h0.95v0.95h-0.95zM329.2,608.65h0.95v0.95h-0.95zM321.17,615.94h0.95v0.95h-0.95zM331.5,595.57h0.95v0.95h-0.95zM328.77,603.82h0.95v0.95h-0.95zM312.31,624.81h0.95v0.95h-0.95zM313.43,610.54h0.95v0.95h-0.95zM316.36,620.71h0.95v0.95h-0.95zM305.61,616h0.95v0.95h-0.95zM310.39,626.41h0.95v0.95h-0.95zM330.65,602.14h0.95v0.95h-0.95zM302.34,622.95h0.95v0.95h-0.95zM301.69,626.26h0.95v0.95h-0.95zM304.4,629.24h0.95v0.95h-0.95zM322.42,606.64h0.95v0.95h-0.95zM315.29,610.02h0.95v0.95h-0.95zM300.88,624.48h0.95v0.95h-0.95zM325.8,612.94h0.95v0.95h-0.95zM314.52,611.5h0.95v0.95h-0.95zM326.22,603.78h0.95v0.95h-0.95zM302.47,621.76h0.95v0.95h-0.95zM303.02,629.96h0.95v0.95h-0.95zM311.3,626.41h0.95v0.95h-0.95zM303.93,630.34h0.95v0.95h-0.95zM301.52,623.49h0.95v0.95h-0.95zM313.66,622.77h0.95v0.95h-0.95zM313.97,629.88h0.95v0.95h-0.95zM307.6,618.65h0.95v0.95h-0.95zM330.49,608.38h0.95v0.95h-0.95zM317.98,609.99h0.95v0.95h-0.95zM299.18,630.37h0.95v0.95h-0.95zM329.82,609.11h0.95v0.95h-0.95zM317.48,607.99h0.95v0.95h-0.95zM329.1,607.14h0.95v0.95h-0.95zM323.87,618.94h0.95v0.95h-0.95zM299.51,629.31h0.95v0.95h-0.95zM308.11,615.38h0.95v0.95h-0.95zM312.45,624.84h0.95v0.95h-0.95zM319.66,619.95h0.95v0.95h-0.95zM309.69,625.77h0.95v0.95h-0.95zM301.86,630.01h0.95v0.95h-0.95zM320.72,616.94h0.95v0.95h-0.95zM301.47,625.17h0.95v0.95h-0.95zM305.89,620.84h0.95v0.95h-0.95zM327.1,610.7h0.95v0.95h-0.95zM299.99,626.71h0.95v0.95h-0.95zM308.78,629.58h0.95v0.95h-0.95zM301.26,624.96h0.95v0.95h-0.95zM323.08,616.05h0.95v0.95h-0.95zM311.62,624.52h0.95v0.95h-0.95zM304.96,630.97h0.95v0.95h-0.95zM304.85,620.2h0.95v0.95h-0.95zM313.18,613.23h0.95v0.95h-0.95zM310.17,625.99h0.95v0.95h-0.95zM323.45,606.73h0.95v0.95h-0.95zM322.27,603.31h0.95v0.95h-0.95zM322.65,605.56h0.95v0.95h-0.95zM313.24,623.98h0.95v0.95h-0.95zM329.75,606.7h0.95v0.95h-0.95zM327.88,610.86h0.95v0.95h-0.95zM299.38,628.05h0.95v0.95h-0.95zM329.26,606.22h0.95v0.95h-0.95zM299.78,629.06h0.95v0.95h-0.95zM327.62,609.9h0.95v0.95h-0.95zM320.61,616.38h0.95v0.95h-0.95zM306.24,630.23h0.95v0.95h-0.95zM298.89,628.69h0.95v0.95h-0.95zM313.41,624.79h0.95v0.95h-0.95zM319.6,607.55h0.95v0.95h-0.95zM323.35,606.4h0.95v0.95h-0.95zM319.91,609.22h0.95v0.95h-0.95zM318.24,608.03h0.95v0.95h-0.95zM306.85,617.22h0.95v0.95h-0.95zM300.11,628.86h0.95v0.95h-0.95zM313.84,610.2h0.95v0.95h-0.95zM301.46,629.91h0.95v0.95h-0.95zM300.28,626.44h0.95v0.95h-0.95zM305.08,621.83h0.95v0.95h-0.95zM306.82,627.58h0.95v0.95h-0.95zM313.6,613.22h0.95v0.95h-0.95zM329.59,604.8h0.95v0.95h-0.95zM310.09,633.48h0.95v0.95h-0.95zM303.22,624.33h0.95v0.95h-0.95zM319.74,618.37h0.95v0.95h-0.95zM330.68,608.89h0.95v0.95h-0.95zM309.48,626.33h0.95v0.95h-0.95zM320.33,616.79h0.95v0.95h-0.95zM298.53,632.54h0.95v0.95h-0.95zM321.61,605.88h0.95v0.95h-0.95zM310.99,624.12h0.95v0.95h-0.95zM322.28,607.18h0.95v0.95h-0.95zM329.19,606.49h0.95v0.95h-0.95zM329.38,603.69h0.95v0.95h-0.95zM324.82,613.59h0.95v0.95h-0.95zM302.24,630.42h0.95v0.95h-0.95zM303.66,623.04h0.95v0.95h-0.95zM312.81,611.11h0.95v0.95h-0.95zM329.45,607.08h0.95v0.95h-0.95zM330.1,603.51h0.95v0.95h-0.95zM319.25,608h0.95v0.95h-0.95zM307.41,629.31h0.95v0.95h-0.95zM302.25,629.83h0.95v0.95h-0.95zM328.23,611.82h0.95v0.95h-0.95zM299.61,625.65h0.95v0.95h-0.95zM313.71,612.66h0.95v0.95h-0.95zM323.65,604.92h0.95v0.95h-0.95zM300.03,631.21h0.95v0.95h-0.95zM306.74,618.33h0.95v0.95h-0.95zM310.25,615.31h0.95v0.95h-0.95zM319.17,617.28h0.95v0.95h-0.95zM328.49,605.17h0.95v0.95h-0.95zM327.95,606.13h0.95v0.95h-0.95zM325.65,605.21h0.95v0.95h-0.95zM315.71,611.59h0.95v0.95h-0.95zM314.7,622.71h0.95v0.95h-0.95zM329.37,612.12h0.95v0.95h-0.95zM325.55,605.66h0.95v0.95h-0.95zM309.21,627.14h0.95v0.95h-0.95zM299.81,628.75h0.95v0.95h-0.95zM318.68,606.67h0.95v0.95h-0.95zM321.94,607.91h0.95v0.95h-0.95zM302.66,630.31h0.95v0.95h-0.95zM317.63,608.45h0.95v0.95h-0.95zM300.36,627.44h0.95v0.95h-0.95zM317.44,607.43h0.95v0.95h-0.95zM322.96,615.27h0.95v0.95h-0.95zM328.6,605.86h0.95v0.95h-0.95zM323.4,607.67h0.95v0.95h-0.95zM317.18,609.87h0.95v0.95h-0.95zM330.56,604.81h0.95v0.95h-0.95zM305.39,617.39h0.95v0.95h-0.95zM303.09,621.06h0.95v0.95h-0.95zM331.86,609.51h0.95v0.95h-0.95zM302,625.01h0.95v0.95h-0.95zM303.11,622.33h0.95v0.95h-0.95zM303.12,623.4h0.95v0.95h-0.95zM330.04,606.53h0.95v0.95h-0.95zM300.18,630.13h0.95v0.95h-0.95zM329.62,607.01h0.95v0.95h-0.95zM304.74,629h0.95v0.95h-0.95zM328.71,605.69h0.95v0.95h-0.95zM300.43,629.85h0.95v0.95h-0.95zM324.52,607.2h0.95v0.95h-0.95zM328.65,614.03h0.95v0.95h-0.95zM316.36,609.19h0.95v0.95h-0.95zM330.91,606.73h0.95v0.95h-0.95zM308.11,625.94h0.95v0.95h-0.95zM329.45,605.36h0.95v0.95h-0.95zM310.83,613.28h0.95v0.95h-0.95zM310.01,626.17h0.95v0.95h-0.95zM303.43,630.77h0.95v0.95h-0.95zM309.9,625.46h0.95v0.95h-0.95zM304.83,621.71h0.95v0.95h-0.95zM321.61,617.01h0.95v0.95h-0.95zM314.37,606.4h0.95v0.95h-0.95zM319.4,621.81h0.95v0.95h-0.95zM327.06,604.07h0.95v0.95h-0.95zM312.32,625.12h0.95v0.95h-0.95zM312.94,609.01h0.95v0.95h-0.95zM303.39,621.33h0.95v0.95h-0.95zM300.26,626.04h0.95v0.95h-0.95zM327.67,605.98h0.95v0.95h-0.95zM330.9,612.06h0.95v0.95h-0.95zM310.12,614.08h0.95v0.95h-0.95zM315.77,611.83h0.95v0.95h-0.95zM328.94,608.67h0.95v0.95h-0.95zM330.33,604.49h0.95v0.95h-0.95zM302.71,629.61h0.95v0.95h-0.95zM309.46,626.69h0.95v0.95h-0.95z" fill="#111"/>
<path d="M328.87,596.91h0.95v0.95h-0.95zM329.1,586.3h0.95v0.95h-0.95zM327.2,605.13h0.95v0.95h-0.95zM330.93,588.43h0.95v0.95h-0.95zM326.71,592.15h0.95v0.95h-0.95zM326.57,586.85h0.95v0.95h-0.95zM325.53,603.32h0.95v0.95h-0.95zM326.25,600.56h0.95v0.95h-0.95zM329.34,598.8h0.95v0.95h-0.95zM325.32,599.55h0.95v0.95h-0.95zM325.07,597.57h0.95v0.95h-0.95zM331.88,597.4h0.95v0.95h-0.95zM330.52,591.13h0.95v0.95h-0.95zM323.46,595.13h0.95v0.95h-0.95zM324.64,597.89h0.95v0.95h-0.95zM324.05,602.55h0.95v0.95h-0.95zM327.6,597.49h0.95v0.95h-0.95zM327.12,598.7h0.95v0.95h-0.95zM329.21,594.53h0.95v0.95h-0.95zM326.51,605.11h0.95v0.95h-0.95zM323.35,604.23h0.95v0.95h-0.95zM330.2,593.68h0.95v0.95h-0.95zM328.57,592.08h0.95v0.95h-0.95zM329.04,591.78h0.95v0.95h-0.95zM325.54,601.77h0.95v0.95h-0.95zM330.58,588.73h0.95v0.95h-0.95zM323.14,599.92h0.95v0.95h-0.95zM324.14,600.55h0.95v0.95h-0.95zM322.9,587.97h0.95v0.95h-0.95zM325.09,597.99h0.95v0.95h-0.95zM327.96,591.34h0.95v0.95h-0.95zM329.43,592.8h0.95v0.95h-0.95zM324.28,605.92h0.95v0.95h-0.95zM331.18,603.28h0.95v0.95h-0.95zM330.44,603.35h0.95v0.95h-0.95zM326.3,605.42h0.95v0.95h-0.95zM329.9,591.96h0.95v0.95h-0.95zM330.07,590.1h0.95v0.95h-0.95zM324.42,586.91h0.95v0.95h-0.95zM330.44,587.38h0.95v0.95h-0.95zM324.14,590.05h0.95v0.95h-0.95zM326.06,594.2h0.95v0.95h-0.95zM325.84,587.15h0.95v0.95h-0.95zM329.32,603.73h0.95v0.95h-0.95zM325.67,590.46h0.95v0.95h-0.95zM331.38,596.18h0.95v0.95h-0.95zM328.86,596.07h0.95v0.95h-0.95zM329.74,592.04h0.95v0.95h-0.95zM328.25,596.62h0.95v0.95h-0.95zM326.89,604.54h0.95v0.95h-0.95zM323.95,597.15h0.95v0.95h-0.95zM331.95,596.14h0.95v0.95h-0.95zM328.62,599.5h0.95v0.95h-0.95zM322.07,601.46h0.95v0.95h-0.95zM325.29,591.57h0.95v0.95h-0.95zM326.19,589.22h0.95v0.95h-0.95zM329.67,588.01h0.95v0.95h-0.95zM326.18,591.66h0.95v0.95h-0.95zM327.25,591.62h0.95v0.95h-0.95zM331.96,591.6h0.95v0.95h-0.95z" fill="#333"/>
<path d="M337.89,593.29h0.95v0.95h-0.95zM341.62,583.26h0.95v0.95h-0.95zM338.13,588h0.95v0.95h-0.95zM339.03,585.46h0.95v0.95h-0.95zM344.61,591.49h0.95v0.95h-0.95zM342.74,594.93h0.95v0.95h-0.95zM334.28,586.35h0.95v0.95h-0.95zM336.49,592.98h0.95v0.95h-0.95z" fill="#888"/>
<path d="M307.36,620.16h0.95v0.95h-0.95zM324.99,608.02h0.95v0.95h-0.95zM300.85,628.61h0.95v0.95h-0.95zM325.7,607.49h0.95v0.95h-0.95zM306.62,625.05h0.95v0.95h-0.95zM317.52,614.75h0.95v0.95h-0.95zM317.28,613.49h0.95v0.95h-0.95zM327.39,609.2h0.95v0.95h-0.95zM323.7,610.31h0.95v0.95h-0.95zM304.22,627.45h0.95v0.95h-0.95zM301.02,628.29h0.95v0.95h-0.95zM306.26,627.26h0.95v0.95h-0.95zM319.38,612.01h0.95v0.95h-0.95zM316.13,615.76h0.95v0.95h-0.95zM301.99,627.26h0.95v0.95h-0.95zM320.33,614.01h0.95v0.95h-0.95zM303.57,624.21h0.95v0.95h-0.95zM308.43,622.5h0.95v0.95h-0.95zM304.5,624.88h0.95v0.95h-0.95zM304.75,625.22h0.95v0.95h-0.95zM324.11,608.1h0.95v0.95h-0.95zM308.41,620.04h0.95v0.95h-0.95zM307.54,621.78h0.95v0.95h-0.95zM325.11,609.79h0.95v0.95h-0.95zM311.24,620.38h0.95v0.95h-0.95zM308.94,617.81h0.95v0.95h-0.95zM315.18,614.95h0.95v0.95h-0.95zM302.27,629.19h0.95v0.95h-0.95zM301.86,626.25h0.95v0.95h-0.95zM302.83,626.59h0.95v0.95h-0.95zM325.43,607.4h0.95v0.95h-0.95zM318.26,611.05h0.95v0.95h-0.95zM313.64,619.15h0.95v0.95h-0.95zM317.61,612.47h0.95v0.95h-0.95zM311.9,614.72h0.95v0.95h-0.95zM325.49,607.57h0.95v0.95h-0.95zM308.86,618.44h0.95v0.95h-0.95zM314.25,618.43h0.95v0.95h-0.95zM310.26,616.5h0.95v0.95h-0.95zM308.32,623.3h0.95v0.95h-0.95zM320.79,613.63h0.95v0.95h-0.95zM303.5,625.36h0.95v0.95h-0.95zM324.04,609.23h0.95v0.95h-0.95zM307.38,625.73h0.95v0.95h-0.95zM326.04,608.5h0.95v0.95h-0.95zM318.57,617.3h0.95v0.95h-0.95zM319.98,611.38h0.95v0.95h-0.95zM307.03,621.85h0.95v0.95h-0.95zM320.27,615.33h0.95v0.95h-0.95zM302.13,627.46h0.95v0.95h-0.95zM317.12,614.04h0.95v0.95h-0.95zM323.94,610.23h0.95v0.95h-0.95zM305.08,624.68h0.95v0.95h-0.95zM302.51,625.73h0.95v0.95h-0.95zM316.82,615.59h0.95v0.95h-0.95zM314.79,617.23h0.95v0.95h-0.95z" fill="#111"/>
<polygon points="301.64,627.65 302.68,625.57 304.75,622.8 306.83,620.03 309.6,617.26 312.37,614.49 315.14,612.42 317.91,611.03 320.68,609.65 323.45,608.26 326.22,606.88 328.29,607.57 326.91,609.65 324.14,611.72 321.37,614.49 318.6,617.26 315.83,620.03 313.06,622.11 310.29,624.19 307.52,626.26 304.75,627.99 302.68,628.69" fill="#000"/>
<polygon points="326.5,572.5 333.5,569.2 331.8,574.9 329.7,581.5 327.8,582.8 326.3,578.5" fill="#000"/>
<path d="M302.63,638v1.3M306.22,638v1.3M308.77,638v1.3M310.74,638v1.3M312.35,638v1.3M313.72,638v1.3M314.9,638v1.3M315.94,638v1.3M296.5,632.02h-1.3M296.5,628.53h-1.3M296.5,626.05h-1.3M296.5,624.13h-1.3M296.5,622.55h-1.3M296.5,621.22h-1.3M296.5,620.07h-1.3M296.5,619.06h-1.3M323.01,638v1.3M326.6,638v1.3M329.14,638v1.3M331.12,638v1.3M332.73,638v1.3M334.09,638v1.3M335.28,638v1.3M336.32,638v1.3M296.5,612.17h-1.3M296.5,608.68h-1.3M296.5,606.2h-1.3M296.5,604.28h-1.3M296.5,602.7h-1.3M296.5,601.37h-1.3M296.5,600.22h-1.3M296.5,599.21h-1.3M343.38,638v1.3M346.97,638v1.3M349.52,638v1.3M351.49,638v1.3M353.1,638v1.3M354.47,638v1.3M355.65,638v1.3M356.69,638v1.3M296.5,592.32h-1.3M296.5,588.83h-1.3M296.5,586.35h-1.3M296.5,584.43h-1.3M296.5,582.85h-1.3M296.5,581.52h-1.3M296.5,580.37h-1.3M296.5,579.36h-1.3M363.76,638v1.3M367.35,638v1.3M369.89,638v1.3M371.87,638v1.3M373.48,638v1.3M374.84,638v1.3M376.03,638v1.3M377.07,638v1.3M296.5,572.47h-1.3M296.5,568.98h-1.3M296.5,566.5h-1.3M296.5,564.58h-1.3M296.5,563h-1.3M296.5,561.67h-1.3M296.5,560.52h-1.3M296.5,559.51h-1.3M296.5,638v2M296.5,638h-2M316.88,638v2M296.5,618.15h-2M337.25,638v2M296.5,598.3h-2M357.62,638v2M296.5,578.45h-2M378,638v2M296.5,558.6h-2" stroke="#222" stroke-width="0.7" fill="none"/>
<line x1="296.5" y1="558.6" x2="378" y2="558.6" stroke="#555" stroke-width="0.9"/>
<line x1="378" y1="558.15" x2="378" y2="638" stroke="#333" stroke-width="1.4"/>
<line x1="296.5" y1="558.2" x2="296.5" y2="638.6" stroke="#111" stroke-width="1.5"/>
<line x1="296.1" y1="638" x2="378.6" y2="638" stroke="#111" stroke-width="1.6"/>
<line x1="320.8" y1="558.6" x2="320.8" y2="638" stroke="#333" stroke-width="1"/>
<line x1="296.5" y1="607.8" x2="378" y2="607.8" stroke="#2a2a2a" stroke-width="1.1"/>
<text x="292.4" y="647.3" font-size="6.2" fill="#3a3a3a" textLength="7.9" lengthAdjust="spacingAndGlyphs">10<tspan dy="-2.4" font-size="4.4">0</tspan></text>
<text x="312.77" y="647.3" font-size="6.2" fill="#3a3a3a" textLength="7.9" lengthAdjust="spacingAndGlyphs">10<tspan dy="-2.4" font-size="4.4">1</tspan></text>
<text x="333.15" y="647.3" font-size="6.2" fill="#3a3a3a" textLength="7.9" lengthAdjust="spacingAndGlyphs">10<tspan dy="-2.4" font-size="4.4">2</tspan></text>
<text x="353.52" y="647.3" font-size="6.2" fill="#3a3a3a" textLength="7.9" lengthAdjust="spacingAndGlyphs">10<tspan dy="-2.4" font-size="4.4">3</tspan></text>
<text x="373.9" y="647.3" font-size="6.2" fill="#3a3a3a" textLength="7.9" lengthAdjust="spacingAndGlyphs">10<tspan dy="-2.4" font-size="4.4">4</tspan></text>
<text transform="translate(292.6,642.9) rotate(-90)" font-size="6.8" fill="#3a3a3a" textLength="8.6" lengthAdjust="spacingAndGlyphs">10<tspan dy="-2.6" font-size="4.8">0</tspan></text>
<text transform="translate(292.6,623.05) rotate(-90)" font-size="6.8" fill="#3a3a3a" textLength="8.6" lengthAdjust="spacingAndGlyphs">10<tspan dy="-2.6" font-size="4.8">1</tspan></text>
<text transform="translate(292.6,603.2) rotate(-90)" font-size="6.8" fill="#3a3a3a" textLength="8.6" lengthAdjust="spacingAndGlyphs">10<tspan dy="-2.6" font-size="4.8">2</tspan></text>
<text transform="translate(292.6,583.35) rotate(-90)" font-size="6.8" fill="#3a3a3a" textLength="8.6" lengthAdjust="spacingAndGlyphs">10<tspan dy="-2.6" font-size="4.8">3</tspan></text>
<text transform="translate(292.6,562.4) rotate(-90)" font-size="6.8" fill="#3a3a3a" textLength="5.8" lengthAdjust="spacingAndGlyphs">10</text>
<text x="308.9" y="552.2" font-size="9" textLength="42.3" lengthAdjust="spacingAndGlyphs" fill="#151515">Cytarabine</text>
<text x="347.7" y="573.6" font-size="10.4" textLength="24.1" lengthAdjust="spacingAndGlyphs" fill="#1a1a1a">6.5%</text>
<text x="347.7" y="630.7" font-size="10.4" textLength="24.1" lengthAdjust="spacingAndGlyphs" fill="#1a1a1a">3.4%</text>
<path d="M447.09,577.22h0.95v0.95h-0.95zM449.4,586.27h0.95v0.95h-0.95zM445.37,578.23h0.95v0.95h-0.95zM444.9,570.86h0.95v0.95h-0.95zM450.88,576.56h0.95v0.95h-0.95zM450.48,583.55h0.95v0.95h-0.95zM444.13,577.81h0.95v0.95h-0.95zM450.95,581.69h0.95v0.95h-0.95zM449.18,573.06h0.95v0.95h-0.95zM453.45,586.45h0.95v0.95h-0.95zM451.83,577.96h0.95v0.95h-0.95zM453.34,578.37h0.95v0.95h-0.95zM450.54,602.3h0.95v0.95h-0.95zM449.95,573.93h0.95v0.95h-0.95zM452.56,598.2h0.95v0.95h-0.95zM450.48,592.35h0.95v0.95h-0.95zM443.6,580.84h0.95v0.95h-0.95zM446.66,578.4h0.95v0.95h-0.95zM451.83,574.59h0.95v0.95h-0.95zM445.88,576.29h0.95v0.95h-0.95zM444.9,601.48h0.95v0.95h-0.95zM443.42,571.66h0.95v0.95h-0.95zM451.47,580.78h0.95v0.95h-0.95zM446.21,575.91h0.95v0.95h-0.95zM449.67,574.01h0.95v0.95h-0.95zM447.71,592.93h0.95v0.95h-0.95zM443.01,585.82h0.95v0.95h-0.95zM444.48,571.36h0.95v0.95h-0.95zM451.73,570.88h0.95v0.95h-0.95zM445.03,604.42h0.95v0.95h-0.95zM443.52,585.79h0.95v0.95h-0.95zM450.76,590.44h0.95v0.95h-0.95zM453.67,585.43h0.95v0.95h-0.95zM452.72,579.39h0.95v0.95h-0.95zM447.26,605.82h0.95v0.95h-0.95zM447.68,591.66h0.95v0.95h-0.95zM452.32,601.56h0.95v0.95h-0.95zM453.1,570.84h0.95v0.95h-0.95zM447,603.76h0.95v0.95h-0.95zM447.03,578.25h0.95v0.95h-0.95zM445.72,600.34h0.95v0.95h-0.95zM449.22,583.8h0.95v0.95h-0.95zM445.09,579.67h0.95v0.95h-0.95zM445.74,587.71h0.95v0.95h-0.95zM443.61,589.3h0.95v0.95h-0.95zM449.57,596.97h0.95v0.95h-0.95zM449.01,597.39h0.95v0.95h-0.95zM444.86,599.93h0.95v0.95h-0.95zM445.34,582.43h0.95v0.95h-0.95zM449.64,573.79h0.95v0.95h-0.95zM451.98,599.22h0.95v0.95h-0.95zM450.89,581.87h0.95v0.95h-0.95zM445.02,576.91h0.95v0.95h-0.95zM445.49,592.7h0.95v0.95h-0.95zM445.61,590.33h0.95v0.95h-0.95zM451.46,601.83h0.95v0.95h-0.95zM451.22,581.8h0.95v0.95h-0.95zM450.99,604.19h0.95v0.95h-0.95zM450.18,573h0.95v0.95h-0.95zM448.86,587.05h0.95v0.95h-0.95zM443.17,580.46h0.95v0.95h-0.95zM452.4,587h0.95v0.95h-0.95zM453.14,600.72h0.95v0.95h-0.95zM448.21,589.3h0.95v0.95h-0.95zM445.01,593.51h0.95v0.95h-0.95zM444.61,589.32h0.95v0.95h-0.95zM448.27,595.07h0.95v0.95h-0.95zM450.78,603.22h0.95v0.95h-0.95zM452.82,600.25h0.95v0.95h-0.95zM444.61,585.99h0.95v0.95h-0.95zM450.74,585.12h0.95v0.95h-0.95zM443.01,591.19h0.95v0.95h-0.95zM444.19,570.86h0.95v0.95h-0.95zM444.87,578.25h0.95v0.95h-0.95zM445.44,584.59h0.95v0.95h-0.95z" fill="#444"/>
<path d="M450.47,576.05h0.95v0.95h-0.95zM447.7,573.78h0.95v0.95h-0.95zM448.17,573.45h0.95v0.95h-0.95zM451.59,573.97h0.95v0.95h-0.95zM450.48,575.54h0.95v0.95h-0.95zM448.01,575.91h0.95v0.95h-0.95zM450.75,574.74h0.95v0.95h-0.95zM449.8,572.85h0.95v0.95h-0.95zM449.9,572.3h0.95v0.95h-0.95zM446.77,579.33h0.95v0.95h-0.95zM450.05,576.4h0.95v0.95h-0.95zM446.9,575.73h0.95v0.95h-0.95zM446.88,572.19h0.95v0.95h-0.95zM449.64,571.33h0.95v0.95h-0.95zM444.74,576.62h0.95v0.95h-0.95zM447.35,573.41h0.95v0.95h-0.95zM449.55,578.78h0.95v0.95h-0.95zM449.74,571.25h0.95v0.95h-0.95zM450.59,575.46h0.95v0.95h-0.95zM451.94,571.06h0.95v0.95h-0.95zM447.33,570.82h0.95v0.95h-0.95zM446.91,574.61h0.95v0.95h-0.95zM448.07,573.47h0.95v0.95h-0.95zM450.41,579.32h0.95v0.95h-0.95zM449.11,574.6h0.95v0.95h-0.95zM450.91,576.14h0.95v0.95h-0.95zM449.41,572.53h0.95v0.95h-0.95zM448.96,576.93h0.95v0.95h-0.95zM445.5,575.89h0.95v0.95h-0.95zM449.32,575.71h0.95v0.95h-0.95z" fill="#222"/>
<path d="M436.67,603.55h0.95v0.95h-0.95zM441.89,603.83h0.95v0.95h-0.95zM439.46,577.43h0.95v0.95h-0.95zM437.09,596.41h0.95v0.95h-0.95zM433.06,587.32h0.95v0.95h-0.95zM429.96,584.82h0.95v0.95h-0.95zM430.5,578.87h0.95v0.95h-0.95zM439.01,591.87h0.95v0.95h-0.95zM442.39,589.44h0.95v0.95h-0.95zM442.21,604.47h0.95v0.95h-0.95zM424.08,590.01h0.95v0.95h-0.95zM435.2,603.04h0.95v0.95h-0.95zM430.8,597.92h0.95v0.95h-0.95zM427.29,584.09h0.95v0.95h-0.95zM430.5,592.31h0.95v0.95h-0.95zM427.54,577.54h0.95v0.95h-0.95zM422.56,577.72h0.95v0.95h-0.95zM440.26,600.99h0.95v0.95h-0.95zM428.47,587.41h0.95v0.95h-0.95zM430.47,591.11h0.95v0.95h-0.95zM427.02,573.39h0.95v0.95h-0.95zM433.69,604.75h0.95v0.95h-0.95zM439.42,592.89h0.95v0.95h-0.95zM424.51,586.19h0.95v0.95h-0.95zM432.38,605.56h0.95v0.95h-0.95zM435.02,596.28h0.95v0.95h-0.95zM431.91,597.32h0.95v0.95h-0.95zM425.75,605.36h0.95v0.95h-0.95zM441.89,594.88h0.95v0.95h-0.95zM430.58,601.04h0.95v0.95h-0.95zM422.21,580.25h0.95v0.95h-0.95zM434.91,600.02h0.95v0.95h-0.95zM427.84,595.65h0.95v0.95h-0.95zM441.08,599.04h0.95v0.95h-0.95zM432.73,599.17h0.95v0.95h-0.95zM440.37,587.58h0.95v0.95h-0.95zM426.94,583.57h0.95v0.95h-0.95zM429.75,604.56h0.95v0.95h-0.95zM422.16,593.18h0.95v0.95h-0.95zM425.79,577.86h0.95v0.95h-0.95zM429.86,586.52h0.95v0.95h-0.95zM438,580.93h0.95v0.95h-0.95zM436.44,573.67h0.95v0.95h-0.95zM429.3,582.82h0.95v0.95h-0.95zM425.01,589.87h0.95v0.95h-0.95z" fill="#777"/>
<path d="M443.86,615.52h0.95v0.95h-0.95zM441.69,605.48h0.95v0.95h-0.95zM450.3,612.42h0.95v0.95h-0.95zM449.13,609.11h0.95v0.95h-0.95zM427.79,633.87h0.95v0.95h-0.95zM440.25,619.23h0.95v0.95h-0.95zM421.26,628.27h0.95v0.95h-0.95zM443.99,616.55h0.95v0.95h-0.95zM430.53,611.87h0.95v0.95h-0.95zM438.82,623.41h0.95v0.95h-0.95zM435.15,624.45h0.95v0.95h-0.95zM446.41,614.81h0.95v0.95h-0.95zM433.71,609.96h0.95v0.95h-0.95zM437.96,609.43h0.95v0.95h-0.95zM428.01,628.26h0.95v0.95h-0.95zM422.99,631.61h0.95v0.95h-0.95zM447.6,615.24h0.95v0.95h-0.95zM422.1,618.77h0.95v0.95h-0.95zM439.42,622.1h0.95v0.95h-0.95zM448.87,608.52h0.95v0.95h-0.95zM426.87,620.76h0.95v0.95h-0.95zM440.51,618.4h0.95v0.95h-0.95zM436.34,623.4h0.95v0.95h-0.95zM446.8,613.09h0.95v0.95h-0.95zM440.24,608.05h0.95v0.95h-0.95zM436.64,621.91h0.95v0.95h-0.95zM423.64,632.03h0.95v0.95h-0.95zM429.41,617.14h0.95v0.95h-0.95zM439.97,621.04h0.95v0.95h-0.95zM422.29,628.46h0.95v0.95h-0.95zM422.99,632.43h0.95v0.95h-0.95zM430.96,613.68h0.95v0.95h-0.95zM431.91,625.8h0.95v0.95h-0.95zM425.09,622.91h0.95v0.95h-0.95zM432.38,612.69h0.95v0.95h-0.95zM434.01,612.68h0.95v0.95h-0.95zM439.88,619.26h0.95v0.95h-0.95zM429.17,615.95h0.95v0.95h-0.95zM445.26,609.21h0.95v0.95h-0.95zM435.43,604.92h0.95v0.95h-0.95zM449.16,608.37h0.95v0.95h-0.95zM423.14,624.68h0.95v0.95h-0.95zM421.86,631.81h0.95v0.95h-0.95zM438.39,608.49h0.95v0.95h-0.95zM445.92,616.12h0.95v0.95h-0.95zM449.15,606.97h0.95v0.95h-0.95zM429.76,615.94h0.95v0.95h-0.95zM431.1,614.54h0.95v0.95h-0.95zM446.28,613.18h0.95v0.95h-0.95zM425.71,620.05h0.95v0.95h-0.95zM445.77,616.92h0.95v0.95h-0.95zM433.67,624.77h0.95v0.95h-0.95zM428.14,618.81h0.95v0.95h-0.95zM429.71,628.13h0.95v0.95h-0.95zM436.72,610.49h0.95v0.95h-0.95zM446.92,618.5h0.95v0.95h-0.95zM438.32,609.45h0.95v0.95h-0.95zM446.73,609.53h0.95v0.95h-0.95zM439.74,619.14h0.95v0.95h-0.95zM436.86,622.8h0.95v0.95h-0.95zM421.65,631.16h0.95v0.95h-0.95zM423.93,623.53h0.95v0.95h-0.95zM437.32,610.58h0.95v0.95h-0.95zM432.6,613.82h0.95v0.95h-0.95zM429.74,617.26h0.95v0.95h-0.95zM424.03,622.95h0.95v0.95h-0.95zM434.82,623.18h0.95v0.95h-0.95zM421.95,629.09h0.95v0.95h-0.95zM426.76,621.13h0.95v0.95h-0.95zM424.23,632.1h0.95v0.95h-0.95zM424.28,632.66h0.95v0.95h-0.95zM446.94,609.49h0.95v0.95h-0.95zM423.91,624.28h0.95v0.95h-0.95zM423.6,631.73h0.95v0.95h-0.95zM427.18,630.63h0.95v0.95h-0.95zM442.25,605.29h0.95v0.95h-0.95zM444.69,608.07h0.95v0.95h-0.95zM442.01,617.52h0.95v0.95h-0.95zM423.96,635.98h0.95v0.95h-0.95zM443.41,608.39h0.95v0.95h-0.95zM443.37,621.71h0.95v0.95h-0.95zM437.88,609.89h0.95v0.95h-0.95zM441.32,609h0.95v0.95h-0.95zM421.74,630.35h0.95v0.95h-0.95zM433.37,627.06h0.95v0.95h-0.95zM444.72,602.67h0.95v0.95h-0.95zM428.37,615.94h0.95v0.95h-0.95zM422.6,625.66h0.95v0.95h-0.95zM424.79,623.33h0.95v0.95h-0.95zM432.37,612.97h0.95v0.95h-0.95zM422.07,631.39h0.95v0.95h-0.95zM429.04,630.14h0.95v0.95h-0.95zM428.9,628.56h0.95v0.95h-0.95zM427.42,621.17h0.95v0.95h-0.95zM441.38,620h0.95v0.95h-0.95zM432.45,626.78h0.95v0.95h-0.95zM424.1,633.12h0.95v0.95h-0.95zM421.76,628.46h0.95v0.95h-0.95zM432.7,625.25h0.95v0.95h-0.95zM433.87,626.42h0.95v0.95h-0.95zM447.65,609.88h0.95v0.95h-0.95zM424.08,633.63h0.95v0.95h-0.95zM421.14,628.74h0.95v0.95h-0.95zM421.78,630.94h0.95v0.95h-0.95zM428.37,629.6h0.95v0.95h-0.95zM426.96,621.86h0.95v0.95h-0.95zM445.2,607.68h0.95v0.95h-0.95zM434.11,625.56h0.95v0.95h-0.95zM422.29,630.79h0.95v0.95h-0.95zM444.84,615.25h0.95v0.95h-0.95zM435.73,624.49h0.95v0.95h-0.95zM446.91,612.64h0.95v0.95h-0.95zM427.55,618.9h0.95v0.95h-0.95zM445.22,609.39h0.95v0.95h-0.95zM427.1,617.65h0.95v0.95h-0.95zM447.72,609.81h0.95v0.95h-0.95zM422.98,626.29h0.95v0.95h-0.95zM422.21,631.43h0.95v0.95h-0.95zM426.62,632.44h0.95v0.95h-0.95zM448.64,609.36h0.95v0.95h-0.95zM434.79,612.63h0.95v0.95h-0.95zM424.45,621.76h0.95v0.95h-0.95zM422.93,618.32h0.95v0.95h-0.95zM421.23,631.67h0.95v0.95h-0.95zM428.8,630.64h0.95v0.95h-0.95zM444.87,608.12h0.95v0.95h-0.95zM422.25,612.08h0.95v0.95h-0.95zM438.09,619.15h0.95v0.95h-0.95zM437.07,621.18h0.95v0.95h-0.95zM435.66,624.15h0.95v0.95h-0.95zM425.65,622.42h0.95v0.95h-0.95zM428.73,618.38h0.95v0.95h-0.95zM429.21,618.43h0.95v0.95h-0.95zM437.35,609.62h0.95v0.95h-0.95zM421.68,624.37h0.95v0.95h-0.95zM440.26,608.96h0.95v0.95h-0.95zM435.94,626.85h0.95v0.95h-0.95zM424.19,623.86h0.95v0.95h-0.95zM422.15,628.7h0.95v0.95h-0.95zM424.33,631.29h0.95v0.95h-0.95zM445.27,614.69h0.95v0.95h-0.95zM429.11,630.19h0.95v0.95h-0.95zM423.01,631.36h0.95v0.95h-0.95zM439.25,602.53h0.95v0.95h-0.95zM430.7,628h0.95v0.95h-0.95zM427.34,611.84h0.95v0.95h-0.95zM423.96,632.8h0.95v0.95h-0.95zM441.74,616.9h0.95v0.95h-0.95zM447.19,610.26h0.95v0.95h-0.95zM429.33,614.29h0.95v0.95h-0.95zM429.6,613.83h0.95v0.95h-0.95zM424.23,632.17h0.95v0.95h-0.95zM444.94,607.57h0.95v0.95h-0.95zM421.2,628.73h0.95v0.95h-0.95zM433.32,611.4h0.95v0.95h-0.95zM437.83,629.01h0.95v0.95h-0.95zM432.63,629.93h0.95v0.95h-0.95zM444.95,615.28h0.95v0.95h-0.95zM423.21,632.18h0.95v0.95h-0.95zM443.11,616.95h0.95v0.95h-0.95zM447.56,608.74h0.95v0.95h-0.95zM423.17,632.59h0.95v0.95h-0.95zM432.32,627.12h0.95v0.95h-0.95zM431.21,626.34h0.95v0.95h-0.95zM439.08,609.13h0.95v0.95h-0.95zM447.84,611.31h0.95v0.95h-0.95zM434.77,623.18h0.95v0.95h-0.95zM446.64,609.52h0.95v0.95h-0.95zM422.09,627.59h0.95v0.95h-0.95zM427.12,620.49h0.95v0.95h-0.95zM428.05,630.61h0.95v0.95h-0.95zM424.16,631.95h0.95v0.95h-0.95zM433.62,625.44h0.95v0.95h-0.95zM439.18,623.31h0.95v0.95h-0.95zM426.88,620.42h0.95v0.95h-0.95zM446.26,613.76h0.95v0.95h-0.95zM448.22,611.05h0.95v0.95h-0.95zM438.64,620.68h0.95v0.95h-0.95zM421.55,631.13h0.95v0.95h-0.95zM438.01,619.91h0.95v0.95h-0.95zM427.89,619.14h0.95v0.95h-0.95zM433.67,611.82h0.95v0.95h-0.95zM421.98,629.25h0.95v0.95h-0.95zM439.01,609.03h0.95v0.95h-0.95zM420.92,628.38h0.95v0.95h-0.95zM421.66,628.05h0.95v0.95h-0.95zM438.49,620.18h0.95v0.95h-0.95zM439.93,609.43h0.95v0.95h-0.95zM424.81,621.83h0.95v0.95h-0.95zM434.04,626.17h0.95v0.95h-0.95zM431.98,627.72h0.95v0.95h-0.95zM438.33,620.09h0.95v0.95h-0.95zM442.08,608.56h0.95v0.95h-0.95zM439.97,609.46h0.95v0.95h-0.95zM436.17,609.5h0.95v0.95h-0.95zM448.48,611.43h0.95v0.95h-0.95zM423.89,631.34h0.95v0.95h-0.95zM424.03,633.73h0.95v0.95h-0.95zM441.48,607.73h0.95v0.95h-0.95zM448.95,613.94h0.95v0.95h-0.95zM436.6,622.11h0.95v0.95h-0.95zM446.4,609.08h0.95v0.95h-0.95zM431.82,613.74h0.95v0.95h-0.95zM424.8,623.17h0.95v0.95h-0.95zM425.65,622.77h0.95v0.95h-0.95zM428.25,629.83h0.95v0.95h-0.95zM424.27,626.06h0.95v0.95h-0.95zM442.09,616.81h0.95v0.95h-0.95zM443.16,616.28h0.95v0.95h-0.95zM421.28,631.73h0.95v0.95h-0.95zM439.58,619.55h0.95v0.95h-0.95zM423.93,613.86h0.95v0.95h-0.95zM426.28,620.74h0.95v0.95h-0.95zM422.17,631.61h0.95v0.95h-0.95z" fill="#111"/>
<path d="M428.3,622.34h0.95v0.95h-0.95zM426.03,628.49h0.95v0.95h-0.95zM425.69,627.37h0.95v0.95h-0.95zM437.92,614.36h0.95v0.95h-0.95zM433.73,623.92h0.95v0.95h-0.95zM445.56,612.63h0.95v0.95h-0.95zM438.3,619.28h0.95v0.95h-0.95zM437.13,620.26h0.95v0.95h-0.95zM425.09,628.23h0.95v0.95h-0.95zM434.08,623.63h0.95v0.95h-0.95zM432.21,616.69h0.95v0.95h-0.95zM425.42,629.66h0.95v0.95h-0.95zM433.19,618.61h0.95v0.95h-0.95zM437.88,617.11h0.95v0.95h-0.95zM440.82,617.26h0.95v0.95h-0.95zM438.28,612.63h0.95v0.95h-0.95zM427.39,620.91h0.95v0.95h-0.95zM432.79,616.33h0.95v0.95h-0.95zM440.68,609.9h0.95v0.95h-0.95zM429.45,625.73h0.95v0.95h-0.95zM432.63,622.33h0.95v0.95h-0.95zM429.01,626.83h0.95v0.95h-0.95zM432.2,615.38h0.95v0.95h-0.95zM427.74,627.88h0.95v0.95h-0.95zM426.94,627.65h0.95v0.95h-0.95zM429.08,619.06h0.95v0.95h-0.95zM442.2,610.41h0.95v0.95h-0.95zM426.72,624.63h0.95v0.95h-0.95zM426.51,626.31h0.95v0.95h-0.95zM430.61,623.65h0.95v0.95h-0.95zM434.01,614.23h0.95v0.95h-0.95zM433.09,622.05h0.95v0.95h-0.95zM431.04,624.64h0.95v0.95h-0.95zM437.39,616.36h0.95v0.95h-0.95zM423.1,629.43h0.95v0.95h-0.95zM443.94,612.25h0.95v0.95h-0.95zM429.38,621.11h0.95v0.95h-0.95zM442.23,613.77h0.95v0.95h-0.95zM428.94,618.8h0.95v0.95h-0.95zM423.98,626.02h0.95v0.95h-0.95zM439.75,616.93h0.95v0.95h-0.95zM441.1,615.36h0.95v0.95h-0.95zM440.4,612.13h0.95v0.95h-0.95zM426.49,623.56h0.95v0.95h-0.95zM435.2,613.27h0.95v0.95h-0.95zM430.92,626.07h0.95v0.95h-0.95zM438.17,610.99h0.95v0.95h-0.95zM424.41,629.59h0.95v0.95h-0.95zM428.96,621.22h0.95v0.95h-0.95zM427.82,621.95h0.95v0.95h-0.95zM425.94,626.94h0.95v0.95h-0.95zM444.51,611.34h0.95v0.95h-0.95zM426.36,624.5h0.95v0.95h-0.95zM433.53,622.37h0.95v0.95h-0.95zM446.9,610.67h0.95v0.95h-0.95zM424.14,626.08h0.95v0.95h-0.95zM433.35,617.45h0.95v0.95h-0.95zM427.19,622.79h0.95v0.95h-0.95zM438.32,619.16h0.95v0.95h-0.95z" fill="#111"/>
<polygon points="423.49,629.23 424.18,626.46 426.26,623 428.34,620.23 431.11,616.77 433.88,614 436.64,612.27 439.41,610.54 442.18,609.85 444.95,610.19 446.34,611.58 444.95,614 442.18,616.08 439.41,618.16 436.64,620.92 433.88,623.69 431.11,625.77 428.34,627.85 425.57,629.92 423.84,630.62" fill="#000"/>
<path d="M426.17,637.9v1.3M429.78,637.9v1.3M432.34,637.9v1.3M434.33,637.9v1.3M435.95,637.9v1.3M437.32,637.9v1.3M438.51,637.9v1.3M439.56,637.9v1.3M420,631.87h-1.3M420,628.35h-1.3M420,625.84h-1.3M420,623.9h-1.3M420,622.32h-1.3M420,620.98h-1.3M420,619.82h-1.3M420,618.79h-1.3M446.67,637.9v1.3M450.28,637.9v1.3M452.84,637.9v1.3M454.83,637.9v1.3M456.45,637.9v1.3M457.82,637.9v1.3M459.01,637.9v1.3M460.06,637.9v1.3M420,611.85h-1.3M420,608.32h-1.3M420,605.82h-1.3M420,603.88h-1.3M420,602.29h-1.3M420,600.95h-1.3M420,599.79h-1.3M420,598.77h-1.3M467.17,637.9v1.3M470.78,637.9v1.3M473.34,637.9v1.3M475.33,637.9v1.3M476.95,637.9v1.3M478.32,637.9v1.3M479.51,637.9v1.3M480.56,637.9v1.3M420,591.82h-1.3M420,588.3h-1.3M420,585.79h-1.3M420,583.85h-1.3M420,582.27h-1.3M420,580.93h-1.3M420,579.77h-1.3M420,578.74h-1.3M487.67,637.9v1.3M491.28,637.9v1.3M493.84,637.9v1.3M495.83,637.9v1.3M497.45,637.9v1.3M498.82,637.9v1.3M500.01,637.9v1.3M501.06,637.9v1.3M420,571.8h-1.3M420,568.27h-1.3M420,565.77h-1.3M420,563.83h-1.3M420,562.24h-1.3M420,560.9h-1.3M420,559.74h-1.3M420,558.72h-1.3M420,637.9v2M420,637.9h-2M440.5,637.9v2M420,617.88h-2M461,637.9v2M420,597.85h-2M481.5,637.9v2M420,577.82h-2M502,637.9v2M420,557.8h-2" stroke="#222" stroke-width="0.7" fill="none"/>
<line x1="420" y1="557.8" x2="502" y2="557.8" stroke="#555" stroke-width="0.9"/>
<line x1="502" y1="557.35" x2="502" y2="637.9" stroke="#333" stroke-width="1.4"/>
<line x1="420" y1="557.4" x2="420" y2="638.5" stroke="#111" stroke-width="1.5"/>
<line x1="419.6" y1="637.9" x2="502.6" y2="637.9" stroke="#111" stroke-width="1.6"/>
<line x1="444.2" y1="557.8" x2="444.2" y2="637.9" stroke="#333" stroke-width="1"/>
<line x1="420" y1="607.3" x2="502" y2="607.3" stroke="#2a2a2a" stroke-width="1.1"/>
<text x="415.9" y="647.2" font-size="6.2" fill="#3a3a3a" textLength="7.9" lengthAdjust="spacingAndGlyphs">10<tspan dy="-2.4" font-size="4.4">0</tspan></text>
<text x="436.4" y="647.2" font-size="6.2" fill="#3a3a3a" textLength="7.9" lengthAdjust="spacingAndGlyphs">10<tspan dy="-2.4" font-size="4.4">1</tspan></text>
<text x="456.9" y="647.2" font-size="6.2" fill="#3a3a3a" textLength="7.9" lengthAdjust="spacingAndGlyphs">10<tspan dy="-2.4" font-size="4.4">2</tspan></text>
<text x="477.4" y="647.2" font-size="6.2" fill="#3a3a3a" textLength="7.9" lengthAdjust="spacingAndGlyphs">10<tspan dy="-2.4" font-size="4.4">3</tspan></text>
<text x="497.9" y="647.2" font-size="6.2" fill="#3a3a3a" textLength="7.9" lengthAdjust="spacingAndGlyphs">10<tspan dy="-2.4" font-size="4.4">4</tspan></text>
<text transform="translate(416.1,642.8) rotate(-90)" font-size="6.8" fill="#3a3a3a" textLength="8.6" lengthAdjust="spacingAndGlyphs">10<tspan dy="-2.6" font-size="4.8">0</tspan></text>
<text transform="translate(416.1,622.77) rotate(-90)" font-size="6.8" fill="#3a3a3a" textLength="8.6" lengthAdjust="spacingAndGlyphs">10<tspan dy="-2.6" font-size="4.8">1</tspan></text>
<text transform="translate(416.1,602.75) rotate(-90)" font-size="6.8" fill="#3a3a3a" textLength="8.6" lengthAdjust="spacingAndGlyphs">10<tspan dy="-2.6" font-size="4.8">2</tspan></text>
<text transform="translate(416.1,582.72) rotate(-90)" font-size="6.8" fill="#3a3a3a" textLength="8.6" lengthAdjust="spacingAndGlyphs">10<tspan dy="-2.6" font-size="4.8">3</tspan></text>
<text transform="translate(416.1,561.6) rotate(-90)" font-size="6.8" fill="#3a3a3a" textLength="5.8" lengthAdjust="spacingAndGlyphs">10</text>
<text x="416.6" y="552.2" font-size="9" textLength="74.2" lengthAdjust="spacingAndGlyphs" fill="#151515">IACS + cytarabine</text>
<text x="474.7" y="573.6" font-size="10.4" textLength="24.1" lengthAdjust="spacingAndGlyphs" fill="#1a1a1a">3.0%</text>
<text x="475.8" y="630.7" font-size="10.4" textLength="23" lengthAdjust="spacingAndGlyphs" fill="#1a1a1a">1.1%</text>
<rect x="0" y="0" width="520" height="1.05" fill="#000"/><rect x="0" y="0" width="1.0" height="677" fill="#000"/><rect x="518.65" y="0" width="1.35" height="677" fill="#000"/><rect x="0" y="675.6" width="520" height="1.4" fill="#000"/>
</svg>
</div>
</body></html>
